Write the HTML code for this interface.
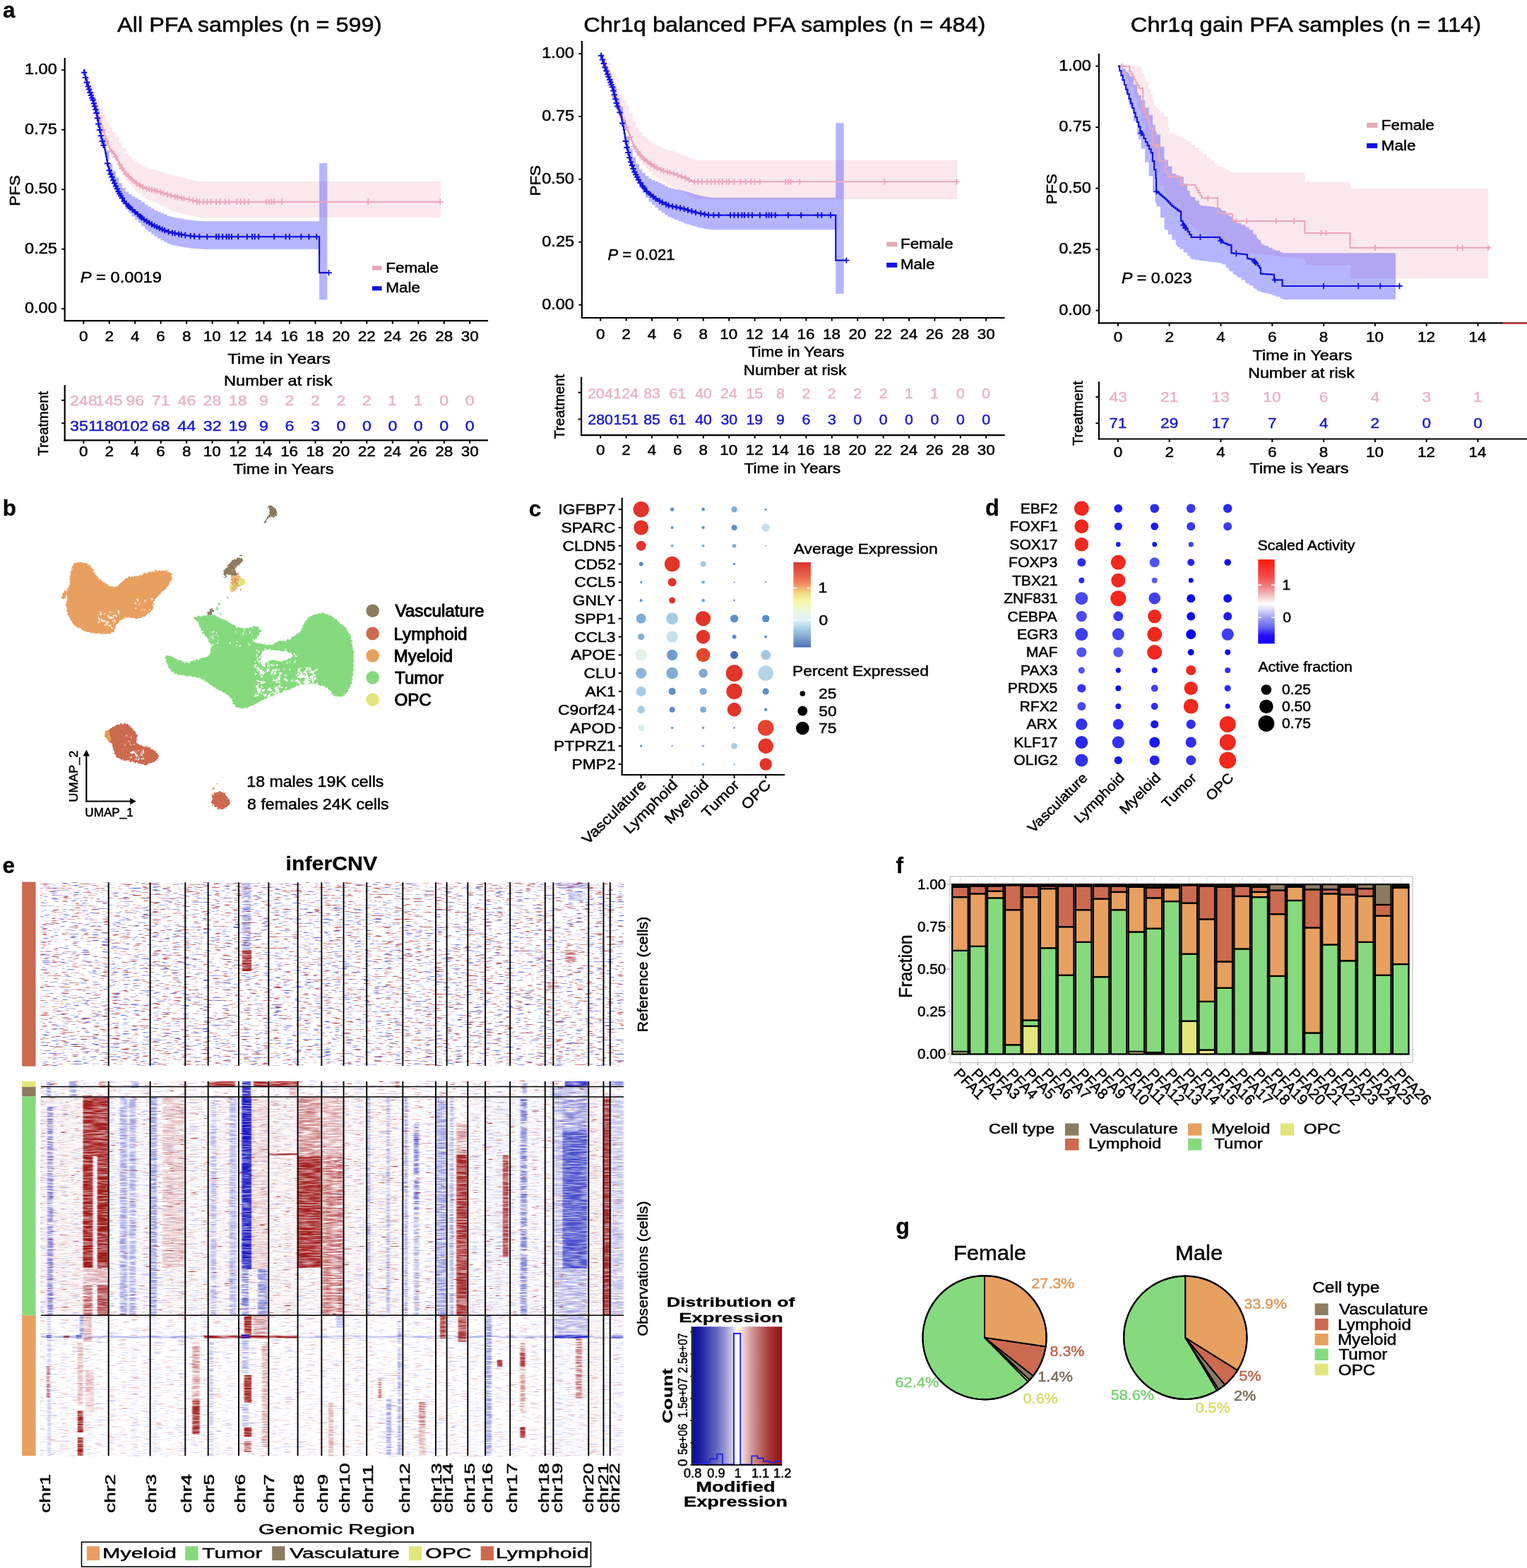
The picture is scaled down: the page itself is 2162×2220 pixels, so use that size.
<!DOCTYPE html>
<html><head><meta charset="utf-8"><title>Figure</title>
<style>
html,body{margin:0;padding:0;background:#fff;}
body{width:2162px;height:2220px;overflow:hidden;}
svg{display:block;}
text{font-family:"Liberation Sans",Arial,Helvetica,sans-serif;}
</style></head><body>
<svg width="2162" height="2220" viewBox="0 0 2162 2220">
<rect x="0" y="0" width="2162" height="2220" fill="#fff"/>
<text transform="translate(4.8,24.6)" x="-0.79" y="0" font-size="31.5" fill="#000" font-weight="bold" stroke="#000" stroke-width="0.3">a</text>
<text transform="translate(166.1,45.3) scale(1.0824,1)" x="-0" y="0" font-size="30" fill="#000" stroke="#000" stroke-width="0.5">All PFA samples (n = 599)</text>
<polygon points="118.3,99.2 122.86,99.2 122.86,109.21 127.41,109.21 127.41,119.21 131.97,119.21 131.97,129.28 136.53,129.28 136.53,141.57 141.09,141.57 141.09,152.19 145.64,152.19 145.64,162.45 150.2,162.45 150.2,172.76 154.76,172.76 154.76,180.43 159.32,180.43 159.32,187.14 163.88,187.14 163.88,193.25 168.43,193.25 168.43,202.21 172.99,202.21 172.99,209.7 177.55,209.7 177.55,216.4 182.1,216.4 182.1,221.06 186.66,221.06 186.66,225.49 191.22,225.49 191.22,229.21 195.78,229.21 195.78,232.6 200.33,232.6 200.33,234.94 204.89,234.94 204.89,237.28 209.45,237.28 209.45,238.77 214.01,238.77 214.01,239.8 218.56,239.8 218.56,240.82 223.12,240.82 223.12,242.26 227.68,242.26 227.68,243.71 232.24,243.71 232.24,245.15 236.8,245.15 236.8,246.52 241.35,246.52 241.35,247.86 245.91,247.86 245.91,249.2 250.47,249.2 250.47,250.36 255.02,250.36 255.02,251.28 259.58,251.28 259.58,252.21 264.14,252.21 264.14,253.15 268.7,253.15 268.7,254.18 273.25,254.18 273.25,255.2 277.81,255.2 277.81,256.23 282.37,256.23 282.37,257.05 286.93,257.05 286.93,257.05 291.49,257.05 291.49,257.05 296.04,257.05 296.04,257.05 300.6,257.05 300.6,257.05 305.16,257.05 305.16,257.05 309.71,257.05 309.71,257.05 314.27,257.05 314.27,257.05 318.83,257.05 318.83,257.05 323.39,257.05 323.39,257.05 327.94,257.05 327.94,257.05 332.5,257.05 332.5,257.05 337.06,257.05 337.06,257.05 341.62,257.05 341.62,257.05 346.18,257.05 346.18,257.05 350.73,257.05 350.73,257.05 355.29,257.05 355.29,257.05 359.85,257.05 359.85,257.05 364.41,257.05 364.41,257.05 368.96,257.05 368.96,257.05 373.52,257.05 373.52,257.05 378.08,257.05 378.08,257.05 382.63,257.05 382.63,257.05 387.19,257.05 387.19,257.05 391.75,257.05 391.75,257.05 396.31,257.05 396.31,257.05 400.87,257.05 400.87,257.05 405.42,257.05 405.42,257.05 409.98,257.05 409.98,257.05 414.54,257.05 414.54,257.05 419.1,257.05 419.1,257.05 423.65,257.05 423.65,257.05 428.21,257.05 428.21,257.05 432.77,257.05 432.77,257.05 437.33,257.05 437.33,257.05 441.88,257.05 441.88,257.05 446.44,257.05 446.44,257.05 451,257.05 451,257.05 455.56,257.05 455.56,257.05 460.11,257.05 460.11,257.05 464.67,257.05 464.67,257.05 469.23,257.05 469.23,257.05 473.79,257.05 473.79,257.05 478.34,257.05 478.34,257.05 482.9,257.05 482.9,257.05 487.46,257.05 487.46,257.05 492.02,257.05 492.02,257.05 496.57,257.05 496.57,257.05 501.13,257.05 501.13,257.05 505.69,257.05 505.69,257.05 510.25,257.05 510.25,257.05 514.8,257.05 514.8,257.05 519.36,257.05 519.36,257.05 523.92,257.05 523.92,257.05 528.48,257.05 528.48,257.05 533.03,257.05 533.03,257.05 537.59,257.05 537.59,257.05 542.15,257.05 542.15,257.05 546.71,257.05 546.71,257.05 551.26,257.05 551.26,257.05 555.82,257.05 555.82,257.05 560.38,257.05 560.38,257.05 564.93,257.05 564.93,257.05 569.49,257.05 569.49,257.05 574.05,257.05 574.05,257.05 578.61,257.05 578.61,257.05 583.16,257.05 583.16,257.05 587.72,257.05 587.72,257.05 592.28,257.05 592.28,257.05 596.84,257.05 596.84,257.05 601.39,257.05 601.39,257.05 605.95,257.05 605.95,257.05 610.51,257.05 610.51,257.05 615.07,257.05 615.07,257.05 619.62,257.05 619.62,257.05 624.18,257.05 624.18,308.08 619.62,308.08 619.62,308.08 615.07,308.08 615.07,308.08 610.51,308.08 610.51,308.08 605.95,308.08 605.95,308.08 601.39,308.08 601.39,308.08 596.84,308.08 596.84,308.08 592.28,308.08 592.28,308.08 587.72,308.08 587.72,308.08 583.16,308.08 583.16,308.08 578.61,308.08 578.61,308.08 574.05,308.08 574.05,308.08 569.49,308.08 569.49,308.08 564.93,308.08 564.93,308.08 560.38,308.08 560.38,308.08 555.82,308.08 555.82,308.08 551.26,308.08 551.26,308.08 546.71,308.08 546.71,308.08 542.15,308.08 542.15,308.08 537.59,308.08 537.59,308.08 533.03,308.08 533.03,308.08 528.48,308.08 528.48,308.08 523.92,308.08 523.92,308.08 519.36,308.08 519.36,308.08 514.8,308.08 514.8,308.08 510.25,308.08 510.25,308.08 505.69,308.08 505.69,308.08 501.13,308.08 501.13,308.08 496.57,308.08 496.57,308.08 492.02,308.08 492.02,308.08 487.46,308.08 487.46,308.08 482.9,308.08 482.9,308.08 478.34,308.08 478.34,308.08 473.79,308.08 473.79,308.08 469.23,308.08 469.23,308.08 464.67,308.08 464.67,308.08 460.11,308.08 460.11,308.08 455.56,308.08 455.56,308.08 451,308.08 451,308.08 446.44,308.08 446.44,308.08 441.88,308.08 441.88,308.08 437.33,308.08 437.33,308.08 432.77,308.08 432.77,308.08 428.21,308.08 428.21,308.08 423.65,308.08 423.65,308.08 419.1,308.08 419.1,308.08 414.54,308.08 414.54,308.08 409.98,308.08 409.98,308.08 405.42,308.08 405.42,308.08 400.87,308.08 400.87,308.08 396.31,308.08 396.31,308.08 391.75,308.08 391.75,308.08 387.19,308.08 387.19,308.08 382.63,308.08 382.63,308.08 378.08,308.08 378.08,308.08 373.52,308.08 373.52,308.08 368.96,308.08 368.96,308.08 364.41,308.08 364.41,308.08 359.85,308.08 359.85,308.08 355.29,308.08 355.29,308.08 350.73,308.08 350.73,308.08 346.18,308.08 346.18,308.08 341.62,308.08 341.62,308.08 337.06,308.08 337.06,308.08 332.5,308.08 332.5,308.08 327.94,308.08 327.94,308.08 323.39,308.08 323.39,308.08 318.83,308.08 318.83,308.08 314.27,308.08 314.27,308.08 309.71,308.08 309.71,308.08 305.16,308.08 305.16,308.08 300.6,308.08 300.6,308.08 296.04,308.08 296.04,308.08 291.49,308.08 291.49,308.08 286.93,308.08 286.93,308.08 282.37,308.08 282.37,307.26 277.81,307.26 277.81,306.24 273.25,306.24 273.25,305.22 268.7,305.22 268.7,304.19 264.14,304.19 264.14,303.25 259.58,303.25 259.58,302.32 255.02,302.32 255.02,301.39 250.47,301.39 250.47,300.24 245.91,300.24 245.91,298.1 241.35,298.1 241.35,295.96 236.8,295.96 236.8,293.8 232.24,293.8 232.24,291.56 227.68,291.56 227.68,289.32 223.12,289.32 223.12,287.08 218.56,287.08 218.56,285.26 214.01,285.26 214.01,283.44 209.45,283.44 209.45,281.14 204.89,281.14 204.89,278.01 200.33,278.01 200.33,274.87 195.78,274.87 195.78,270.69 191.22,270.69 191.22,266.17 186.66,266.17 186.66,260.94 182.1,260.94 182.1,255.49 177.55,255.49 177.55,247.99 172.99,247.99 172.99,239.7 168.43,239.7 168.43,229.94 163.88,229.94 163.88,223.04 159.32,223.04 159.32,215.54 154.76,215.54 154.76,203.47 150.2,203.47 150.2,188.78 145.64,188.78 145.64,174.13 141.09,174.13 141.09,159.12 136.53,159.12 136.53,142.45 131.97,142.45 131.97,127.99 127.41,127.99 127.41,113.6 122.86,113.6 122.86,99.2 118.3,99.2" fill="#f2b8c6" fill-opacity="0.33"/>
<polygon points="118.3,99.2 122.86,99.2 122.86,115.56 127.41,115.56 127.41,128.67 131.97,128.67 131.97,139.46 136.53,139.46 136.53,155.18 141.09,155.18 141.09,177.87 145.64,177.87 145.64,195.42 150.2,195.42 150.2,213.28 154.76,213.28 154.76,231.59 159.32,231.59 159.32,242.03 163.88,242.03 163.88,251.2 168.43,251.2 168.43,259.37 172.99,259.37 172.99,265.74 177.55,265.74 177.55,271.5 182.1,271.5 182.1,274.84 186.66,274.84 186.66,278.03 191.22,278.03 191.22,280.6 195.78,280.6 195.78,283.22 200.33,283.22 200.33,285.96 204.89,285.96 204.89,289.61 209.45,289.61 209.45,292.42 214.01,292.42 214.01,295.24 218.56,295.24 218.56,297.67 223.12,297.67 223.12,299.88 227.68,299.88 227.68,302.07 232.24,302.07 232.24,303.86 236.8,303.86 236.8,305.66 241.35,305.66 241.35,307.1 245.91,307.1 245.91,308.03 250.47,308.03 250.47,308.96 255.02,308.96 255.02,309.86 259.58,309.86 259.58,310.58 264.14,310.58 264.14,311.3 268.7,311.3 268.7,312.02 273.25,312.02 273.25,312.4 277.81,312.4 277.81,312.71 282.37,312.71 282.37,313.02 286.93,313.02 286.93,313.15 291.49,313.15 291.49,313.15 296.04,313.15 296.04,313.15 300.6,313.15 300.6,313.15 305.16,313.15 305.16,313.15 309.71,313.15 309.71,313.15 314.27,313.15 314.27,313.15 318.83,313.15 318.83,313.15 323.39,313.15 323.39,313.15 327.94,313.15 327.94,313.15 332.5,313.15 332.5,313.15 337.06,313.15 337.06,313.15 341.62,313.15 341.62,313.15 346.18,313.15 346.18,313.15 350.73,313.15 350.73,313.15 355.29,313.15 355.29,313.15 359.85,313.15 359.85,313.15 364.41,313.15 364.41,313.15 368.96,313.15 368.96,313.15 373.52,313.15 373.52,313.15 378.08,313.15 378.08,313.15 382.63,313.15 382.63,313.15 387.19,313.15 387.19,313.15 391.75,313.15 391.75,313.15 396.31,313.15 396.31,313.15 400.87,313.15 400.87,313.15 405.42,313.15 405.42,313.15 409.98,313.15 409.98,313.15 414.54,313.15 414.54,313.15 419.1,313.15 419.1,313.15 423.65,313.15 423.65,313.15 428.21,313.15 428.21,313.15 432.77,313.15 432.77,313.15 437.33,313.15 437.33,313.15 441.88,313.15 441.88,313.15 446.44,313.15 446.44,313.15 451,313.15 451,313.15 452.09,313.15 452.09,352.7 451,352.7 451,352.7 446.44,352.7 446.44,352.7 441.88,352.7 441.88,352.7 437.33,352.7 437.33,352.7 432.77,352.7 432.77,352.7 428.21,352.7 428.21,352.7 423.65,352.7 423.65,352.7 419.1,352.7 419.1,352.7 414.54,352.7 414.54,352.7 409.98,352.7 409.98,352.7 405.42,352.7 405.42,352.7 400.87,352.7 400.87,352.7 396.31,352.7 396.31,352.7 391.75,352.7 391.75,352.7 387.19,352.7 387.19,352.7 382.63,352.7 382.63,352.7 378.08,352.7 378.08,352.7 373.52,352.7 373.52,352.7 368.96,352.7 368.96,352.7 364.41,352.7 364.41,352.7 359.85,352.7 359.85,352.7 355.29,352.7 355.29,352.7 350.73,352.7 350.73,352.7 346.18,352.7 346.18,352.7 341.62,352.7 341.62,352.7 337.06,352.7 337.06,352.7 332.5,352.7 332.5,352.7 327.94,352.7 327.94,352.7 323.39,352.7 323.39,352.7 318.83,352.7 318.83,352.7 314.27,352.7 314.27,352.7 309.71,352.7 309.71,352.7 305.16,352.7 305.16,352.7 300.6,352.7 300.6,352.7 296.04,352.7 296.04,352.7 291.49,352.7 291.49,352.7 286.93,352.7 286.93,352.56 282.37,352.56 282.37,352.25 277.81,352.25 277.81,351.95 273.25,351.95 273.25,351.57 268.7,351.57 268.7,350.85 264.14,350.85 264.14,350.13 259.58,350.13 259.58,349.41 255.02,349.41 255.02,348.5 250.47,348.5 250.47,347.58 245.91,347.58 245.91,346.65 241.35,346.65 241.35,345.2 236.8,345.2 236.8,342.73 232.24,342.73 232.24,340.27 227.68,340.27 227.68,337.4 223.12,337.4 223.12,334.51 218.56,334.51 218.56,331.41 214.01,331.41 214.01,327.91 209.45,327.91 209.45,324.42 204.89,324.42 204.89,320.1 200.33,320.1 200.33,315.46 195.78,315.46 195.78,310.95 191.22,310.95 191.22,306.48 186.66,306.48 186.66,301.39 182.1,301.39 182.1,296.15 177.55,296.15 177.55,288.49 172.99,288.49 172.99,280.23 168.43,280.23 168.43,270.17 163.88,270.17 163.88,259.09 159.32,259.09 159.32,246.76 154.76,246.76 154.76,226.56 150.2,226.56 150.2,206.8 145.64,206.8 145.64,187.35 141.09,187.35 141.09,162.77 136.53,162.77 136.53,145.15 131.97,145.15 131.97,132.46 127.41,132.46 127.41,117.45 122.86,117.45 122.86,99.2 118.3,99.2" fill="#3333ff" fill-opacity="0.36"/>
<rect x="452.09" y="231.02" width="11.3" height="193.34" fill="#3333ff" fill-opacity="0.36"/>
<path d="M118.3,99.2H119.21V101.92H120.12V104.64H121.03V107.36H121.95V110.08H122.86V112.8H123.77V115.52H124.68V118.24H125.59V120.96H126.5V123.68H127.41V126.39H128.33V129.11H129.24V131.82H130.15V134.54H131.06V137.25H131.97V140.06H132.88V143.23H133.8V146.41H134.71V149.58H135.62V152.76H136.53V155.93H137.44V159.11H138.35V162.01H139.26V164.72H140.18V167.44H141.09V170.15H142V172.86H142.91V175.58H143.82V178.29H144.73V181.14H145.65V184H146.56V186.85H147.47V189.7H148.38V192.55H149.29V195.4H150.2V197.9H151.11V200.15H152.03V202.4H152.94V204.66H153.85V206.91H154.76V209.16H155.67V211.42H156.58V212.53H157.49V213.64H158.41V214.75H159.32V215.87H160.23V216.98H161.14V218.09H162.05V219.21H162.96V220.32H163.87V221.98H164.79V223.77H165.7V225.56H166.61V227.35H167.52V229.15H168.43V230.94H169.34V232.66H170.26V234.1H171.17V235.55H172.08V236.99H172.99V238.43H173.9V239.87H174.81V241.32H175.72V242.76H176.64V244.2H177.55V245.13H178.46V246.06H179.37V247H180.28V247.93H181.19V248.86H182.1V249.79H183.02V250.72H183.93V251.65H184.84V252.58H185.75V253.48H186.66V254.22H187.57V254.96H188.49V255.71H189.4V256.45H190.31V257.19H191.22V257.94H192.13V258.68H193.04V259.43H193.95V260.17H194.87V260.86H195.78V261.33H196.69V261.79H197.6V262.26H198.51V262.73H199.42V263.2H200.33V263.67H201.25V264.13H202.16V264.6H203.07V265.07H203.98V265.54H204.89V266.01H205.8V266.47H206.72V266.89H207.63V267.09H208.54V267.3H209.45V267.5H210.36V267.71H211.27V267.91H212.18V268.12H213.1V268.32H214.01V268.53H214.92V268.73H215.83V268.94H216.74V269.14H217.65V269.35H218.56V269.55H219.48V269.84H220.39V270.13H221.3V270.42H222.21V270.71H223.12V270.99H224.03V271.28H224.95V271.57H225.86V271.86H226.77V272.15H227.68V272.44H228.59V272.73H229.5V273.01H230.41V273.3H231.33V273.59H232.24V273.88H233.15V274.17H234.06V274.44H234.97V274.71H235.88V274.98H236.79V275.25H237.71V275.52H238.62V275.78H239.53V276.05H240.44V276.32H241.35V276.59H242.26V276.86H243.18V277.12H244.09V277.39H245V277.66H245.91V277.93H246.82V278.2H247.73V278.46H248.64V278.72H249.56V278.9H250.47V279.09H251.38V279.27H252.29V279.46H253.2V279.64H254.11V279.83H255.02V280.01H255.94V280.2H256.85V280.38H257.76V280.57H258.67V280.76H259.58V280.94H260.49V281.13H261.41V281.31H262.32V281.5H263.23V281.68H264.14V281.88H265.05V282.09H265.96V282.29H266.87V282.5H267.79V282.7H268.7V282.91H269.61V283.11H270.52V283.32H271.43V283.52H272.34V283.73H273.25V283.93H274.17V284.14H275.08V284.34H275.99V284.55H276.9V284.75H277.81V284.96H278.72V285.16H279.64V285.37H280.55V285.57H281.46V285.78H282.37H283.28H284.19H285.1H286.02H286.93H287.84H288.75H289.66H290.57H291.49H292.4H293.31H294.22H295.13H296.04H296.95H297.87H298.78H299.69H300.6H301.51H302.42H303.33H304.25H305.16H306.07H306.98H307.89H308.8H309.72H310.63H311.54H312.45H313.36H314.27H315.18H316.1H317.01H317.92H318.83H319.74H320.65H321.56H322.48H323.39H324.3H325.21H326.12H327.03H327.95H328.86H329.77H330.68H331.59H332.5H333.41H334.33H335.24H336.15H337.06H337.97H338.88H339.79H340.71H341.62H342.53H343.44H344.35H345.26H346.18H347.09H348H348.91H349.82H350.73H351.64H352.56H353.47H354.38H355.29H356.2H357.11H358.02H358.94H359.85H360.76H361.67H362.58H363.49H364.41H365.32H366.23H367.14H368.05H368.96H369.87H370.79H371.7H372.61H373.52H374.43H375.34H376.25H377.17H378.08H378.99H379.9H380.81H381.72H382.64H383.55H384.46H385.37H386.28H387.19H388.1H389.02H389.93H390.84H391.75H392.66H393.57H394.48H395.4H396.31H397.22H398.13H399.04H399.95H400.87H401.78H402.69H403.6H404.51H405.42H406.33H407.25H408.16H409.07H409.98H410.89H411.8H412.71H413.63H414.54H415.45H416.36H417.27H418.18H419.1H420.01H420.92H421.83H422.74H423.65H424.56H425.48H426.39H427.3H428.21H429.12H430.03H430.94H431.86H432.77H433.68H434.59H435.5H436.41H437.33H438.24H439.15H440.06H440.97H441.88H442.79H443.71H444.62H445.53H446.44H447.35H448.26H449.17H450.09H451H451.91H452.82H453.73H454.64H455.56H456.47H457.38H458.29H459.2H460.11H461.02H461.94H462.85H463.76H464.67H465.58H466.49H467.4H468.32H469.23H470.14H471.05H471.96H472.87H473.79H474.7H475.61H476.52H477.43H478.34H479.25H480.17H481.08H481.99H482.9H483.81H484.72H485.63H486.55H487.46H488.37H489.28H490.19H491.1H492.02H492.93H493.84H494.75H495.66H496.57H497.48H498.4H499.31H500.22H501.13H502.04H502.95H503.86H504.78H505.69H506.6H507.51H508.42H509.33H510.25H511.16H512.07H512.98H513.89H514.8H515.71H516.63H517.54H518.45H519.36H520.27H521.18H522.09H523.01H523.92H524.83H525.74H526.65H527.56H528.48H529.39H530.3H531.21H532.12H533.03H533.94H534.86H535.77H536.68H537.59H538.5H539.41H540.32H541.24H542.15H543.06H543.97H544.88H545.79H546.71H547.62H548.53H549.44H550.35H551.26H552.17H553.09H554H554.91H555.82H556.73H557.64H558.55H559.47H560.38H561.29H562.2H563.11H564.02H564.94H565.85H566.76H567.67H568.58H569.49H570.4H571.32H572.23H573.14H574.05H574.96H575.87H576.78H577.7H578.61H579.52H580.43H581.34H582.25H583.17H584.08H584.99H585.9H586.81H587.72H588.63H589.55H590.46H591.37H592.28H593.19H594.1H595.01H595.93H596.84H597.75H598.66H599.57H600.48H601.4H602.31H603.22H604.13H605.04H605.95H606.86H607.78H608.69H609.6H610.51H611.42H612.33H613.24H614.16H615.07H615.98H616.89H617.8H618.71H619.63H620.54H621.45H622.36H623.27H624.18" fill="none" stroke="#eaa6b8" stroke-width="2"/>
<path d="M119.57,115.52h8.4M123.77,111.32v8.4M125.04,131.82h8.4M129.24,127.62v8.4M130.51,149.58h8.4M134.71,145.38v8.4M135.98,167.44h8.4M140.18,163.24v8.4M141.44,184h8.4M145.64,179.8v8.4M146.91,200.15h8.4M151.11,195.95v8.4M154.21,214.75h8.4M158.41,210.55v8.4M159.68,221.98h8.4M163.88,217.78v8.4M165.14,232.66h8.4M169.34,228.46v8.4M168.79,238.43h8.4M172.99,234.23v8.4M174.26,246.06h8.4M178.46,241.86v8.4M177.91,249.79h8.4M182.1,245.59v8.4M183.37,254.96h8.4M187.57,250.76v8.4M188.84,259.43h8.4M193.04,255.23v8.4M194.31,262.73h8.4M198.51,258.53v8.4M197.96,264.6h8.4M202.16,260.4v8.4M203.43,267.09h8.4M207.63,262.89v8.4M207.07,267.91h8.4M211.27,263.71v8.4M210.72,268.73h8.4M214.92,264.53v8.4M214.37,269.55h8.4M218.56,265.35v8.4M218.01,270.71h8.4M222.21,266.51v8.4M223.48,272.44h8.4M227.68,268.24v8.4M227.13,273.59h8.4M231.33,269.39v8.4M232.6,275.25h8.4M236.8,271.05v8.4M238.06,276.86h8.4M242.26,272.66v8.4M243.53,278.46h8.4M247.73,274.26v8.4M247.18,279.27h8.4M251.38,275.07v8.4M252.65,280.38h8.4M256.85,276.18v8.4M256.29,281.13h8.4M260.49,276.93v8.4M263.59,282.7h8.4M267.79,278.5v8.4M269.06,283.93h8.4M273.25,279.73v8.4M274.52,285.16h8.4M278.72,280.96v8.4M278.17,285.78h8.4M282.37,281.58v8.4M283.64,285.78h8.4M287.84,281.58v8.4M289.11,285.78h8.4M293.31,281.58v8.4M294.58,285.78h8.4M298.78,281.58v8.4M301.87,285.78h8.4M306.07,281.58v8.4M307.34,285.78h8.4M311.54,281.58v8.4M314.63,285.78h8.4M318.83,281.58v8.4M320.1,285.78h8.4M324.3,281.58v8.4M331.04,285.78h8.4M335.24,281.58v8.4M336.51,285.78h8.4M340.71,281.58v8.4M341.98,285.78h8.4M346.18,281.58v8.4M347.44,285.78h8.4M351.64,281.58v8.4M372.97,285.78h8.4M377.17,281.58v8.4M376.61,285.78h8.4M380.81,281.58v8.4M380.26,285.78h8.4M384.46,281.58v8.4M383.9,285.78h8.4M388.1,281.58v8.4M394.84,285.78h8.4M399.04,281.58v8.4M516.98,285.78h8.4M521.18,281.58v8.4M619.07,285.78h8.4M623.27,281.58v8.4" fill="none" stroke="#eaa6b8" stroke-width="1.8"/>
<path d="M118.3,99.2H119.21V102.72H120.12V106.23H121.03V109.75H121.95V113.26H122.86V116.78H123.77V119.66H124.68V122.55H125.59V125.44H126.5V128.32H127.41V131.11H128.33V133.47H129.24V135.84H130.15V138.21H131.06V140.57H131.97V143.13H132.88V146.44H133.8V149.75H134.71V153.06H135.62V156.38H136.53V160.06H137.44V165.24H138.35V170.41H139.26V175.59H140.18V179.78H141.09V183.97H142V188.16H142.91V192.35H143.82V196.54H144.73V199.64H145.65V202.74H146.56V205.84H147.47V208.94H148.38V212.36H149.29V217.09H150.2V221.83H151.11V226.56H152.03V231.29H152.94V235.65H153.85V238.5H154.76V241.35H155.67V244.2H156.58V246.4H157.49V248.61H158.41V250.81H159.32V253.01H160.23V255.21H161.14V257.41H162.05V259.51H162.96V261.46H163.87V263.41H164.79V265.35H165.7V267.3H166.61V269.24H167.52V271.19H168.43V272.79H169.34V274.31H170.26V275.83H171.17V277.35H172.08V278.86H172.99V280.38H173.9V281.9H174.81V283.42H175.72V284.93H176.64V286.45H177.55V287.36H178.46V288.28H179.37V289.19H180.28V290.1H181.19V291.01H182.1V291.93H183.02V292.84H183.93V293.75H184.84V294.67H185.75V295.58H186.66V296.34H187.57V297.1H188.49V297.85H189.4V298.61H190.31V299.37H191.22V300.13H192.13V300.89H193.04V301.65H193.95V302.41H194.87V303.17H195.78V303.97H196.69V304.76H197.6V305.55H198.51V306.35H199.42V307.14H200.33V307.93H201.25V308.73H202.16V309.52H203.07V310.31H203.98V311.01H204.89V311.58H205.8V312.14H206.72V312.7H207.63V313.27H208.54V313.83H209.45V314.39H210.36V314.96H211.27V315.52H212.18V316.08H213.1V316.65H214.01V317.21H214.92V317.77H215.83V318.31H216.74V318.75H217.65V319.2H218.56V319.64H219.48V320.08H220.39V320.52H221.3V320.96H222.21V321.41H223.12V321.85H224.03V322.29H224.95V322.73H225.86V323.17H226.77V323.62H227.68V324.04H228.59V324.4H229.5V324.76H230.41V325.12H231.33V325.48H232.24V325.83H233.15V326.19H234.06V326.55H234.97V326.91H235.88V327.27H236.79V327.63H237.71V327.99H238.62V328.34H239.53V328.7H240.44V328.89H241.35V329.07H242.26V329.26H243.18V329.44H244.09V329.63H245V329.81H245.91V330H246.82V330.19H247.73V330.37H248.64V330.56H249.56V330.74H250.47V330.93H251.38V331.11H252.29V331.3H253.2V331.48H254.11V331.67H255.02V331.83H255.94V331.97H256.85V332.12H257.76V332.26H258.67V332.41H259.58V332.55H260.49V332.7H261.41V332.84H262.32V332.98H263.23V333.13H264.14V333.27H265.05V333.42H265.96V333.56H266.87V333.71H267.79V333.85H268.7V333.99H269.61V334.12H270.52V334.18H271.43V334.25H272.34V334.31H273.25V334.37H274.17V334.43H275.08V334.49H275.99V334.56H276.9V334.62H277.81V334.68H278.72V334.74H279.64V334.8H280.55V334.86H281.46V334.93H282.37V334.99H283.28V335.05H284.19V335.11H285.1H286.02H286.93H287.84H288.75H289.66H290.57H291.49H292.4H293.31H294.22H295.13H296.04H296.95H297.87H298.78H299.69H300.6H301.51H302.42H303.33H304.25H305.16H306.07H306.98H307.89H308.8H309.72H310.63H311.54H312.45H313.36H314.27H315.18H316.1H317.01H317.92H318.83H319.74H320.65H321.56H322.48H323.39H324.3H325.21H326.12H327.03H327.95H328.86H329.77H330.68H331.59H332.5H333.41H334.33H335.24H336.15H337.06H337.97H338.88H339.79H340.71H341.62H342.53H343.44H344.35H345.26H346.18H347.09H348H348.91H349.82H350.73H351.64H352.56H353.47H354.38H355.29H356.2H357.11H358.02H358.94H359.85H360.76H361.67H362.58H363.49H364.41H365.32H366.23H367.14H368.05H368.96H369.87H370.79H371.7H372.61H373.52H374.43H375.34H376.25H377.17H378.08H378.99H379.9H380.81H381.72H382.64H383.55H384.46H385.37H386.28H387.19H388.1H389.02H389.93H390.84H391.75H392.66H393.57H394.48H395.4H396.31H397.22H398.13H399.04H399.95H400.87H401.78H402.69H403.6H404.51H405.42H406.33H407.25H408.16H409.07H409.98H410.89H411.8H412.71H413.63H414.54H415.45H416.36H417.27H418.18H419.1H420.01H420.92H421.83H422.74H423.65H424.56H425.48H426.39H427.3H428.21H429.12H430.03H430.94H431.86H432.77H433.68H434.59H435.5H436.41H437.33H438.24H439.15H440.06H440.97H441.88H442.79H443.71H444.62H445.53H446.44H447.35H448.26H449.17H450.09H451H451.91H452.09V386.16H465.58" fill="none" stroke="#1212e0" stroke-width="2.2"/>
<path d="M115.01,102.72h8.4M119.21,98.52v8.4M116.83,109.75h8.4M121.03,105.55v8.4M118.66,116.78h8.4M122.86,112.58v8.4M120.48,122.55h8.4M124.68,118.35v8.4M121.76,126.59h8.4M125.96,122.39v8.4M123.21,131.11h8.4M127.41,126.91v8.4M124.67,134.89h8.4M128.87,130.69v8.4M126.13,138.68h8.4M130.33,134.48v8.4M127.23,141.52h8.4M131.43,137.32v8.4M128.68,146.44h8.4M132.88,142.24v8.4M129.78,150.41h8.4M133.98,146.21v8.4M131.05,155.05h8.4M135.25,150.85v8.4M132.33,160.06h8.4M136.53,155.86v8.4M133.61,167.31h8.4M137.81,163.11v8.4M135.06,175.59h8.4M139.26,171.39v8.4M136.89,183.97h8.4M141.09,179.77v8.4M138.71,192.35h8.4M142.91,188.15v8.4M140.53,199.64h8.4M144.73,195.44v8.4M142.36,205.84h8.4M146.56,201.64v8.4M147.83,231.29h8.4M152.03,227.09v8.4M150.56,241.35h8.4M154.76,237.15v8.4M152.38,246.4h8.4M156.58,242.2v8.4M154.21,250.81h8.4M158.41,246.61v8.4M156.03,255.21h8.4M160.23,251.01v8.4M157.85,259.51h8.4M162.05,255.31v8.4M159.68,263.41h8.4M163.88,259.21v8.4M161.5,267.3h8.4M165.7,263.1v8.4M163.32,271.19h8.4M167.52,266.99v8.4M165.14,274.31h8.4M169.34,270.11v8.4M166.97,277.35h8.4M171.17,273.15v8.4M168.79,280.38h8.4M172.99,276.18v8.4M171.52,284.93h8.4M175.72,280.73v8.4M174.26,288.28h8.4M178.46,284.08v8.4M177.91,291.93h8.4M182.1,287.73v8.4M179.73,293.75h8.4M183.93,289.55v8.4M183.37,297.1h8.4M187.57,292.9v8.4M187.02,300.13h8.4M191.22,295.93v8.4M190.67,303.17h8.4M194.87,298.97v8.4M194.31,306.35h8.4M198.51,302.15v8.4M196.13,307.93h8.4M200.33,303.73v8.4M199.78,311.01h8.4M203.98,306.81v8.4M203.43,313.27h8.4M207.63,309.07v8.4M207.07,315.52h8.4M211.27,311.32v8.4M210.72,317.77h8.4M214.92,313.57v8.4M214.37,319.64h8.4M218.56,315.44v8.4M218.01,321.41h8.4M222.21,317.21v8.4M221.66,323.17h8.4M225.86,318.97v8.4M225.3,324.76h8.4M229.5,320.56v8.4M228.95,326.19h8.4M233.15,321.99v8.4M234.42,328.34h8.4M238.62,324.14v8.4M239.89,329.63h8.4M244.09,325.43v8.4M243.53,330.37h8.4M247.73,326.17v8.4M249,331.48h8.4M253.2,327.28v8.4M252.65,332.12h8.4M256.85,327.92v8.4M258.12,332.98h8.4M262.32,328.78v8.4M265.41,334.12h8.4M269.61,329.92v8.4M270.88,334.49h8.4M275.08,330.29v8.4M278.17,334.99h8.4M282.37,330.79v8.4M289.11,335.12h8.4M293.31,330.92v8.4M301.87,335.12h8.4M306.07,330.92v8.4M305.51,335.12h8.4M309.71,330.92v8.4M310.98,335.12h8.4M315.18,330.92v8.4M316.45,335.12h8.4M320.65,330.92v8.4M320.1,335.12h8.4M324.3,330.92v8.4M323.75,335.12h8.4M327.94,330.92v8.4M332.86,335.12h8.4M337.06,330.92v8.4M345.62,335.12h8.4M349.82,330.92v8.4M352.91,335.12h8.4M357.11,330.92v8.4M356.56,335.12h8.4M360.76,330.92v8.4M362.03,335.12h8.4M366.23,330.92v8.4M383.9,335.12h8.4M388.1,330.92v8.4M400.31,335.12h8.4M404.51,330.92v8.4M405.78,335.12h8.4M409.98,330.92v8.4M422.19,335.12h8.4M426.39,330.92v8.4M433.13,335.12h8.4M437.33,330.92v8.4M444.06,335.12h8.4M448.26,330.92v8.4" fill="none" stroke="#1212e0" stroke-width="2"/>
<path d="M461.38,386.16h8.4M465.58,381.96v8.4" fill="none" stroke="#1212e0" stroke-width="1.8"/>
<line x1="91.7" y1="82" x2="91.7" y2="455.3" stroke="#000" stroke-width="2.2"/>
<line x1="90.6" y1="454.2" x2="691" y2="454.2" stroke="#000" stroke-width="2.2"/>
<line x1="87.2" y1="437.2" x2="91.7" y2="437.2" stroke="#000" stroke-width="2"/>
<text transform="translate(79.9,443.2) scale(1.1100,1)" x="-40.49" y="0" font-size="21.2" fill="#000" stroke="#000" stroke-width="0.5">0.00</text>
<line x1="87.2" y1="352.7" x2="91.7" y2="352.7" stroke="#000" stroke-width="2"/>
<text transform="translate(79.9,358.7) scale(1.1100,1)" x="-40.39" y="0" font-size="21.2" fill="#000" stroke="#000" stroke-width="0.5">0.25</text>
<line x1="87.2" y1="268.2" x2="91.7" y2="268.2" stroke="#000" stroke-width="2"/>
<text transform="translate(79.9,274.2) scale(1.1100,1)" x="-40.49" y="0" font-size="21.2" fill="#000" stroke="#000" stroke-width="0.5">0.50</text>
<line x1="87.2" y1="183.7" x2="91.7" y2="183.7" stroke="#000" stroke-width="2"/>
<text transform="translate(79.9,189.7) scale(1.1100,1)" x="-40.39" y="0" font-size="21.2" fill="#000" stroke="#000" stroke-width="0.5">0.75</text>
<line x1="87.2" y1="99.2" x2="91.7" y2="99.2" stroke="#000" stroke-width="2"/>
<text transform="translate(79.9,105.2) scale(1.1100,1)" x="-40.49" y="0" font-size="21.2" fill="#000" stroke="#000" stroke-width="0.5">1.00</text>
<line x1="118.3" y1="454.2" x2="118.3" y2="458.7" stroke="#000" stroke-width="2"/>
<text transform="translate(118.3,482.7) scale(1.0700,1)" x="-5.83" y="0" font-size="21" fill="#000" stroke="#000" stroke-width="0.5">0</text>
<line x1="154.76" y1="454.2" x2="154.76" y2="458.7" stroke="#000" stroke-width="2"/>
<text transform="translate(154.76,482.7) scale(1.0700,1)" x="-5.88" y="0" font-size="21" fill="#000" stroke="#000" stroke-width="0.5">2</text>
<line x1="191.22" y1="454.2" x2="191.22" y2="458.7" stroke="#000" stroke-width="2"/>
<text transform="translate(191.22,482.7) scale(1.0700,1)" x="-5.78" y="0" font-size="21" fill="#000" stroke="#000" stroke-width="0.5">4</text>
<line x1="227.68" y1="454.2" x2="227.68" y2="458.7" stroke="#000" stroke-width="2"/>
<text transform="translate(227.68,482.7) scale(1.0700,1)" x="-5.93" y="0" font-size="21" fill="#000" stroke="#000" stroke-width="0.5">6</text>
<line x1="264.14" y1="454.2" x2="264.14" y2="458.7" stroke="#000" stroke-width="2"/>
<text transform="translate(264.14,482.7) scale(1.0700,1)" x="-5.83" y="0" font-size="21" fill="#000" stroke="#000" stroke-width="0.5">8</text>
<line x1="300.6" y1="454.2" x2="300.6" y2="458.7" stroke="#000" stroke-width="2"/>
<text transform="translate(300.6,482.7) scale(1.0700,1)" x="-12.07" y="0" font-size="21" fill="#000" stroke="#000" stroke-width="0.5">10</text>
<line x1="337.06" y1="454.2" x2="337.06" y2="458.7" stroke="#000" stroke-width="2"/>
<text transform="translate(337.06,482.7) scale(1.0700,1)" x="-11.97" y="0" font-size="21" fill="#000" stroke="#000" stroke-width="0.5">12</text>
<line x1="373.52" y1="454.2" x2="373.52" y2="458.7" stroke="#000" stroke-width="2"/>
<text transform="translate(373.52,482.7) scale(1.0700,1)" x="-12.18" y="0" font-size="21" fill="#000" stroke="#000" stroke-width="0.5">14</text>
<line x1="409.98" y1="454.2" x2="409.98" y2="458.7" stroke="#000" stroke-width="2"/>
<text transform="translate(409.98,482.7) scale(1.0700,1)" x="-12.02" y="0" font-size="21" fill="#000" stroke="#000" stroke-width="0.5">16</text>
<line x1="446.44" y1="454.2" x2="446.44" y2="458.7" stroke="#000" stroke-width="2"/>
<text transform="translate(446.44,482.7) scale(1.0700,1)" x="-12.02" y="0" font-size="21" fill="#000" stroke="#000" stroke-width="0.5">18</text>
<line x1="482.9" y1="454.2" x2="482.9" y2="458.7" stroke="#000" stroke-width="2"/>
<text transform="translate(482.9,482.7) scale(1.0700,1)" x="-11.81" y="0" font-size="21" fill="#000" stroke="#000" stroke-width="0.5">20</text>
<line x1="519.36" y1="454.2" x2="519.36" y2="458.7" stroke="#000" stroke-width="2"/>
<text transform="translate(519.36,482.7) scale(1.0700,1)" x="-11.71" y="0" font-size="21" fill="#000" stroke="#000" stroke-width="0.5">22</text>
<line x1="555.82" y1="454.2" x2="555.82" y2="458.7" stroke="#000" stroke-width="2"/>
<text transform="translate(555.82,482.7) scale(1.0700,1)" x="-11.92" y="0" font-size="21" fill="#000" stroke="#000" stroke-width="0.5">24</text>
<line x1="592.28" y1="454.2" x2="592.28" y2="458.7" stroke="#000" stroke-width="2"/>
<text transform="translate(592.28,482.7) scale(1.0700,1)" x="-11.76" y="0" font-size="21" fill="#000" stroke="#000" stroke-width="0.5">26</text>
<line x1="628.74" y1="454.2" x2="628.74" y2="458.7" stroke="#000" stroke-width="2"/>
<text transform="translate(628.74,482.7) scale(1.0700,1)" x="-11.76" y="0" font-size="21" fill="#000" stroke="#000" stroke-width="0.5">28</text>
<line x1="665.2" y1="454.2" x2="665.2" y2="458.7" stroke="#000" stroke-width="2"/>
<text transform="translate(665.2,482.7) scale(1.0700,1)" x="-11.65" y="0" font-size="21" fill="#000" stroke="#000" stroke-width="0.5">30</text>
<text transform="translate(28.4,269.5) rotate(-90) scale(1.0700,1)" x="-20.84" y="0" font-size="21" fill="#000" stroke="#000" stroke-width="0.5">PFS</text>
<text transform="translate(114.4,400.3) scale(1.1174,1)" x="-0.64" y="0" font-size="21.2" fill="#000" stroke="#000" stroke-width="0.5" xml:space="preserve"><tspan font-style="italic">P</tspan> = 0.0019</text>
<rect x="527" y="376.4" width="13.6" height="6.2" fill="#e3a9b6"/>
<text transform="translate(548,386.2) scale(1.0700,1)" x="-1.68" y="0" font-size="21" fill="#000" stroke="#000" stroke-width="0.5">Female</text>
<rect x="527" y="405.2" width="13.6" height="6.2" fill="#1212e0"/>
<text transform="translate(548,414.4) scale(1.0700,1)" x="-1.68" y="0" font-size="21" fill="#000" stroke="#000" stroke-width="0.5">Male</text>
<text transform="translate(322.6,515.2) scale(1.1809,1)" x="-0.41" y="0" font-size="20.5" fill="#000" stroke="#000" stroke-width="0.5">Time in Years</text>
<text transform="translate(318.9,546.2) scale(1.1525,1)" x="-1.64" y="0" font-size="20.5" fill="#000" stroke="#000" stroke-width="0.5">Number at risk</text>
<line x1="91.7" y1="545.1" x2="91.7" y2="624.5" stroke="#000" stroke-width="2.2"/>
<line x1="90.6" y1="623.4" x2="691" y2="623.4" stroke="#000" stroke-width="2.2"/>
<line x1="87.2" y1="566.7" x2="91.7" y2="566.7" stroke="#000" stroke-width="2"/>
<line x1="87.2" y1="599.2" x2="91.7" y2="599.2" stroke="#000" stroke-width="2"/>
<text transform="translate(118.3,574) scale(1.1000,1)" x="-17.67" y="0" font-size="21.1" fill="#e8b4c2" stroke="#e8b4c2" stroke-width="0.5">248</text>
<text transform="translate(118.3,610.3) scale(1.1000,1)" x="-17.46" y="0" font-size="21.1" fill="#1c1cc8" stroke="#1c1cc8" stroke-width="0.5">351</text>
<text transform="translate(154.76,574) scale(1.1000,1)" x="-17.94" y="0" font-size="21.1" fill="#e8b4c2" stroke="#e8b4c2" stroke-width="0.5">145</text>
<text transform="translate(154.76,610.3) scale(1.1000,1)" x="-17.99" y="0" font-size="21.1" fill="#1c1cc8" stroke="#1c1cc8" stroke-width="0.5">180</text>
<text transform="translate(191.22,574) scale(1.1000,1)" x="-11.76" y="0" font-size="21.1" fill="#e8b4c2" stroke="#e8b4c2" stroke-width="0.5">96</text>
<text transform="translate(191.22,610.3) scale(1.1000,1)" x="-17.88" y="0" font-size="21.1" fill="#1c1cc8" stroke="#1c1cc8" stroke-width="0.5">102</text>
<text transform="translate(227.68,574) scale(1.1000,1)" x="-11.76" y="0" font-size="21.1" fill="#e8b4c2" stroke="#e8b4c2" stroke-width="0.5">71</text>
<text transform="translate(227.68,610.3) scale(1.1000,1)" x="-11.82" y="0" font-size="21.1" fill="#1c1cc8" stroke="#1c1cc8" stroke-width="0.5">68</text>
<text transform="translate(264.14,574) scale(1.1000,1)" x="-11.5" y="0" font-size="21.1" fill="#e8b4c2" stroke="#e8b4c2" stroke-width="0.5">46</text>
<text transform="translate(264.14,610.3) scale(1.1000,1)" x="-11.66" y="0" font-size="21.1" fill="#1c1cc8" stroke="#1c1cc8" stroke-width="0.5">44</text>
<text transform="translate(300.6,574) scale(1.1000,1)" x="-11.82" y="0" font-size="21.1" fill="#e8b4c2" stroke="#e8b4c2" stroke-width="0.5">28</text>
<text transform="translate(300.6,610.3) scale(1.1000,1)" x="-11.6" y="0" font-size="21.1" fill="#1c1cc8" stroke="#1c1cc8" stroke-width="0.5">32</text>
<text transform="translate(337.06,574) scale(1.1000,1)" x="-12.08" y="0" font-size="21.1" fill="#e8b4c2" stroke="#e8b4c2" stroke-width="0.5">18</text>
<text transform="translate(337.06,610.3) scale(1.1000,1)" x="-12.03" y="0" font-size="21.1" fill="#1c1cc8" stroke="#1c1cc8" stroke-width="0.5">19</text>
<text transform="translate(373.52,574) scale(1.1000,1)" x="-5.86" y="0" font-size="21.1" fill="#e8b4c2" stroke="#e8b4c2" stroke-width="0.5">9</text>
<text transform="translate(373.52,610.3) scale(1.1000,1)" x="-5.86" y="0" font-size="21.1" fill="#1c1cc8" stroke="#1c1cc8" stroke-width="0.5">9</text>
<text transform="translate(409.98,574) scale(1.1000,1)" x="-5.91" y="0" font-size="21.1" fill="#e8b4c2" stroke="#e8b4c2" stroke-width="0.5">2</text>
<text transform="translate(409.98,610.3) scale(1.1000,1)" x="-5.96" y="0" font-size="21.1" fill="#1c1cc8" stroke="#1c1cc8" stroke-width="0.5">6</text>
<text transform="translate(446.44,574) scale(1.1000,1)" x="-5.91" y="0" font-size="21.1" fill="#e8b4c2" stroke="#e8b4c2" stroke-width="0.5">2</text>
<text transform="translate(446.44,610.3) scale(1.1000,1)" x="-5.8" y="0" font-size="21.1" fill="#1c1cc8" stroke="#1c1cc8" stroke-width="0.5">3</text>
<text transform="translate(482.9,574) scale(1.1000,1)" x="-5.91" y="0" font-size="21.1" fill="#e8b4c2" stroke="#e8b4c2" stroke-width="0.5">2</text>
<text transform="translate(482.9,610.3) scale(1.1000,1)" x="-5.86" y="0" font-size="21.1" fill="#1c1cc8" stroke="#1c1cc8" stroke-width="0.5">0</text>
<text transform="translate(519.36,574) scale(1.1000,1)" x="-5.91" y="0" font-size="21.1" fill="#e8b4c2" stroke="#e8b4c2" stroke-width="0.5">2</text>
<text transform="translate(519.36,610.3) scale(1.1000,1)" x="-5.86" y="0" font-size="21.1" fill="#1c1cc8" stroke="#1c1cc8" stroke-width="0.5">0</text>
<text transform="translate(555.82,574) scale(1.1000,1)" x="-6.17" y="0" font-size="21.1" fill="#e8b4c2" stroke="#e8b4c2" stroke-width="0.5">1</text>
<text transform="translate(555.82,610.3) scale(1.1000,1)" x="-5.86" y="0" font-size="21.1" fill="#1c1cc8" stroke="#1c1cc8" stroke-width="0.5">0</text>
<text transform="translate(592.28,574) scale(1.1000,1)" x="-6.17" y="0" font-size="21.1" fill="#e8b4c2" stroke="#e8b4c2" stroke-width="0.5">1</text>
<text transform="translate(592.28,610.3) scale(1.1000,1)" x="-5.86" y="0" font-size="21.1" fill="#1c1cc8" stroke="#1c1cc8" stroke-width="0.5">0</text>
<text transform="translate(628.74,574) scale(1.1000,1)" x="-5.86" y="0" font-size="21.1" fill="#e8b4c2" stroke="#e8b4c2" stroke-width="0.5">0</text>
<text transform="translate(628.74,610.3) scale(1.1000,1)" x="-5.86" y="0" font-size="21.1" fill="#1c1cc8" stroke="#1c1cc8" stroke-width="0.5">0</text>
<text transform="translate(665.2,574) scale(1.1000,1)" x="-5.86" y="0" font-size="21.1" fill="#e8b4c2" stroke="#e8b4c2" stroke-width="0.5">0</text>
<text transform="translate(665.2,610.3) scale(1.1000,1)" x="-5.86" y="0" font-size="21.1" fill="#1c1cc8" stroke="#1c1cc8" stroke-width="0.5">0</text>
<line x1="118.3" y1="623.4" x2="118.3" y2="627.9" stroke="#000" stroke-width="2"/>
<text transform="translate(118.3,646) scale(1.0700,1)" x="-5.83" y="0" font-size="21" fill="#000" stroke="#000" stroke-width="0.5">0</text>
<line x1="154.76" y1="623.4" x2="154.76" y2="627.9" stroke="#000" stroke-width="2"/>
<text transform="translate(154.76,646) scale(1.0700,1)" x="-5.88" y="0" font-size="21" fill="#000" stroke="#000" stroke-width="0.5">2</text>
<line x1="191.22" y1="623.4" x2="191.22" y2="627.9" stroke="#000" stroke-width="2"/>
<text transform="translate(191.22,646) scale(1.0700,1)" x="-5.78" y="0" font-size="21" fill="#000" stroke="#000" stroke-width="0.5">4</text>
<line x1="227.68" y1="623.4" x2="227.68" y2="627.9" stroke="#000" stroke-width="2"/>
<text transform="translate(227.68,646) scale(1.0700,1)" x="-5.93" y="0" font-size="21" fill="#000" stroke="#000" stroke-width="0.5">6</text>
<line x1="264.14" y1="623.4" x2="264.14" y2="627.9" stroke="#000" stroke-width="2"/>
<text transform="translate(264.14,646) scale(1.0700,1)" x="-5.83" y="0" font-size="21" fill="#000" stroke="#000" stroke-width="0.5">8</text>
<line x1="300.6" y1="623.4" x2="300.6" y2="627.9" stroke="#000" stroke-width="2"/>
<text transform="translate(300.6,646) scale(1.0700,1)" x="-12.07" y="0" font-size="21" fill="#000" stroke="#000" stroke-width="0.5">10</text>
<line x1="337.06" y1="623.4" x2="337.06" y2="627.9" stroke="#000" stroke-width="2"/>
<text transform="translate(337.06,646) scale(1.0700,1)" x="-11.97" y="0" font-size="21" fill="#000" stroke="#000" stroke-width="0.5">12</text>
<line x1="373.52" y1="623.4" x2="373.52" y2="627.9" stroke="#000" stroke-width="2"/>
<text transform="translate(373.52,646) scale(1.0700,1)" x="-12.18" y="0" font-size="21" fill="#000" stroke="#000" stroke-width="0.5">14</text>
<line x1="409.98" y1="623.4" x2="409.98" y2="627.9" stroke="#000" stroke-width="2"/>
<text transform="translate(409.98,646) scale(1.0700,1)" x="-12.02" y="0" font-size="21" fill="#000" stroke="#000" stroke-width="0.5">16</text>
<line x1="446.44" y1="623.4" x2="446.44" y2="627.9" stroke="#000" stroke-width="2"/>
<text transform="translate(446.44,646) scale(1.0700,1)" x="-12.02" y="0" font-size="21" fill="#000" stroke="#000" stroke-width="0.5">18</text>
<line x1="482.9" y1="623.4" x2="482.9" y2="627.9" stroke="#000" stroke-width="2"/>
<text transform="translate(482.9,646) scale(1.0700,1)" x="-11.81" y="0" font-size="21" fill="#000" stroke="#000" stroke-width="0.5">20</text>
<line x1="519.36" y1="623.4" x2="519.36" y2="627.9" stroke="#000" stroke-width="2"/>
<text transform="translate(519.36,646) scale(1.0700,1)" x="-11.71" y="0" font-size="21" fill="#000" stroke="#000" stroke-width="0.5">22</text>
<line x1="555.82" y1="623.4" x2="555.82" y2="627.9" stroke="#000" stroke-width="2"/>
<text transform="translate(555.82,646) scale(1.0700,1)" x="-11.92" y="0" font-size="21" fill="#000" stroke="#000" stroke-width="0.5">24</text>
<line x1="592.28" y1="623.4" x2="592.28" y2="627.9" stroke="#000" stroke-width="2"/>
<text transform="translate(592.28,646) scale(1.0700,1)" x="-11.76" y="0" font-size="21" fill="#000" stroke="#000" stroke-width="0.5">26</text>
<line x1="628.74" y1="623.4" x2="628.74" y2="627.9" stroke="#000" stroke-width="2"/>
<text transform="translate(628.74,646) scale(1.0700,1)" x="-11.76" y="0" font-size="21" fill="#000" stroke="#000" stroke-width="0.5">28</text>
<line x1="665.2" y1="623.4" x2="665.2" y2="627.9" stroke="#000" stroke-width="2"/>
<text transform="translate(665.2,646) scale(1.0700,1)" x="-11.65" y="0" font-size="21" fill="#000" stroke="#000" stroke-width="0.5">30</text>
<text transform="translate(330.5,670.7) scale(1.1547,1)" x="-0.41" y="0" font-size="20.5" fill="#000" stroke="#000" stroke-width="0.5">Time in Years</text>
<text transform="translate(67.8,599.5) rotate(-90)" x="-46.03" y="0" font-size="20.3" fill="#000" stroke="#000" stroke-width="0.5">Treatment</text>
<text transform="translate(827.8,45.2) scale(1.0862,1)" x="-1.5" y="0" font-size="30" fill="#000" stroke="#000" stroke-width="0.5">Chr1q balanced PFA samples (n = 484)</text>
<polygon points="850.2,76 854.75,76 854.75,82.55 859.3,82.55 859.3,89.1 863.85,89.1 863.85,102.42 868.4,102.42 868.4,116.05 872.95,116.05 872.95,125.77 877.5,125.77 877.5,134.43 882.05,134.43 882.05,142.1 886.6,142.1 886.6,149.52 891.15,149.52 891.15,160.8 895.7,160.8 895.7,172.29 900.25,172.29 900.25,180.74 904.8,180.74 904.8,186.81 909.35,186.81 909.35,192.77 913.9,192.77 913.9,196.2 918.45,196.2 918.45,199.63 923,199.63 923,203.06 927.55,203.06 927.55,205.64 932.1,205.64 932.1,207.88 936.65,207.88 936.65,210.13 941.2,210.13 941.2,211.95 945.75,211.95 945.75,213.13 950.3,213.13 950.3,214.31 954.85,214.31 954.85,215.53 959.4,215.53 959.4,217.25 963.95,217.25 963.95,218.96 968.5,218.96 968.5,220.67 973.05,220.67 973.05,222.8 977.6,222.8 977.6,225.06 982.15,225.06 982.15,226.77 986.7,226.77 986.7,226.77 991.25,226.77 991.25,226.77 995.8,226.77 995.8,226.77 1000.35,226.77 1000.35,226.77 1004.9,226.77 1004.9,226.77 1009.45,226.77 1009.45,226.77 1014,226.77 1014,226.77 1018.55,226.77 1018.55,226.77 1023.1,226.77 1023.1,226.77 1027.65,226.77 1027.65,226.77 1032.2,226.77 1032.2,226.77 1036.75,226.77 1036.75,226.77 1041.3,226.77 1041.3,226.77 1045.85,226.77 1045.85,226.77 1050.4,226.77 1050.4,226.77 1054.95,226.77 1054.95,226.77 1059.5,226.77 1059.5,226.77 1064.05,226.77 1064.05,226.77 1068.6,226.77 1068.6,226.77 1073.15,226.77 1073.15,226.77 1077.7,226.77 1077.7,226.77 1082.25,226.77 1082.25,226.77 1086.8,226.77 1086.8,226.77 1091.35,226.77 1091.35,226.77 1095.9,226.77 1095.9,226.77 1100.45,226.77 1100.45,226.77 1105,226.77 1105,226.77 1109.55,226.77 1109.55,226.77 1114.1,226.77 1114.1,226.77 1118.65,226.77 1118.65,226.77 1123.2,226.77 1123.2,226.77 1127.75,226.77 1127.75,226.77 1132.3,226.77 1132.3,226.77 1136.85,226.77 1136.85,226.77 1141.4,226.77 1141.4,226.77 1145.95,226.77 1145.95,226.77 1150.5,226.77 1150.5,226.77 1155.05,226.77 1155.05,226.77 1159.6,226.77 1159.6,226.77 1164.15,226.77 1164.15,226.77 1168.7,226.77 1168.7,226.77 1173.25,226.77 1173.25,226.77 1177.8,226.77 1177.8,226.77 1182.35,226.77 1182.35,226.77 1186.9,226.77 1186.9,226.77 1191.45,226.77 1191.45,226.77 1196,226.77 1196,226.77 1200.55,226.77 1200.55,226.77 1205.1,226.77 1205.1,226.77 1209.65,226.77 1209.65,226.77 1214.2,226.77 1214.2,226.77 1218.75,226.77 1218.75,226.77 1223.3,226.77 1223.3,226.77 1227.85,226.77 1227.85,226.77 1232.4,226.77 1232.4,226.77 1236.95,226.77 1236.95,226.77 1241.5,226.77 1241.5,226.77 1246.05,226.77 1246.05,226.77 1250.6,226.77 1250.6,226.77 1255.15,226.77 1255.15,226.77 1259.7,226.77 1259.7,226.77 1264.25,226.77 1264.25,226.77 1268.8,226.77 1268.8,226.77 1273.35,226.77 1273.35,226.77 1277.9,226.77 1277.9,226.77 1282.45,226.77 1282.45,226.77 1287,226.77 1287,226.77 1291.55,226.77 1291.55,226.77 1296.1,226.77 1296.1,226.77 1300.65,226.77 1300.65,226.77 1305.2,226.77 1305.2,226.77 1309.75,226.77 1309.75,226.77 1314.3,226.77 1314.3,226.77 1318.85,226.77 1318.85,226.77 1323.4,226.77 1323.4,226.77 1327.95,226.77 1327.95,226.77 1332.5,226.77 1332.5,226.77 1337.05,226.77 1337.05,226.77 1341.6,226.77 1341.6,226.77 1346.15,226.77 1346.15,226.77 1350.7,226.77 1350.7,226.77 1355.25,226.77 1355.25,226.77 1355.43,226.77 1355.43,281.89 1355.25,281.89 1355.25,281.89 1350.7,281.89 1350.7,281.89 1346.15,281.89 1346.15,281.89 1341.6,281.89 1341.6,281.89 1337.05,281.89 1337.05,281.89 1332.5,281.89 1332.5,281.89 1327.95,281.89 1327.95,281.89 1323.4,281.89 1323.4,281.89 1318.85,281.89 1318.85,281.89 1314.3,281.89 1314.3,281.89 1309.75,281.89 1309.75,281.89 1305.2,281.89 1305.2,281.89 1300.65,281.89 1300.65,281.89 1296.1,281.89 1296.1,281.89 1291.55,281.89 1291.55,281.89 1287,281.89 1287,281.89 1282.45,281.89 1282.45,281.89 1277.9,281.89 1277.9,281.89 1273.35,281.89 1273.35,281.89 1268.8,281.89 1268.8,281.89 1264.25,281.89 1264.25,281.89 1259.7,281.89 1259.7,281.89 1255.15,281.89 1255.15,281.89 1250.6,281.89 1250.6,281.89 1246.05,281.89 1246.05,281.89 1241.5,281.89 1241.5,281.89 1236.95,281.89 1236.95,281.89 1232.4,281.89 1232.4,281.89 1227.85,281.89 1227.85,281.89 1223.3,281.89 1223.3,281.89 1218.75,281.89 1218.75,281.89 1214.2,281.89 1214.2,281.89 1209.65,281.89 1209.65,281.89 1205.1,281.89 1205.1,281.89 1200.55,281.89 1200.55,281.89 1196,281.89 1196,281.89 1191.45,281.89 1191.45,281.89 1186.9,281.89 1186.9,281.89 1182.35,281.89 1182.35,281.89 1177.8,281.89 1177.8,281.89 1173.25,281.89 1173.25,281.89 1168.7,281.89 1168.7,281.89 1164.15,281.89 1164.15,281.89 1159.6,281.89 1159.6,281.89 1155.05,281.89 1155.05,281.89 1150.5,281.89 1150.5,281.89 1145.95,281.89 1145.95,281.89 1141.4,281.89 1141.4,281.89 1136.85,281.89 1136.85,281.89 1132.3,281.89 1132.3,281.89 1127.75,281.89 1127.75,281.89 1123.2,281.89 1123.2,281.89 1118.65,281.89 1118.65,281.89 1114.1,281.89 1114.1,281.89 1109.55,281.89 1109.55,281.89 1105,281.89 1105,281.89 1100.45,281.89 1100.45,281.89 1095.9,281.89 1095.9,281.89 1091.35,281.89 1091.35,281.89 1086.8,281.89 1086.8,281.89 1082.25,281.89 1082.25,281.89 1077.7,281.89 1077.7,281.89 1073.15,281.89 1073.15,281.89 1068.6,281.89 1068.6,281.89 1064.05,281.89 1064.05,281.89 1059.5,281.89 1059.5,281.89 1054.95,281.89 1054.95,281.89 1050.4,281.89 1050.4,281.89 1045.85,281.89 1045.85,281.89 1041.3,281.89 1041.3,281.89 1036.75,281.89 1036.75,281.89 1032.2,281.89 1032.2,281.89 1027.65,281.89 1027.65,281.89 1023.1,281.89 1023.1,281.89 1018.55,281.89 1018.55,281.89 1014,281.89 1014,281.89 1009.45,281.89 1009.45,281.89 1004.9,281.89 1004.9,281.89 1000.35,281.89 1000.35,281.89 995.8,281.89 995.8,281.89 991.25,281.89 991.25,281.89 986.7,281.89 986.7,281.89 982.15,281.89 982.15,280.18 977.6,280.18 977.6,277.04 973.05,277.04 973.05,274.04 968.5,274.04 968.5,271.45 963.95,271.45 963.95,268.86 959.4,268.86 959.4,266.27 954.85,266.27 954.85,264.17 950.3,264.17 950.3,262.12 945.75,262.12 945.75,260.06 941.2,260.06 941.2,257.37 936.65,257.37 936.65,254.24 932.1,254.24 932.1,251.11 927.55,251.11 927.55,247.66 923,247.66 923,243.35 918.45,243.35 918.45,239.05 913.9,239.05 913.9,234.75 909.35,234.75 909.35,227.91 904.8,227.91 904.8,220.96 900.25,220.96 900.25,211.63 895.7,211.63 895.7,199.27 891.15,199.27 891.15,187.12 886.6,187.12 886.6,174.99 882.05,174.99 882.05,162.62 877.5,162.62 877.5,149.27 872.95,149.27 872.95,134.84 868.4,134.84 868.4,116.51 863.85,116.51 863.85,98.5 859.3,98.5 859.3,87.25 854.75,87.25 854.75,76 850.2,76" fill="#f2b8c6" fill-opacity="0.33"/>
<polygon points="850.2,76 854.75,76 854.75,88.63 859.3,88.63 859.3,100.11 863.85,100.11 863.85,110.93 868.4,110.93 868.4,122.86 872.95,122.86 872.95,139.83 877.5,139.83 877.5,151.02 882.05,151.02 882.05,169.24 886.6,169.24 886.6,194.03 891.15,194.03 891.15,210.72 895.7,210.72 895.7,222.81 900.25,222.81 900.25,231.95 904.8,231.95 904.8,239.67 909.35,239.67 909.35,244.68 913.9,244.68 913.9,249.32 918.45,249.32 918.45,252.92 923,252.92 923,254.96 927.55,254.96 927.55,257.01 932.1,257.01 932.1,258.96 936.65,258.96 936.65,261.21 941.2,261.21 941.2,263.46 945.75,263.46 945.75,265.71 950.3,265.71 950.3,266.96 954.85,266.96 954.85,267.9 959.4,267.9 959.4,268.84 963.95,268.84 963.95,269.78 968.5,269.78 968.5,270.98 973.05,270.98 973.05,272.35 977.6,272.35 977.6,273.71 982.15,273.71 982.15,275.08 986.7,275.08 986.7,276.26 991.25,276.26 991.25,277.2 995.8,277.2 995.8,278.14 1000.35,278.14 1000.35,279.08 1004.9,279.08 1004.9,279.76 1009.45,279.76 1009.45,279.76 1014,279.76 1014,279.76 1018.55,279.76 1018.55,279.76 1023.1,279.76 1023.1,279.76 1027.65,279.76 1027.65,279.76 1032.2,279.76 1032.2,279.76 1036.75,279.76 1036.75,279.76 1041.3,279.76 1041.3,279.76 1045.85,279.76 1045.85,279.76 1050.4,279.76 1050.4,279.76 1054.95,279.76 1054.95,279.76 1059.5,279.76 1059.5,279.76 1064.05,279.76 1064.05,279.76 1068.6,279.76 1068.6,279.76 1073.15,279.76 1073.15,279.76 1077.7,279.76 1077.7,279.76 1082.25,279.76 1082.25,279.76 1086.8,279.76 1086.8,279.76 1091.35,279.76 1091.35,279.76 1095.9,279.76 1095.9,279.76 1100.45,279.76 1100.45,279.76 1105,279.76 1105,279.76 1109.55,279.76 1109.55,279.76 1114.1,279.76 1114.1,279.76 1118.65,279.76 1118.65,279.76 1123.2,279.76 1123.2,279.76 1127.75,279.76 1127.75,279.76 1132.3,279.76 1132.3,279.76 1136.85,279.76 1136.85,279.76 1141.4,279.76 1141.4,279.76 1145.95,279.76 1145.95,279.76 1150.5,279.76 1150.5,279.76 1155.05,279.76 1155.05,279.76 1159.6,279.76 1159.6,279.76 1164.15,279.76 1164.15,279.76 1168.7,279.76 1168.7,279.76 1173.25,279.76 1173.25,279.76 1177.8,279.76 1177.8,279.76 1182.35,279.76 1182.35,279.76 1183.26,279.76 1183.26,325.28 1182.35,325.28 1182.35,325.28 1177.8,325.28 1177.8,325.28 1173.25,325.28 1173.25,325.28 1168.7,325.28 1168.7,325.28 1164.15,325.28 1164.15,325.28 1159.6,325.28 1159.6,325.28 1155.05,325.28 1155.05,325.28 1150.5,325.28 1150.5,325.28 1145.95,325.28 1145.95,325.28 1141.4,325.28 1141.4,325.28 1136.85,325.28 1136.85,325.28 1132.3,325.28 1132.3,325.28 1127.75,325.28 1127.75,325.28 1123.2,325.28 1123.2,325.28 1118.65,325.28 1118.65,325.28 1114.1,325.28 1114.1,325.28 1109.55,325.28 1109.55,325.28 1105,325.28 1105,325.28 1100.45,325.28 1100.45,325.28 1095.9,325.28 1095.9,325.28 1091.35,325.28 1091.35,325.28 1086.8,325.28 1086.8,325.28 1082.25,325.28 1082.25,325.28 1077.7,325.28 1077.7,325.28 1073.15,325.28 1073.15,325.28 1068.6,325.28 1068.6,325.28 1064.05,325.28 1064.05,325.28 1059.5,325.28 1059.5,325.28 1054.95,325.28 1054.95,325.28 1050.4,325.28 1050.4,325.28 1045.85,325.28 1045.85,325.28 1041.3,325.28 1041.3,325.28 1036.75,325.28 1036.75,325.28 1032.2,325.28 1032.2,325.28 1027.65,325.28 1027.65,325.28 1023.1,325.28 1023.1,325.28 1018.55,325.28 1018.55,325.28 1014,325.28 1014,325.28 1009.45,325.28 1009.45,325.28 1004.9,325.28 1004.9,324.6 1000.35,324.6 1000.35,323.66 995.8,323.66 995.8,322.72 991.25,322.72 991.25,321.78 986.7,321.78 986.7,320.6 982.15,320.6 982.15,319.23 977.6,319.23 977.6,317.86 973.05,317.86 973.05,316.5 968.5,316.5 968.5,314.51 963.95,314.51 963.95,312.77 959.4,312.77 959.4,311.04 954.85,311.04 954.85,309.3 950.3,309.3 950.3,307.26 945.75,307.26 945.75,304.21 941.2,304.21 941.2,301.17 936.65,301.17 936.65,298.13 932.1,298.13 932.1,294 927.55,294 927.55,289.78 923,289.78 923,285.56 918.45,285.56 918.45,279.78 913.9,279.78 913.9,272.97 909.35,272.97 909.35,265.78 904.8,265.78 904.8,255.89 900.25,255.89 900.25,244.57 895.7,244.57 895.7,230.3 891.15,230.3 891.15,211.44 886.6,211.44 886.6,184.47 882.05,184.47 882.05,164.07 877.5,164.07 877.5,150.71 872.95,150.71 872.95,131.56 868.4,131.56 868.4,117.46 863.85,117.46 863.85,104.46 859.3,104.46 859.3,90.8 854.75,90.8 854.75,76 850.2,76" fill="#3333ff" fill-opacity="0.36"/>
<rect x="1183.26" y="174.15" width="11.47" height="241.81" fill="#3333ff" fill-opacity="0.36"/>
<path d="M850.2,76H851.11V78.07H852.02V80.15H852.93V82.22H853.84V84.3H854.75V86.37H855.66V88.45H856.57V90.52H857.48V92.59H858.39V94.67H859.3V96.74H860.21V99.14H861.12V102.83H862.03V106.51H862.94V110.2H863.85V113.88H864.76V117.57H865.67V121.26H866.58V124.94H867.49V128.63H868.4V131.34H869.31V134.05H870.22V136.76H871.13V139.47H872.04V142.18H872.95V144.88H873.86V147.59H874.77V150.3H875.68V152.77H876.59V155.06H877.5V157.36H878.41V159.66H879.32V161.96H880.23V164.26H881.14V166.56H882.05V168.85H882.96V171.13H883.87V173.38H884.78V175.62H885.69V177.86H886.6V180.11H887.51V182.35H888.42V184.59H889.33V186.84H890.24V189.08H891.15V191.38H892.06V193.68H892.97V195.98H893.88V198.27H894.79V200.57H895.7V202.87H896.61V205.17H897.52V207.47H898.43V208.9H899.34V210.11H900.25V211.33H901.16V212.54H902.07V213.75H902.98V214.97H903.89V216.18H904.8V217.39H905.71V218.61H906.62V219.82H907.53V221.03H908.44V222.25H909.35V223.36H910.26V224.04H911.17V224.73H912.08V225.41H912.99V226.1H913.9V226.78H914.81V227.47H915.72V228.15H916.63V228.84H917.54V229.52H918.45V230.21H919.36V230.9H920.27V231.58H921.18V232.27H922.09V232.95H923V233.64H923.91V234.32H924.82V234.87H925.73V235.32H926.64V235.77H927.55V236.22H928.46V236.67H929.37V237.12H930.28V237.57H931.19V238.02H932.1V238.47H933.01V238.92H933.92V239.37H934.83V239.82H935.74V240.27H936.65V240.72H937.56V241.17H938.47V241.62H939.38V242.07H940.29V242.3H941.2V242.54H942.11V242.77H943.02V243.01H943.93V243.24H944.84V243.48H945.75V243.71H946.66V243.95H947.57V244.19H948.48V244.42H949.39V244.66H950.3V244.89H951.21V245.13H952.12V245.36H953.03V245.6H953.94V245.84H954.85V246.11H955.76V246.46H956.67V246.8H957.58V247.14H958.49V247.48H959.4V247.83H960.31V248.17H961.22V248.51H962.13V248.86H963.04V249.2H963.95V249.54H964.86V249.88H965.77V250.23H966.68V250.57H967.59V250.91H968.5V251.26H969.41V251.6H970.32V252.03H971.23V252.48H972.14V252.93H973.05V253.38H973.96V253.83H974.87V254.29H975.78V254.74H976.69V255.19H977.6V255.64H978.51V256.09H979.42V256.54H980.33V256.99H981.24V257.36H982.15H983.06H983.97H984.88H985.79H986.7H987.61H988.52H989.43H990.34H991.25H992.16H993.07H993.98H994.89H995.8H996.71H997.62H998.53H999.44H1000.35H1001.26H1002.17H1003.08H1003.99H1004.9H1005.81H1006.72H1007.63H1008.54H1009.45H1010.36H1011.27H1012.18H1013.09H1014H1014.91H1015.82H1016.73H1017.64H1018.55H1019.46H1020.37H1021.28H1022.19H1023.1H1024.01H1024.92H1025.83H1026.74H1027.65H1028.56H1029.47H1030.38H1031.29H1032.2H1033.11H1034.02H1034.93H1035.84H1036.75H1037.66H1038.57H1039.48H1040.39H1041.3H1042.21H1043.12H1044.03H1044.94H1045.85H1046.76H1047.67H1048.58H1049.49H1050.4H1051.31H1052.22H1053.13H1054.04H1054.95H1055.86H1056.77H1057.68H1058.59H1059.5H1060.41H1061.32H1062.23H1063.14H1064.05H1064.96H1065.87H1066.78H1067.69H1068.6H1069.51H1070.42H1071.33H1072.24H1073.15H1074.06H1074.97H1075.88H1076.79H1077.7H1078.61H1079.52H1080.43H1081.34H1082.25H1083.16H1084.07H1084.98H1085.89H1086.8H1087.71H1088.62H1089.53H1090.44H1091.35H1092.26H1093.17H1094.08H1094.99H1095.9H1096.81H1097.72H1098.63H1099.54H1100.45H1101.36H1102.27H1103.18H1104.09H1105H1105.91H1106.82H1107.73H1108.64H1109.55H1110.46H1111.37H1112.28H1113.19H1114.1H1115.01H1115.92H1116.83H1117.74H1118.65H1119.56H1120.47H1121.38H1122.29H1123.2H1124.11H1125.02H1125.93H1126.84H1127.75H1128.66H1129.57H1130.48H1131.39H1132.3H1133.21H1134.12H1135.03H1135.94H1136.85H1137.76H1138.67H1139.58H1140.49H1141.4H1142.31H1143.22H1144.13H1145.04H1145.95H1146.86H1147.77H1148.68H1149.59H1150.5H1151.41H1152.32H1153.23H1154.14H1155.05H1155.96H1156.87H1157.78H1158.69H1159.6H1160.51H1161.42H1162.33H1163.24H1164.15H1165.06H1165.97H1166.88H1167.79H1168.7H1169.61H1170.52H1171.43H1172.34H1173.25H1174.16H1175.07H1175.98H1176.89H1177.8H1178.71H1179.62H1180.53H1181.44H1182.35H1183.26H1184.17H1185.08H1185.99H1186.9H1187.81H1188.72H1189.63H1190.54H1191.45H1192.36H1193.27H1194.18H1195.09H1196H1196.91H1197.82H1198.73H1199.64H1200.55H1201.46H1202.37H1203.28H1204.19H1205.1H1206.01H1206.92H1207.83H1208.74H1209.65H1210.56H1211.47H1212.38H1213.29H1214.2H1215.11H1216.02H1216.93H1217.84H1218.75H1219.66H1220.57H1221.48H1222.39H1223.3H1224.21H1225.12H1226.03H1226.94H1227.85H1228.76H1229.67H1230.58H1231.49H1232.4H1233.31H1234.22H1235.13H1236.04H1236.95H1237.86H1238.77H1239.68H1240.59H1241.5H1242.41H1243.32H1244.23H1245.14H1246.05H1246.96H1247.87H1248.78H1249.69H1250.6H1251.51H1252.42H1253.33H1254.24H1255.15H1256.06H1256.97H1257.88H1258.79H1259.7H1260.61H1261.52H1262.43H1263.34H1264.25H1265.16H1266.07H1266.98H1267.89H1268.8H1269.71H1270.62H1271.53H1272.44H1273.35H1274.26H1275.17H1276.08H1276.99H1277.9H1278.81H1279.72H1280.63H1281.54H1282.45H1283.36H1284.27H1285.18H1286.09H1287H1287.91H1288.82H1289.73H1290.64H1291.55H1292.46H1293.37H1294.28H1295.19H1296.1H1297.01H1297.92H1298.83H1299.74H1300.65H1301.56H1302.47H1303.38H1304.29H1305.2H1306.11H1307.02H1307.93H1308.84H1309.75H1310.66H1311.57H1312.48H1313.39H1314.3H1315.21H1316.12H1317.03H1317.94H1318.85H1319.76H1320.67H1321.58H1322.49H1323.4H1324.31H1325.22H1326.13H1327.04H1327.95H1328.86H1329.77H1330.68H1331.59H1332.5H1333.41H1334.32H1335.23H1336.14H1337.05H1337.96H1338.87H1339.78H1340.69H1341.6H1342.51H1343.42H1344.33H1345.24H1346.15H1347.06H1347.97H1348.88H1349.79H1350.7H1351.61H1352.52H1353.43H1354.34H1355.25H1355.43" fill="none" stroke="#eaa6b8" stroke-width="2"/>
<path d="M851.46,88.45h8.4M855.66,84.25v8.4M856.92,102.83h8.4M861.12,98.63v8.4M860.56,117.57h8.4M864.76,113.37v8.4M866.02,136.76h8.4M870.22,132.56v8.4M871.48,152.77h8.4M875.68,148.57v8.4M876.94,166.56h8.4M881.14,162.36v8.4M882.4,180.11h8.4M886.6,175.91v8.4M887.86,193.68h8.4M892.06,189.48v8.4M893.32,207.47h8.4M897.52,203.27v8.4M898.78,214.97h8.4M902.98,210.77v8.4M902.42,219.82h8.4M906.62,215.62v8.4M907.88,225.41h8.4M912.08,221.21v8.4M911.52,228.15h8.4M915.72,223.95v8.4M916.98,232.27h8.4M921.18,228.07v8.4M922.44,235.77h8.4M926.64,231.57v8.4M926.08,237.57h8.4M930.28,233.37v8.4M931.54,240.27h8.4M935.74,236.07v8.4M935.18,242.07h8.4M939.38,237.87v8.4M940.64,243.48h8.4M944.84,239.28v8.4M944.28,244.42h8.4M948.48,240.22v8.4M949.74,245.84h8.4M953.94,241.64v8.4M955.2,247.83h8.4M959.4,243.63v8.4M960.66,249.88h8.4M964.86,245.68v8.4M966.12,252.03h8.4M970.32,247.83v8.4M971.58,254.74h8.4M975.78,250.54v8.4M978.86,257.36h8.4M983.06,253.16v8.4M984.32,257.36h8.4M988.52,253.16v8.4M989.78,257.36h8.4M993.98,253.16v8.4M997.06,257.36h8.4M1001.26,253.16v8.4M1002.52,257.36h8.4M1006.72,253.16v8.4M1007.98,257.36h8.4M1012.18,253.16v8.4M1013.44,257.36h8.4M1017.64,253.16v8.4M1018.9,257.36h8.4M1023.1,253.16v8.4M1024.36,257.36h8.4M1028.56,253.16v8.4M1028,257.36h8.4M1032.2,253.16v8.4M1035.28,257.36h8.4M1039.48,253.16v8.4M1044.38,257.36h8.4M1048.58,253.16v8.4M1051.66,257.36h8.4M1055.86,253.16v8.4M1058.94,257.36h8.4M1063.14,253.16v8.4M1064.4,257.36h8.4M1068.6,253.16v8.4M1071.68,257.36h8.4M1075.88,253.16v8.4M1108.08,257.36h8.4M1112.28,253.16v8.4M1111.72,257.36h8.4M1115.92,253.16v8.4M1115.36,257.36h8.4M1119.56,253.16v8.4M1128.1,257.36h8.4M1132.3,253.16v8.4M1248.22,257.36h8.4M1252.42,253.16v8.4M1350.14,257.36h8.4M1354.34,253.16v8.4" fill="none" stroke="#eaa6b8" stroke-width="1.8"/>
<path d="M850.2,76H851.11V78.8H852.02V81.6H852.93V84.41H853.84V87.21H854.75V90.01H855.66V92.81H856.57V95.48H857.48V97.94H858.39V100.41H859.3V102.88H860.21V105.34H861.12V107.81H862.03V110.26H862.94V112.67H863.85V115.08H864.76V117.49H865.67V119.9H866.58V122.31H867.49V124.72H868.4V128.39H869.31V132.06H870.22V135.73H871.13V139.4H872.04V143.07H872.95V146.74H873.86V149.45H874.77V151.91H875.68V154.38H876.59V156.85H877.5V159.31H878.41V161.78H879.32V165.46H880.23V169.95H881.14V174.43H882.05V178.92H882.96V183.78H883.87V189.2H884.78V194.62H885.69V200.04H886.6V205.09H887.51V208.71H888.42V212.32H889.33V215.93H890.24V219.55H891.15V223.16H892.06V226.77H892.97V229.24H893.88V231.71H894.79V234.17H895.7V236.64H896.61V239.11H897.52V241.57H898.43V243.52H899.34V245.34H900.25V247.16H901.16V248.98H902.07V250.8H902.98V252.62H903.89V254.44H904.8V256.26H905.71V257.84H906.62V259.04H907.53V260.25H908.44V261.45H909.35V262.66H910.26V263.86H911.17V265.06H912.08V266.27H912.99V267.47H913.9V268.68H914.81V269.88H915.72V271.09H916.63V272.29H917.54V272.98H918.45V273.66H919.36V274.35H920.27V275.03H921.18V275.72H922.09V276.4H923V277.09H923.91V277.78H924.82V278.46H925.73V279.15H926.64V279.83H927.55V280.52H928.46V281.2H929.37V281.89H930.28V282.57H931.19V283.26H932.1V283.85H933.01V284.3H933.92V284.75H934.83V285.2H935.74V285.65H936.65V286.1H937.56V286.55H938.47V287H939.38V287.45H940.29V287.9H941.2V288.35H942.11V288.8H943.02V289.25H943.93V289.7H944.84V290.15H945.75V290.6H946.66V291.05H947.57V291.29H948.48V291.48H949.39V291.66H950.3V291.85H951.21V292.04H952.12V292.23H953.03V292.42H953.94V292.6H954.85V292.79H955.76V292.98H956.67V293.17H957.58V293.36H958.49V293.55H959.4V293.73H960.31V293.92H961.22V294.11H962.13V294.3H963.04V294.49H963.95V294.67H964.86V294.86H965.77V295.05H966.68V295.32H967.59V295.6H968.5V295.87H969.41V296.14H970.32V296.42H971.23V296.69H972.14V296.96H973.05V297.24H973.96V297.51H974.87V297.78H975.78V298.06H976.69V298.33H977.6V298.61H978.51V298.88H979.42V299.15H980.33V299.43H981.24V299.7H982.15V299.97H983.06V300.25H983.97V300.52H984.88V300.78H985.79V300.96H986.7V301.15H987.61V301.34H988.52V301.53H989.43V301.72H990.34V301.91H991.25V302.09H992.16V302.28H993.07V302.47H993.98V302.66H994.89V302.85H995.8V303.03H996.71V303.22H997.62V303.41H998.53V303.6H999.44V303.79H1000.35V303.97H1001.26V304.16H1002.17V304.35H1003.08V304.54H1003.99V304.65H1004.9H1005.81H1006.72H1007.63H1008.54H1009.45H1010.36H1011.27H1012.18H1013.09H1014H1014.91H1015.82H1016.73H1017.64H1018.55H1019.46H1020.37H1021.28H1022.19H1023.1H1024.01H1024.92H1025.83H1026.74H1027.65H1028.56H1029.47H1030.38H1031.29H1032.2H1033.11H1034.02H1034.93H1035.84H1036.75H1037.66H1038.57H1039.48H1040.39H1041.3H1042.21H1043.12H1044.03H1044.94H1045.85H1046.76H1047.67H1048.58H1049.49H1050.4H1051.31H1052.22H1053.13H1054.04H1054.95H1055.86H1056.77H1057.68H1058.59H1059.5H1060.41H1061.32H1062.23H1063.14H1064.05H1064.96H1065.87H1066.78H1067.69H1068.6H1069.51H1070.42H1071.33H1072.24H1073.15H1074.06H1074.97H1075.88H1076.79H1077.7H1078.61H1079.52H1080.43H1081.34H1082.25H1083.16H1084.07H1084.98H1085.89H1086.8H1087.71H1088.62H1089.53H1090.44H1091.35H1092.26H1093.17H1094.08H1094.99H1095.9H1096.81H1097.72H1098.63H1099.54H1100.45H1101.36H1102.27H1103.18H1104.09H1105H1105.91H1106.82H1107.73H1108.64H1109.55H1110.46H1111.37H1112.28H1113.19H1114.1H1115.01H1115.92H1116.83H1117.74H1118.65H1119.56H1120.47H1121.38H1122.29H1123.2H1124.11H1125.02H1125.93H1126.84H1127.75H1128.66H1129.57H1130.48H1131.39H1132.3H1133.21H1134.12H1135.03H1135.94H1136.85H1137.76H1138.67H1139.58H1140.49H1141.4H1142.31H1143.22H1144.13H1145.04H1145.95H1146.86H1147.77H1148.68H1149.59H1150.5H1151.41H1152.32H1153.23H1154.14H1155.05H1155.96H1156.87H1157.78H1158.69H1159.6H1160.51H1161.42H1162.33H1163.24H1164.15H1165.06H1165.97H1166.88H1167.79H1168.7H1169.61H1170.52H1171.43H1172.34H1173.25H1174.16H1175.07H1175.98H1176.89H1177.8H1178.71H1179.62H1180.53H1181.44H1182.35H1183.26V368.66H1198.37" fill="none" stroke="#1212e0" stroke-width="2.2"/>
<path d="M846.91,78.8h8.4M851.11,74.6v8.4M848.73,84.41h8.4M852.93,80.21v8.4M850.55,90.01h8.4M854.75,85.81v8.4M852.37,95.48h8.4M856.57,91.28v8.4M854.19,100.41h8.4M858.39,96.21v8.4M856.01,105.34h8.4M860.21,101.14v8.4M857.28,108.8h8.4M861.48,104.6v8.4M858.74,112.67h8.4M862.94,108.47v8.4M860.2,116.53h8.4M864.4,112.33v8.4M861.47,119.9h8.4M865.67,115.7v8.4M862.74,123.27h8.4M866.94,119.07v8.4M864.2,128.39h8.4M868.4,124.19v8.4M865.66,134.26h8.4M869.86,130.06v8.4M867.11,140.13h8.4M871.31,135.93v8.4M868.57,146.01h8.4M872.77,141.81v8.4M870.02,150.44h8.4M874.22,146.24v8.4M873.3,159.31h8.4M877.5,155.11v8.4M876.94,174.43h8.4M881.14,170.23v8.4M881.49,200.04h8.4M885.69,195.84v8.4M883.31,208.71h8.4M887.51,204.51v8.4M885.13,215.93h8.4M889.33,211.73v8.4M886.95,223.16h8.4M891.15,218.96v8.4M888.77,229.24h8.4M892.97,225.04v8.4M890.59,234.17h8.4M894.79,229.97v8.4M892.41,239.11h8.4M896.61,234.91v8.4M894.23,243.52h8.4M898.43,239.32v8.4M896.05,247.16h8.4M900.25,242.96v8.4M897.87,250.8h8.4M902.07,246.6v8.4M899.69,254.44h8.4M903.89,250.24v8.4M902.42,259.04h8.4M906.62,254.84v8.4M906.06,263.86h8.4M910.26,259.66v8.4M907.88,266.27h8.4M912.08,262.07v8.4M911.52,271.09h8.4M915.72,266.89v8.4M916.98,275.72h8.4M921.18,271.52v8.4M920.62,278.46h8.4M924.82,274.26v8.4M924.26,281.2h8.4M928.46,277v8.4M929.72,284.75h8.4M933.92,280.55v8.4M933.36,286.55h8.4M937.56,282.35v8.4M938.82,289.25h8.4M943.02,285.05v8.4M942.46,291.05h8.4M946.66,286.85v8.4M947.92,292.23h8.4M952.12,288.03v8.4M953.38,293.36h8.4M957.58,289.16v8.4M958.84,294.49h8.4M963.04,290.29v8.4M964.3,295.87h8.4M968.5,291.67v8.4M969.76,297.51h8.4M973.96,293.31v8.4M975.22,299.15h8.4M979.42,294.95v8.4M980.68,300.78h8.4M984.88,296.58v8.4M987.96,302.28h8.4M992.16,298.08v8.4M993.42,303.41h8.4M997.62,299.21v8.4M998.88,304.54h8.4M1003.08,300.34v8.4M1006.16,304.65h8.4M1010.36,300.45v8.4M1013.44,304.65h8.4M1017.64,300.45v8.4M1029.82,304.65h8.4M1034.02,300.45v8.4M1035.28,304.65h8.4M1039.48,300.45v8.4M1040.74,304.65h8.4M1044.94,300.45v8.4M1046.2,304.65h8.4M1050.4,300.45v8.4M1049.84,304.65h8.4M1054.04,300.45v8.4M1055.3,304.65h8.4M1059.5,300.45v8.4M1060.76,304.65h8.4M1064.96,300.45v8.4M1071.68,304.65h8.4M1075.88,300.45v8.4M1080.78,304.65h8.4M1084.98,300.45v8.4M1084.42,304.65h8.4M1088.62,300.45v8.4M1088.06,304.65h8.4M1092.26,300.45v8.4M1093.52,304.65h8.4M1097.72,300.45v8.4M1111.72,304.65h8.4M1115.92,300.45v8.4M1129.92,304.65h8.4M1134.12,300.45v8.4M1153.58,304.65h8.4M1157.78,300.45v8.4M1159.04,304.65h8.4M1163.24,300.45v8.4M1171.78,304.65h8.4M1175.98,300.45v8.4" fill="none" stroke="#1212e0" stroke-width="2"/>
<path d="M1194.17,368.66h8.4M1198.37,364.46v8.4" fill="none" stroke="#1212e0" stroke-width="1.8"/>
<line x1="823.9" y1="58" x2="823.9" y2="451.1" stroke="#000" stroke-width="2.2"/>
<line x1="822.8" y1="450" x2="1422.7" y2="450" stroke="#000" stroke-width="2.2"/>
<line x1="819.4" y1="431.6" x2="823.9" y2="431.6" stroke="#000" stroke-width="2"/>
<text transform="translate(812.1,437.6) scale(1.1100,1)" x="-40.49" y="0" font-size="21.2" fill="#000" stroke="#000" stroke-width="0.5">0.00</text>
<line x1="819.4" y1="342.7" x2="823.9" y2="342.7" stroke="#000" stroke-width="2"/>
<text transform="translate(812.1,348.7) scale(1.1100,1)" x="-40.39" y="0" font-size="21.2" fill="#000" stroke="#000" stroke-width="0.5">0.25</text>
<line x1="819.4" y1="253.8" x2="823.9" y2="253.8" stroke="#000" stroke-width="2"/>
<text transform="translate(812.1,259.8) scale(1.1100,1)" x="-40.49" y="0" font-size="21.2" fill="#000" stroke="#000" stroke-width="0.5">0.50</text>
<line x1="819.4" y1="164.9" x2="823.9" y2="164.9" stroke="#000" stroke-width="2"/>
<text transform="translate(812.1,170.9) scale(1.1100,1)" x="-40.39" y="0" font-size="21.2" fill="#000" stroke="#000" stroke-width="0.5">0.75</text>
<line x1="819.4" y1="76" x2="823.9" y2="76" stroke="#000" stroke-width="2"/>
<text transform="translate(812.1,82) scale(1.1100,1)" x="-40.49" y="0" font-size="21.2" fill="#000" stroke="#000" stroke-width="0.5">1.00</text>
<line x1="850.2" y1="450" x2="850.2" y2="454.5" stroke="#000" stroke-width="2"/>
<text transform="translate(850.2,479.6) scale(1.0700,1)" x="-5.83" y="0" font-size="21" fill="#000" stroke="#000" stroke-width="0.5">0</text>
<line x1="886.6" y1="450" x2="886.6" y2="454.5" stroke="#000" stroke-width="2"/>
<text transform="translate(886.6,479.6) scale(1.0700,1)" x="-5.88" y="0" font-size="21" fill="#000" stroke="#000" stroke-width="0.5">2</text>
<line x1="923" y1="450" x2="923" y2="454.5" stroke="#000" stroke-width="2"/>
<text transform="translate(923,479.6) scale(1.0700,1)" x="-5.78" y="0" font-size="21" fill="#000" stroke="#000" stroke-width="0.5">4</text>
<line x1="959.4" y1="450" x2="959.4" y2="454.5" stroke="#000" stroke-width="2"/>
<text transform="translate(959.4,479.6) scale(1.0700,1)" x="-5.93" y="0" font-size="21" fill="#000" stroke="#000" stroke-width="0.5">6</text>
<line x1="995.8" y1="450" x2="995.8" y2="454.5" stroke="#000" stroke-width="2"/>
<text transform="translate(995.8,479.6) scale(1.0700,1)" x="-5.83" y="0" font-size="21" fill="#000" stroke="#000" stroke-width="0.5">8</text>
<line x1="1032.2" y1="450" x2="1032.2" y2="454.5" stroke="#000" stroke-width="2"/>
<text transform="translate(1032.2,479.6) scale(1.0700,1)" x="-12.07" y="0" font-size="21" fill="#000" stroke="#000" stroke-width="0.5">10</text>
<line x1="1068.6" y1="450" x2="1068.6" y2="454.5" stroke="#000" stroke-width="2"/>
<text transform="translate(1068.6,479.6) scale(1.0700,1)" x="-11.97" y="0" font-size="21" fill="#000" stroke="#000" stroke-width="0.5">12</text>
<line x1="1105" y1="450" x2="1105" y2="454.5" stroke="#000" stroke-width="2"/>
<text transform="translate(1105,479.6) scale(1.0700,1)" x="-12.18" y="0" font-size="21" fill="#000" stroke="#000" stroke-width="0.5">14</text>
<line x1="1141.4" y1="450" x2="1141.4" y2="454.5" stroke="#000" stroke-width="2"/>
<text transform="translate(1141.4,479.6) scale(1.0700,1)" x="-12.02" y="0" font-size="21" fill="#000" stroke="#000" stroke-width="0.5">16</text>
<line x1="1177.8" y1="450" x2="1177.8" y2="454.5" stroke="#000" stroke-width="2"/>
<text transform="translate(1177.8,479.6) scale(1.0700,1)" x="-12.02" y="0" font-size="21" fill="#000" stroke="#000" stroke-width="0.5">18</text>
<line x1="1214.2" y1="450" x2="1214.2" y2="454.5" stroke="#000" stroke-width="2"/>
<text transform="translate(1214.2,479.6) scale(1.0700,1)" x="-11.81" y="0" font-size="21" fill="#000" stroke="#000" stroke-width="0.5">20</text>
<line x1="1250.6" y1="450" x2="1250.6" y2="454.5" stroke="#000" stroke-width="2"/>
<text transform="translate(1250.6,479.6) scale(1.0700,1)" x="-11.71" y="0" font-size="21" fill="#000" stroke="#000" stroke-width="0.5">22</text>
<line x1="1287" y1="450" x2="1287" y2="454.5" stroke="#000" stroke-width="2"/>
<text transform="translate(1287,479.6) scale(1.0700,1)" x="-11.92" y="0" font-size="21" fill="#000" stroke="#000" stroke-width="0.5">24</text>
<line x1="1323.4" y1="450" x2="1323.4" y2="454.5" stroke="#000" stroke-width="2"/>
<text transform="translate(1323.4,479.6) scale(1.0700,1)" x="-11.76" y="0" font-size="21" fill="#000" stroke="#000" stroke-width="0.5">26</text>
<line x1="1359.8" y1="450" x2="1359.8" y2="454.5" stroke="#000" stroke-width="2"/>
<text transform="translate(1359.8,479.6) scale(1.0700,1)" x="-11.76" y="0" font-size="21" fill="#000" stroke="#000" stroke-width="0.5">28</text>
<line x1="1396.2" y1="450" x2="1396.2" y2="454.5" stroke="#000" stroke-width="2"/>
<text transform="translate(1396.2,479.6) scale(1.0700,1)" x="-11.65" y="0" font-size="21" fill="#000" stroke="#000" stroke-width="0.5">30</text>
<text transform="translate(765.2,255.3) rotate(-90) scale(1.0700,1)" x="-20.84" y="0" font-size="21" fill="#000" stroke="#000" stroke-width="0.5">PFS</text>
<text transform="translate(861.2,367.8) scale(1.0388,1)" x="-0.64" y="0" font-size="21.2" fill="#000" stroke="#000" stroke-width="0.5" xml:space="preserve"><tspan font-style="italic">P</tspan> = 0.021</text>
<rect x="1255.2" y="342.5" width="15" height="6.8" fill="#e3a9b6"/>
<text transform="translate(1276.7,352.2) scale(1.0700,1)" x="-1.68" y="0" font-size="21" fill="#000" stroke="#000" stroke-width="0.5">Female</text>
<rect x="1255.2" y="371.9" width="15" height="6.8" fill="#1212e0"/>
<text transform="translate(1276.7,380.6) scale(1.0700,1)" x="-1.68" y="0" font-size="21" fill="#000" stroke="#000" stroke-width="0.5">Male</text>
<text transform="translate(1059.9,504.9) scale(1.1024,1)" x="-0.41" y="0" font-size="20.5" fill="#000" stroke="#000" stroke-width="0.5">Time in Years</text>
<text transform="translate(1054.5,530.7) scale(1.0925,1)" x="-1.64" y="0" font-size="20.5" fill="#000" stroke="#000" stroke-width="0.5">Number at risk</text>
<line x1="823.1" y1="533.6" x2="823.1" y2="617.2" stroke="#000" stroke-width="2.2"/>
<line x1="822" y1="616.1" x2="1422.7" y2="616.1" stroke="#000" stroke-width="2.2"/>
<line x1="818.6" y1="555.7" x2="823.1" y2="555.7" stroke="#000" stroke-width="2"/>
<line x1="818.6" y1="593.5" x2="823.1" y2="593.5" stroke="#000" stroke-width="2"/>
<text transform="translate(850.2,563.8) scale(1.0450,1)" x="-17.24" y="0" font-size="20.4" fill="#e8b4c2" stroke="#e8b4c2" stroke-width="0.5">204</text>
<text transform="translate(850.2,600.5) scale(1.0450,1)" x="-17.14" y="0" font-size="20.4" fill="#1c1cc8" stroke="#1c1cc8" stroke-width="0.5">280</text>
<text transform="translate(886.6,563.8) scale(1.0450,1)" x="-17.49" y="0" font-size="20.4" fill="#e8b4c2" stroke="#e8b4c2" stroke-width="0.5">124</text>
<text transform="translate(886.6,600.5) scale(1.0450,1)" x="-17.29" y="0" font-size="20.4" fill="#1c1cc8" stroke="#1c1cc8" stroke-width="0.5">151</text>
<text transform="translate(923,563.8) scale(1.0450,1)" x="-11.32" y="0" font-size="20.4" fill="#e8b4c2" stroke="#e8b4c2" stroke-width="0.5">83</text>
<text transform="translate(923,600.5) scale(1.0450,1)" x="-11.32" y="0" font-size="20.4" fill="#1c1cc8" stroke="#1c1cc8" stroke-width="0.5">85</text>
<text transform="translate(959.4,563.8) scale(1.0450,1)" x="-11.37" y="0" font-size="20.4" fill="#e8b4c2" stroke="#e8b4c2" stroke-width="0.5">61</text>
<text transform="translate(959.4,600.5) scale(1.0450,1)" x="-11.37" y="0" font-size="20.4" fill="#1c1cc8" stroke="#1c1cc8" stroke-width="0.5">61</text>
<text transform="translate(995.8,563.8) scale(1.0450,1)" x="-11.17" y="0" font-size="20.4" fill="#e8b4c2" stroke="#e8b4c2" stroke-width="0.5">40</text>
<text transform="translate(995.8,600.5) scale(1.0450,1)" x="-11.17" y="0" font-size="20.4" fill="#1c1cc8" stroke="#1c1cc8" stroke-width="0.5">40</text>
<text transform="translate(1032.2,563.8) scale(1.0450,1)" x="-11.58" y="0" font-size="20.4" fill="#e8b4c2" stroke="#e8b4c2" stroke-width="0.5">24</text>
<text transform="translate(1032.2,600.5) scale(1.0450,1)" x="-11.32" y="0" font-size="20.4" fill="#1c1cc8" stroke="#1c1cc8" stroke-width="0.5">30</text>
<text transform="translate(1068.6,563.8) scale(1.0450,1)" x="-11.68" y="0" font-size="20.4" fill="#e8b4c2" stroke="#e8b4c2" stroke-width="0.5">15</text>
<text transform="translate(1068.6,600.5) scale(1.0450,1)" x="-11.63" y="0" font-size="20.4" fill="#1c1cc8" stroke="#1c1cc8" stroke-width="0.5">19</text>
<text transform="translate(1105,563.8) scale(1.0450,1)" x="-5.66" y="0" font-size="20.4" fill="#e8b4c2" stroke="#e8b4c2" stroke-width="0.5">8</text>
<text transform="translate(1105,600.5) scale(1.0450,1)" x="-5.66" y="0" font-size="20.4" fill="#1c1cc8" stroke="#1c1cc8" stroke-width="0.5">9</text>
<text transform="translate(1141.4,563.8) scale(1.0450,1)" x="-5.71" y="0" font-size="20.4" fill="#e8b4c2" stroke="#e8b4c2" stroke-width="0.5">2</text>
<text transform="translate(1141.4,600.5) scale(1.0450,1)" x="-5.76" y="0" font-size="20.4" fill="#1c1cc8" stroke="#1c1cc8" stroke-width="0.5">6</text>
<text transform="translate(1177.8,563.8) scale(1.0450,1)" x="-5.71" y="0" font-size="20.4" fill="#e8b4c2" stroke="#e8b4c2" stroke-width="0.5">2</text>
<text transform="translate(1177.8,600.5) scale(1.0450,1)" x="-5.61" y="0" font-size="20.4" fill="#1c1cc8" stroke="#1c1cc8" stroke-width="0.5">3</text>
<text transform="translate(1214.2,563.8) scale(1.0450,1)" x="-5.71" y="0" font-size="20.4" fill="#e8b4c2" stroke="#e8b4c2" stroke-width="0.5">2</text>
<text transform="translate(1214.2,600.5) scale(1.0450,1)" x="-5.66" y="0" font-size="20.4" fill="#1c1cc8" stroke="#1c1cc8" stroke-width="0.5">0</text>
<text transform="translate(1250.6,563.8) scale(1.0450,1)" x="-5.71" y="0" font-size="20.4" fill="#e8b4c2" stroke="#e8b4c2" stroke-width="0.5">2</text>
<text transform="translate(1250.6,600.5) scale(1.0450,1)" x="-5.66" y="0" font-size="20.4" fill="#1c1cc8" stroke="#1c1cc8" stroke-width="0.5">0</text>
<text transform="translate(1287,563.8) scale(1.0450,1)" x="-5.97" y="0" font-size="20.4" fill="#e8b4c2" stroke="#e8b4c2" stroke-width="0.5">1</text>
<text transform="translate(1287,600.5) scale(1.0450,1)" x="-5.66" y="0" font-size="20.4" fill="#1c1cc8" stroke="#1c1cc8" stroke-width="0.5">0</text>
<text transform="translate(1323.4,563.8) scale(1.0450,1)" x="-5.97" y="0" font-size="20.4" fill="#e8b4c2" stroke="#e8b4c2" stroke-width="0.5">1</text>
<text transform="translate(1323.4,600.5) scale(1.0450,1)" x="-5.66" y="0" font-size="20.4" fill="#1c1cc8" stroke="#1c1cc8" stroke-width="0.5">0</text>
<text transform="translate(1359.8,563.8) scale(1.0450,1)" x="-5.66" y="0" font-size="20.4" fill="#e8b4c2" stroke="#e8b4c2" stroke-width="0.5">0</text>
<text transform="translate(1359.8,600.5) scale(1.0450,1)" x="-5.66" y="0" font-size="20.4" fill="#1c1cc8" stroke="#1c1cc8" stroke-width="0.5">0</text>
<text transform="translate(1396.2,563.8) scale(1.0450,1)" x="-5.66" y="0" font-size="20.4" fill="#e8b4c2" stroke="#e8b4c2" stroke-width="0.5">0</text>
<text transform="translate(1396.2,600.5) scale(1.0450,1)" x="-5.66" y="0" font-size="20.4" fill="#1c1cc8" stroke="#1c1cc8" stroke-width="0.5">0</text>
<line x1="850.2" y1="616.1" x2="850.2" y2="620.6" stroke="#000" stroke-width="2"/>
<text transform="translate(850.2,643.7) scale(1.0700,1)" x="-5.83" y="0" font-size="21" fill="#000" stroke="#000" stroke-width="0.5">0</text>
<line x1="886.6" y1="616.1" x2="886.6" y2="620.6" stroke="#000" stroke-width="2"/>
<text transform="translate(886.6,643.7) scale(1.0700,1)" x="-5.88" y="0" font-size="21" fill="#000" stroke="#000" stroke-width="0.5">2</text>
<line x1="923" y1="616.1" x2="923" y2="620.6" stroke="#000" stroke-width="2"/>
<text transform="translate(923,643.7) scale(1.0700,1)" x="-5.78" y="0" font-size="21" fill="#000" stroke="#000" stroke-width="0.5">4</text>
<line x1="959.4" y1="616.1" x2="959.4" y2="620.6" stroke="#000" stroke-width="2"/>
<text transform="translate(959.4,643.7) scale(1.0700,1)" x="-5.93" y="0" font-size="21" fill="#000" stroke="#000" stroke-width="0.5">6</text>
<line x1="995.8" y1="616.1" x2="995.8" y2="620.6" stroke="#000" stroke-width="2"/>
<text transform="translate(995.8,643.7) scale(1.0700,1)" x="-5.83" y="0" font-size="21" fill="#000" stroke="#000" stroke-width="0.5">8</text>
<line x1="1032.2" y1="616.1" x2="1032.2" y2="620.6" stroke="#000" stroke-width="2"/>
<text transform="translate(1032.2,643.7) scale(1.0700,1)" x="-12.07" y="0" font-size="21" fill="#000" stroke="#000" stroke-width="0.5">10</text>
<line x1="1068.6" y1="616.1" x2="1068.6" y2="620.6" stroke="#000" stroke-width="2"/>
<text transform="translate(1068.6,643.7) scale(1.0700,1)" x="-11.97" y="0" font-size="21" fill="#000" stroke="#000" stroke-width="0.5">12</text>
<line x1="1105" y1="616.1" x2="1105" y2="620.6" stroke="#000" stroke-width="2"/>
<text transform="translate(1105,643.7) scale(1.0700,1)" x="-12.18" y="0" font-size="21" fill="#000" stroke="#000" stroke-width="0.5">14</text>
<line x1="1141.4" y1="616.1" x2="1141.4" y2="620.6" stroke="#000" stroke-width="2"/>
<text transform="translate(1141.4,643.7) scale(1.0700,1)" x="-12.02" y="0" font-size="21" fill="#000" stroke="#000" stroke-width="0.5">16</text>
<line x1="1177.8" y1="616.1" x2="1177.8" y2="620.6" stroke="#000" stroke-width="2"/>
<text transform="translate(1177.8,643.7) scale(1.0700,1)" x="-12.02" y="0" font-size="21" fill="#000" stroke="#000" stroke-width="0.5">18</text>
<line x1="1214.2" y1="616.1" x2="1214.2" y2="620.6" stroke="#000" stroke-width="2"/>
<text transform="translate(1214.2,643.7) scale(1.0700,1)" x="-11.81" y="0" font-size="21" fill="#000" stroke="#000" stroke-width="0.5">20</text>
<line x1="1250.6" y1="616.1" x2="1250.6" y2="620.6" stroke="#000" stroke-width="2"/>
<text transform="translate(1250.6,643.7) scale(1.0700,1)" x="-11.71" y="0" font-size="21" fill="#000" stroke="#000" stroke-width="0.5">22</text>
<line x1="1287" y1="616.1" x2="1287" y2="620.6" stroke="#000" stroke-width="2"/>
<text transform="translate(1287,643.7) scale(1.0700,1)" x="-11.92" y="0" font-size="21" fill="#000" stroke="#000" stroke-width="0.5">24</text>
<line x1="1323.4" y1="616.1" x2="1323.4" y2="620.6" stroke="#000" stroke-width="2"/>
<text transform="translate(1323.4,643.7) scale(1.0700,1)" x="-11.76" y="0" font-size="21" fill="#000" stroke="#000" stroke-width="0.5">26</text>
<line x1="1359.8" y1="616.1" x2="1359.8" y2="620.6" stroke="#000" stroke-width="2"/>
<text transform="translate(1359.8,643.7) scale(1.0700,1)" x="-11.76" y="0" font-size="21" fill="#000" stroke="#000" stroke-width="0.5">28</text>
<line x1="1396.2" y1="616.1" x2="1396.2" y2="620.6" stroke="#000" stroke-width="2"/>
<text transform="translate(1396.2,643.7) scale(1.0700,1)" x="-11.65" y="0" font-size="21" fill="#000" stroke="#000" stroke-width="0.5">30</text>
<text transform="translate(1054,669.8) scale(1.1065,1)" x="-0.41" y="0" font-size="20.5" fill="#000" stroke="#000" stroke-width="0.5">Time in Years</text>
<text transform="translate(799.2,575.4) rotate(-90)" x="-46.03" y="0" font-size="20.3" fill="#000" stroke="#000" stroke-width="0.5">Treatment</text>
<text transform="translate(1602.5,45.2) scale(1.0857,1)" x="-1.5" y="0" font-size="30" fill="#000" stroke="#000" stroke-width="0.5">Chr1q gain PFA samples (n = 114)</text>
<polygon points="1582.9,93.6 1588.36,93.6 1588.36,93.6 1593.82,93.6 1593.82,93.6 1597.46,93.6 1597.46,93.6 1599.28,93.6 1599.28,93.6 1604.74,93.6 1604.74,93.6 1610.2,93.6 1610.2,93.6 1612.02,93.6 1612.02,93.6 1615.66,93.6 1615.66,93.6 1616.02,93.6 1616.02,93.6 1616.39,93.6 1616.39,104.67 1621.12,104.67 1621.12,113.14 1622.58,113.14 1622.58,115.74 1626.58,115.74 1626.58,126.32 1629.13,126.32 1629.13,133.04 1632.04,133.04 1632.04,143.48 1633.86,143.48 1633.86,150 1637.5,150 1637.5,153.54 1641.14,153.54 1641.14,157.08 1642.96,157.08 1642.96,158.85 1648.42,158.85 1648.42,164.17 1649.15,164.17 1649.15,164.88 1653.88,164.88 1653.88,181.37 1655.7,181.37 1655.7,187.71 1659.34,187.71 1659.34,189.33 1664.8,189.33 1664.8,191.75 1670.26,191.75 1670.26,194.17 1673.9,194.17 1673.9,195.79 1675.72,195.79 1675.72,196.59 1677.54,196.59 1677.54,197.4 1681.18,197.4 1681.18,200.37 1686.64,200.37 1686.64,204.84 1692.1,204.84 1692.1,209.3 1697.56,209.3 1697.56,213.76 1698.29,213.76 1698.29,214.35 1703.02,214.35 1703.02,218.32 1708.48,218.32 1708.48,222.9 1713.94,222.9 1713.94,227.48 1719.4,227.48 1719.4,232.06 1723.04,232.06 1723.04,235.11 1724.86,235.11 1724.86,235.92 1730.32,235.92 1730.32,238.34 1735.78,238.34 1735.78,240.75 1741.24,240.75 1741.24,243.17 1744.15,243.17 1744.15,244.46 1744.88,244.46 1744.88,244.46 1746.7,244.46 1746.7,244.46 1752.16,244.46 1752.16,244.46 1757.62,244.46 1757.62,244.46 1763.08,244.46 1763.08,244.46 1768.54,244.46 1768.54,244.46 1774,244.46 1774,244.46 1779.46,244.46 1779.46,244.46 1784.92,244.46 1784.92,244.46 1790.38,244.46 1790.38,244.46 1795.84,244.46 1795.84,244.46 1801.3,244.46 1801.3,244.46 1806.76,244.46 1806.76,244.46 1812.22,244.46 1812.22,244.46 1817.68,244.46 1817.68,244.46 1823.14,244.46 1823.14,244.46 1828.6,244.46 1828.6,244.46 1834.06,244.46 1834.06,244.46 1839.52,244.46 1839.52,244.46 1844.98,244.46 1844.98,244.46 1847.16,244.46 1847.16,244.46 1847.53,244.46 1847.53,257.95 1850.44,257.95 1850.44,257.95 1855.9,257.95 1855.9,257.95 1861.36,257.95 1861.36,257.95 1866.82,257.95 1866.82,257.95 1872.28,257.95 1872.28,257.95 1877.74,257.95 1877.74,257.95 1883.2,257.95 1883.2,257.95 1888.66,257.95 1888.66,257.95 1894.12,257.95 1894.12,257.95 1899.58,257.95 1899.58,257.95 1905.04,257.95 1905.04,257.95 1910.5,257.95 1910.5,257.95 1911.59,257.95 1911.59,257.95 1911.96,257.95 1911.96,267.29 1915.96,267.29 1915.96,267.29 1921.42,267.29 1921.42,267.29 1926.88,267.29 1926.88,267.29 1932.34,267.29 1932.34,267.29 1937.8,267.29 1937.8,267.29 1943.26,267.29 1943.26,267.29 1948.72,267.29 1948.72,267.29 1954.18,267.29 1954.18,267.29 1959.64,267.29 1959.64,267.29 1965.1,267.29 1965.1,267.29 1970.56,267.29 1970.56,267.29 1976.02,267.29 1976.02,267.29 1981.48,267.29 1981.48,267.29 1986.94,267.29 1986.94,267.29 1992.4,267.29 1992.4,267.29 1997.86,267.29 1997.86,267.29 2003.32,267.29 2003.32,267.29 2008.78,267.29 2008.78,267.29 2014.24,267.29 2014.24,267.29 2019.7,267.29 2019.7,267.29 2025.16,267.29 2025.16,267.29 2030.62,267.29 2030.62,267.29 2036.08,267.29 2036.08,267.29 2041.54,267.29 2041.54,267.29 2047,267.29 2047,267.29 2052.46,267.29 2052.46,267.29 2057.92,267.29 2057.92,267.29 2063.38,267.29 2063.38,267.29 2068.84,267.29 2068.84,267.29 2074.3,267.29 2074.3,267.29 2079.76,267.29 2079.76,267.29 2085.22,267.29 2085.22,267.29 2090.68,267.29 2090.68,267.29 2096.14,267.29 2096.14,267.29 2101.6,267.29 2101.6,267.29 2107.06,267.29 2107.06,267.29 2107.06,267.29 2107.06,394.27 2107.06,394.27 2107.06,394.27 2101.6,394.27 2101.6,394.27 2096.14,394.27 2096.14,394.27 2090.68,394.27 2090.68,394.27 2085.22,394.27 2085.22,394.27 2079.76,394.27 2079.76,394.27 2074.3,394.27 2074.3,394.27 2068.84,394.27 2068.84,394.27 2063.38,394.27 2063.38,394.27 2057.92,394.27 2057.92,394.27 2052.46,394.27 2052.46,394.27 2047,394.27 2047,394.27 2041.54,394.27 2041.54,394.27 2036.08,394.27 2036.08,394.27 2030.62,394.27 2030.62,394.27 2025.16,394.27 2025.16,394.27 2019.7,394.27 2019.7,394.27 2014.24,394.27 2014.24,394.27 2008.78,394.27 2008.78,394.27 2003.32,394.27 2003.32,394.27 1997.86,394.27 1997.86,394.27 1992.4,394.27 1992.4,394.27 1986.94,394.27 1986.94,394.27 1981.48,394.27 1981.48,394.27 1976.02,394.27 1976.02,394.27 1970.56,394.27 1970.56,394.27 1965.1,394.27 1965.1,394.27 1959.64,394.27 1959.64,394.27 1954.18,394.27 1954.18,394.27 1948.72,394.27 1948.72,394.27 1943.26,394.27 1943.26,394.27 1937.8,394.27 1937.8,394.27 1932.34,394.27 1932.34,394.27 1926.88,394.27 1926.88,394.27 1921.42,394.27 1921.42,394.27 1915.96,394.27 1915.96,394.27 1911.96,394.27 1911.96,375.59 1911.59,375.59 1911.59,375.59 1910.5,375.59 1910.5,375.59 1905.04,375.59 1905.04,375.59 1899.58,375.59 1899.58,375.59 1894.12,375.59 1894.12,375.59 1888.66,375.59 1888.66,375.59 1883.2,375.59 1883.2,375.59 1877.74,375.59 1877.74,375.59 1872.28,375.59 1872.28,375.59 1866.82,375.59 1866.82,375.59 1861.36,375.59 1861.36,375.59 1855.9,375.59 1855.9,375.59 1850.44,375.59 1850.44,375.59 1847.53,375.59 1847.53,366.94 1847.16,366.94 1847.16,366.72 1844.98,366.72 1844.98,366.16 1839.52,366.16 1839.52,365.61 1834.06,365.61 1834.06,365.06 1828.6,365.06 1828.6,364.5 1823.14,364.5 1823.14,363.95 1817.68,363.95 1817.68,363.39 1812.22,363.39 1812.22,362.84 1806.76,362.84 1806.76,362.29 1801.3,362.29 1801.3,361.73 1795.84,361.73 1795.84,361.18 1790.38,361.18 1790.38,360.62 1784.92,360.62 1784.92,360.07 1779.46,360.07 1779.46,359.52 1774,359.52 1774,358.96 1768.54,358.96 1768.54,358.41 1763.08,358.41 1763.08,357.85 1757.62,357.85 1757.62,357.3 1752.16,357.3 1752.16,356.74 1746.7,356.74 1746.7,356.56 1744.88,356.56 1744.88,356.06 1744.15,356.06 1744.15,354.04 1741.24,354.04 1741.24,350.27 1735.78,350.27 1735.78,346.49 1730.32,346.49 1730.32,342.72 1724.86,342.72 1724.86,341.76 1723.04,341.76 1723.04,339.84 1719.4,339.84 1719.4,336.95 1713.94,336.95 1713.94,334.07 1708.48,334.07 1708.48,331.19 1703.02,331.19 1703.02,328.69 1698.29,328.69 1698.29,328.3 1697.56,328.3 1697.56,325.42 1692.1,325.42 1692.1,321.27 1686.64,321.27 1686.64,317.12 1681.18,317.12 1681.18,314.35 1677.54,314.35 1677.54,312.96 1675.72,312.96 1675.72,311.58 1673.9,311.58 1673.9,306.74 1670.26,306.74 1670.26,299.47 1664.8,299.47 1664.8,292.2 1659.34,292.2 1659.34,287.36 1655.7,287.36 1655.7,283.9 1653.88,283.9 1653.88,274.9 1649.15,274.9 1649.15,273.52 1648.42,273.52 1648.42,263.14 1642.96,263.14 1642.96,259.68 1641.14,259.68 1641.14,247.57 1637.5,247.57 1637.5,235.46 1633.86,235.46 1633.86,229.41 1632.04,229.41 1632.04,219.72 1629.13,219.72 1629.13,211.24 1626.58,211.24 1626.58,196.02 1622.58,196.02 1622.58,190.48 1621.12,190.48 1621.12,172.49 1616.39,172.49 1616.39,171.1 1616.02,171.1 1616.02,169.72 1615.66,169.72 1615.66,155.88 1612.02,155.88 1612.02,151.12 1610.2,151.12 1610.2,136.85 1604.74,136.85 1604.74,122.58 1599.28,122.58 1599.28,117.82 1597.46,117.82 1597.46,111.77 1593.82,111.77 1593.82,102.68 1588.36,102.68 1588.36,93.6 1582.9,93.6" fill="#f2b8c6" fill-opacity="0.33"/>
<polygon points="1582.9,93.6 1588.36,93.6 1588.36,97.49 1593.82,97.49 1593.82,101.38 1597.46,101.38 1597.46,103.98 1599.28,103.98 1599.28,107.87 1604.74,107.87 1604.74,119.55 1610.2,119.55 1610.2,131.23 1612.02,131.23 1612.02,135.12 1615.66,135.12 1615.66,142.04 1621.12,142.04 1621.12,152.42 1626.58,152.42 1626.58,162.8 1632.04,162.8 1632.04,176.64 1635.68,176.64 1635.68,185.87 1637.5,185.87 1637.5,190.48 1642.96,190.48 1642.96,207.78 1648.42,207.78 1648.42,225.08 1648.42,225.08 1648.42,225.08 1649.15,225.08 1649.15,226.46 1653.88,226.46 1653.88,235.46 1659.34,235.46 1659.34,245.84 1664.8,245.84 1664.8,247.92 1666.62,247.92 1666.62,248.61 1670.26,248.61 1670.26,249.99 1675.72,249.99 1675.72,260.11 1681.18,260.11 1681.18,270.23 1684.82,270.23 1684.82,276.98 1686.64,276.98 1686.64,278.71 1687,278.71 1687,279.06 1692.1,279.06 1692.1,283.9 1697.56,283.9 1697.56,289.09 1699.38,289.09 1699.38,290.82 1703.02,290.82 1703.02,291.31 1708.48,291.31 1708.48,292.06 1713.94,292.06 1713.94,292.8 1719.4,292.8 1719.4,293.54 1724.86,293.54 1724.86,294.28 1728.5,294.28 1728.5,296.88 1730.32,296.88 1730.32,298.17 1735.78,298.17 1735.78,302.07 1739.42,302.07 1739.42,304.66 1741.24,304.66 1741.24,306.39 1745.61,306.39 1745.61,310.54 1746.7,310.54 1746.7,311.58 1750.34,311.58 1750.34,315.04 1752.16,315.04 1752.16,315.91 1757.62,315.91 1757.62,318.5 1763.08,318.5 1763.08,321.1 1764.9,321.1 1764.9,321.96 1768.54,321.96 1768.54,325.42 1774,325.42 1774,330.61 1775.82,330.61 1775.82,332.34 1779.46,332.34 1779.46,336.95 1781.64,336.95 1781.64,339.72 1784.92,339.72 1784.92,343.87 1786.74,343.87 1786.74,346.18 1790.38,346.18 1790.38,347.91 1795.84,347.91 1795.84,350.5 1801.3,350.5 1801.3,353.1 1802.39,353.1 1802.39,353.49 1806.76,353.49 1806.76,355.05 1812.22,355.05 1812.22,356.99 1815.86,356.99 1815.86,358.29 1817.68,358.29 1817.68,358.29 1823.14,358.29 1823.14,358.29 1828.6,358.29 1828.6,358.29 1834.06,358.29 1834.06,358.29 1839.52,358.29 1839.52,358.29 1844.98,358.29 1844.98,358.29 1850.44,358.29 1850.44,358.29 1855.9,358.29 1855.9,358.29 1861.36,358.29 1861.36,358.29 1866.82,358.29 1866.82,358.29 1872.28,358.29 1872.28,358.29 1877.74,358.29 1877.74,358.29 1883.2,358.29 1883.2,358.29 1888.66,358.29 1888.66,358.29 1894.12,358.29 1894.12,358.29 1899.58,358.29 1899.58,358.29 1905.04,358.29 1905.04,358.29 1910.5,358.29 1910.5,358.29 1915.96,358.29 1915.96,358.29 1921.42,358.29 1921.42,358.29 1926.88,358.29 1926.88,358.29 1932.34,358.29 1932.34,358.29 1937.8,358.29 1937.8,358.29 1943.26,358.29 1943.26,358.29 1948.72,358.29 1948.72,358.29 1954.18,358.29 1954.18,358.29 1959.64,358.29 1959.64,358.29 1965.1,358.29 1965.1,358.29 1970.56,358.29 1970.56,358.29 1976.02,358.29 1976.02,358.29 1976.02,358.29 1976.02,424.03 1976.02,424.03 1976.02,424.03 1970.56,424.03 1970.56,424.03 1965.1,424.03 1965.1,424.03 1959.64,424.03 1959.64,424.03 1954.18,424.03 1954.18,424.03 1948.72,424.03 1948.72,424.03 1943.26,424.03 1943.26,424.03 1937.8,424.03 1937.8,424.03 1932.34,424.03 1932.34,424.03 1926.88,424.03 1926.88,424.03 1921.42,424.03 1921.42,424.03 1915.96,424.03 1915.96,424.03 1910.5,424.03 1910.5,424.03 1905.04,424.03 1905.04,424.03 1899.58,424.03 1899.58,424.03 1894.12,424.03 1894.12,424.03 1888.66,424.03 1888.66,424.03 1883.2,424.03 1883.2,424.03 1877.74,424.03 1877.74,424.03 1872.28,424.03 1872.28,424.03 1866.82,424.03 1866.82,424.03 1861.36,424.03 1861.36,424.03 1855.9,424.03 1855.9,424.03 1850.44,424.03 1850.44,424.03 1844.98,424.03 1844.98,424.03 1839.52,424.03 1839.52,424.03 1834.06,424.03 1834.06,424.03 1828.6,424.03 1828.6,424.03 1823.14,424.03 1823.14,424.03 1817.68,424.03 1817.68,424.03 1815.86,424.03 1815.86,422.44 1812.22,422.44 1812.22,420.06 1806.76,420.06 1806.76,418.15 1802.39,418.15 1802.39,417.86 1801.3,417.86 1801.3,416.4 1795.84,416.4 1795.84,414.94 1790.38,414.94 1790.38,413.97 1786.74,413.97 1786.74,413.49 1784.92,413.49 1784.92,412.61 1781.64,412.61 1781.64,411.17 1779.46,411.17 1779.46,408.76 1775.82,408.76 1775.82,407.56 1774,407.56 1774,403.95 1768.54,403.95 1768.54,401.54 1764.9,401.54 1764.9,400.27 1763.08,400.27 1763.08,396.45 1757.62,396.45 1757.62,392.63 1752.16,392.63 1752.16,391.36 1750.34,391.36 1750.34,388.81 1746.7,388.81 1746.7,388.05 1745.61,388.05 1745.61,384.16 1741.24,384.16 1741.24,382.54 1739.42,382.54 1739.42,379.3 1735.78,379.3 1735.78,374.44 1730.32,374.44 1730.32,372.82 1728.5,372.82 1728.5,372.34 1724.86,372.34 1724.86,371.61 1719.4,371.61 1719.4,370.88 1713.94,370.88 1713.94,370.15 1708.48,370.15 1708.48,369.42 1703.02,369.42 1703.02,368.94 1699.38,368.94 1699.38,368.69 1697.56,368.69 1697.56,367.97 1692.1,367.97 1692.1,367.29 1687,367.29 1687,366.97 1686.64,366.97 1686.64,365.4 1684.82,365.4 1684.82,362.24 1681.18,362.24 1681.18,357.52 1675.72,357.52 1675.72,352.79 1670.26,352.79 1670.26,349.64 1666.62,349.64 1666.62,347.12 1664.8,347.12 1664.8,339.55 1659.34,339.55 1659.34,331.98 1653.88,331.98 1653.88,325.42 1649.15,325.42 1649.15,323.36 1648.42,323.36 1648.42,323.36 1648.42,323.36 1648.42,307.93 1642.96,307.93 1642.96,292.5 1637.5,292.5 1637.5,287.36 1635.68,287.36 1635.68,272.14 1632.04,272.14 1632.04,249.3 1626.58,249.3 1626.58,229.84 1621.12,229.84 1621.12,210.38 1615.66,210.38 1615.66,197.4 1612.02,197.4 1612.02,190.91 1610.2,190.91 1610.2,171.45 1604.74,171.45 1604.74,151.99 1599.28,151.99 1599.28,145.5 1597.46,145.5 1597.46,132.53 1593.82,132.53 1593.82,113.06 1588.36,113.06 1588.36,93.6 1582.9,93.6" fill="#3333ff" fill-opacity="0.36"/>
<path d="M1582.9,93.6H1595.46H1599.24V100.52H1601.46V104.61H1603.67V108.71H1605.89V112.8H1608.1V116.9H1610.32V120.99H1612.53V125.09H1616.32H1618.21V151.73H1620.73V158.65H1623.26V165.57H1625.78V172.49H1627.67V181.83H1631.49V204.67H1637.14H1640.96V227.5H1648.42H1650.42V242.73H1653.24V246.53H1656.06V250.34H1667.35H1671.35V261.76H1690.28H1692.54V265.49H1694.79V269.23H1697.05V272.97H1699.31V276.7H1701.56V280.44H1722.31H1724.13V301.55H1726.5V301.76H1728.86V301.98H1731.23V302.19H1733.6V302.41H1735.96V302.63H1738.33V302.84H1740.69V303.06H1743.06V303.28H1744.88V312.96H1847.16H1847.2V329.92H1911.59H1911.63V350.68H2110.7" fill="none" stroke="#eaa6b8" stroke-width="2"/>
<path d="M1584.16,93.6h8.4M1588.36,89.4v8.4M1615.1,154.72h8.4M1619.3,150.52v8.4M1633.3,206.84h8.4M1637.5,202.64v8.4M1651.5,249.85h8.4M1655.7,245.65v8.4M1706.1,280.44h8.4M1710.3,276.24v8.4M1746.14,312.96h8.4M1750.34,308.76v8.4M1760.7,312.96h8.4M1764.9,308.76v8.4M1802.56,312.96h8.4M1806.76,308.76v8.4M1828.04,312.96h8.4M1832.24,308.76v8.4M1866.26,329.92h8.4M1870.46,325.72v8.4M1873.54,329.92h8.4M1877.74,325.72v8.4M1942.7,350.68h8.4M1946.9,346.48v8.4M2059.18,350.68h8.4M2063.38,346.48v8.4M2066.46,350.68h8.4M2070.66,346.48v8.4M2102.86,350.68h8.4M2107.06,346.48v8.4" fill="none" stroke="#eaa6b8" stroke-width="1.8"/>
<path d="M1582.9,93.6H1585.15V100.2H1587.4V106.8H1589.65V113.4H1591.9V119.99H1594.14V126.59H1596.39V133.19H1598.64V139.79H1600.89V146.39H1603.14V152.99H1605.39V159.59H1607.64V166.19H1609.89V172.78H1612.14V179.38H1614.39V185.98H1616.92V191H1619.46V196.02H1621.99V201.03H1624.53V206.05H1627.07V211.07H1629.6V216.08H1631.87V228.08H1634.14V240.07H1636.41V252.07H1637.14V271.1H1639.36V273H1641.59V274.9H1643.82V276.81H1646.04V278.71H1648.27V280.61H1650.49V282.52H1652.68V284.85H1654.86V287.19H1657.05V289.52H1659.23V291.86H1661.81V293.76H1664.38V295.66H1666.96V297.57H1669.53V299.47H1672.08V312.96H1674.48V316.77H1676.88V320.58H1679.29V324.38H1681.69V328.19H1684.09V331.99H1686.49V335.8H1724.39H1727.17V339.43H1729.96V343.07H1732.32V344.02H1734.69V344.97H1737.05V345.92H1739.42V346.87H1743.42V358.29H1745.73V358.52H1748.03V358.75H1750.34V358.98H1752.65V359.21H1754.95V359.44H1757.26V359.67H1759.56V359.9H1761.87V360.14H1764.17V360.37H1765.99V365.9H1768.78V366.59H1771.57V367.29H1774.36V367.98H1776.55V370.75H1778.73V373.51H1780.92V376.28H1783.1V379.05H1784.92V387.7H1787.36V387.85H1789.81V388H1792.25V388.14H1794.7V388.29H1797.14V388.44H1799.58V388.59H1802.03V388.74H1803.85V396.35H1815.5H1815.53V405H1982.21" fill="none" stroke="#1212e0" stroke-width="2.2"/>
<path d="M1611.46,188.5h8.4M1615.66,184.3v8.4M1633.3,271.41h8.4M1637.5,267.21v8.4M1671.52,318.73h8.4M1675.72,314.53v8.4M1674.07,322.77h8.4M1678.27,318.57v8.4M1695.18,335.8h8.4M1699.38,331.6v8.4M1724.3,341.17h8.4M1728.5,336.97v8.4M1746.14,358.98h8.4M1750.34,354.78v8.4M1771.62,369.82h8.4M1775.82,365.62v8.4M1773.44,372.13h8.4M1777.64,367.93v8.4M1800.74,396.35h8.4M1804.94,392.15v8.4M1869.9,405h8.4M1874.1,400.8v8.4M1919.04,405h8.4M1923.24,400.8v8.4M1949.98,405h8.4M1954.18,400.8v8.4M1977.28,405h8.4M1981.48,400.8v8.4" fill="none" stroke="#1212e0" stroke-width="1.8"/>
<line x1="1555.9" y1="76" x2="1555.9" y2="458.4" stroke="#000" stroke-width="2.2"/>
<line x1="1554.8" y1="457.3" x2="2162" y2="457.3" stroke="#000" stroke-width="2.2"/>
<line x1="1551.4" y1="439.6" x2="1555.9" y2="439.6" stroke="#000" stroke-width="2"/>
<text transform="translate(1544.1,445.6) scale(1.1100,1)" x="-40.49" y="0" font-size="21.2" fill="#000" stroke="#000" stroke-width="0.5">0.00</text>
<line x1="1551.4" y1="353.1" x2="1555.9" y2="353.1" stroke="#000" stroke-width="2"/>
<text transform="translate(1544.1,359.1) scale(1.1100,1)" x="-40.39" y="0" font-size="21.2" fill="#000" stroke="#000" stroke-width="0.5">0.25</text>
<line x1="1551.4" y1="266.6" x2="1555.9" y2="266.6" stroke="#000" stroke-width="2"/>
<text transform="translate(1544.1,272.6) scale(1.1100,1)" x="-40.49" y="0" font-size="21.2" fill="#000" stroke="#000" stroke-width="0.5">0.50</text>
<line x1="1551.4" y1="180.1" x2="1555.9" y2="180.1" stroke="#000" stroke-width="2"/>
<text transform="translate(1544.1,186.1) scale(1.1100,1)" x="-40.39" y="0" font-size="21.2" fill="#000" stroke="#000" stroke-width="0.5">0.75</text>
<line x1="1551.4" y1="93.6" x2="1555.9" y2="93.6" stroke="#000" stroke-width="2"/>
<text transform="translate(1544.1,99.6) scale(1.1100,1)" x="-40.49" y="0" font-size="21.2" fill="#000" stroke="#000" stroke-width="0.5">1.00</text>
<line x1="1582.9" y1="457.3" x2="1582.9" y2="461.8" stroke="#000" stroke-width="2"/>
<text transform="translate(1582.9,483.8) scale(1.0700,1)" x="-5.83" y="0" font-size="21" fill="#000" stroke="#000" stroke-width="0.5">0</text>
<line x1="1655.7" y1="457.3" x2="1655.7" y2="461.8" stroke="#000" stroke-width="2"/>
<text transform="translate(1655.7,483.8) scale(1.0700,1)" x="-5.88" y="0" font-size="21" fill="#000" stroke="#000" stroke-width="0.5">2</text>
<line x1="1728.5" y1="457.3" x2="1728.5" y2="461.8" stroke="#000" stroke-width="2"/>
<text transform="translate(1728.5,483.8) scale(1.0700,1)" x="-5.78" y="0" font-size="21" fill="#000" stroke="#000" stroke-width="0.5">4</text>
<line x1="1801.3" y1="457.3" x2="1801.3" y2="461.8" stroke="#000" stroke-width="2"/>
<text transform="translate(1801.3,483.8) scale(1.0700,1)" x="-5.93" y="0" font-size="21" fill="#000" stroke="#000" stroke-width="0.5">6</text>
<line x1="1874.1" y1="457.3" x2="1874.1" y2="461.8" stroke="#000" stroke-width="2"/>
<text transform="translate(1874.1,483.8) scale(1.0700,1)" x="-5.83" y="0" font-size="21" fill="#000" stroke="#000" stroke-width="0.5">8</text>
<line x1="1946.9" y1="457.3" x2="1946.9" y2="461.8" stroke="#000" stroke-width="2"/>
<text transform="translate(1946.9,483.8) scale(1.0700,1)" x="-12.07" y="0" font-size="21" fill="#000" stroke="#000" stroke-width="0.5">10</text>
<line x1="2019.7" y1="457.3" x2="2019.7" y2="461.8" stroke="#000" stroke-width="2"/>
<text transform="translate(2019.7,483.8) scale(1.0700,1)" x="-11.97" y="0" font-size="21" fill="#000" stroke="#000" stroke-width="0.5">12</text>
<line x1="2092.5" y1="457.3" x2="2092.5" y2="461.8" stroke="#000" stroke-width="2"/>
<text transform="translate(2092.5,483.8) scale(1.0700,1)" x="-12.18" y="0" font-size="21" fill="#000" stroke="#000" stroke-width="0.5">14</text>
<line x1="2128" y1="457.6" x2="2162" y2="457.6" stroke="#d04040" stroke-width="2.2"/>
<text transform="translate(1496,267.3) rotate(-90) scale(1.0700,1)" x="-20.84" y="0" font-size="21" fill="#000" stroke="#000" stroke-width="0.5">PFS</text>
<text transform="translate(1588.6,400.7) scale(1.0910,1)" x="-0.64" y="0" font-size="21.2" fill="#000" stroke="#000" stroke-width="0.5" xml:space="preserve"><tspan font-style="italic">P</tspan> = 0.023</text>
<rect x="1935" y="173.8" width="15.2" height="7" fill="#e3a9b6"/>
<text transform="translate(1957.6,184.2) scale(1.0700,1)" x="-1.68" y="0" font-size="21" fill="#000" stroke="#000" stroke-width="0.5">Female</text>
<rect x="1935" y="202.8" width="15.2" height="7" fill="#1212e0"/>
<text transform="translate(1957.6,213.2) scale(1.0700,1)" x="-1.68" y="0" font-size="21" fill="#000" stroke="#000" stroke-width="0.5">Male</text>
<text transform="translate(1774,510.3) scale(1.1416,1)" x="-0.41" y="0" font-size="20.5" fill="#000" stroke="#000" stroke-width="0.5">Time in Years</text>
<text transform="translate(1769.1,535) scale(1.1297,1)" x="-1.64" y="0" font-size="20.5" fill="#000" stroke="#000" stroke-width="0.5">Number at risk</text>
<line x1="1555.9" y1="540.4" x2="1555.9" y2="622.6" stroke="#000" stroke-width="2.2"/>
<line x1="1554.8" y1="621.5" x2="2162" y2="621.5" stroke="#000" stroke-width="2.2"/>
<line x1="1551.4" y1="562" x2="1555.9" y2="562" stroke="#000" stroke-width="2"/>
<line x1="1551.4" y1="599.2" x2="1555.9" y2="599.2" stroke="#000" stroke-width="2"/>
<text transform="translate(1582.9,569.4) scale(1.0750,1)" x="-11.45" y="0" font-size="21" fill="#e8b4c2" stroke="#e8b4c2" stroke-width="0.5">43</text>
<text transform="translate(1582.9,605.9) scale(1.0750,1)" x="-11.71" y="0" font-size="21" fill="#1c1cc8" stroke="#1c1cc8" stroke-width="0.5">71</text>
<text transform="translate(1655.7,569.4) scale(1.0750,1)" x="-11.71" y="0" font-size="21" fill="#e8b4c2" stroke="#e8b4c2" stroke-width="0.5">21</text>
<text transform="translate(1655.7,605.9) scale(1.0750,1)" x="-11.71" y="0" font-size="21" fill="#1c1cc8" stroke="#1c1cc8" stroke-width="0.5">29</text>
<text transform="translate(1728.5,569.4) scale(1.0750,1)" x="-12.02" y="0" font-size="21" fill="#e8b4c2" stroke="#e8b4c2" stroke-width="0.5">13</text>
<text transform="translate(1728.5,605.9) scale(1.0750,1)" x="-11.97" y="0" font-size="21" fill="#1c1cc8" stroke="#1c1cc8" stroke-width="0.5">17</text>
<text transform="translate(1801.3,569.4) scale(1.0750,1)" x="-12.07" y="0" font-size="21" fill="#e8b4c2" stroke="#e8b4c2" stroke-width="0.5">10</text>
<text transform="translate(1801.3,605.9) scale(1.0750,1)" x="-5.88" y="0" font-size="21" fill="#1c1cc8" stroke="#1c1cc8" stroke-width="0.5">7</text>
<text transform="translate(1874.1,569.4) scale(1.0750,1)" x="-5.93" y="0" font-size="21" fill="#e8b4c2" stroke="#e8b4c2" stroke-width="0.5">6</text>
<text transform="translate(1874.1,605.9) scale(1.0750,1)" x="-5.78" y="0" font-size="21" fill="#1c1cc8" stroke="#1c1cc8" stroke-width="0.5">4</text>
<text transform="translate(1946.9,569.4) scale(1.0750,1)" x="-5.78" y="0" font-size="21" fill="#e8b4c2" stroke="#e8b4c2" stroke-width="0.5">4</text>
<text transform="translate(1946.9,605.9) scale(1.0750,1)" x="-5.88" y="0" font-size="21" fill="#1c1cc8" stroke="#1c1cc8" stroke-width="0.5">2</text>
<text transform="translate(2019.7,569.4) scale(1.0750,1)" x="-5.78" y="0" font-size="21" fill="#e8b4c2" stroke="#e8b4c2" stroke-width="0.5">3</text>
<text transform="translate(2019.7,605.9) scale(1.0750,1)" x="-5.83" y="0" font-size="21" fill="#1c1cc8" stroke="#1c1cc8" stroke-width="0.5">0</text>
<text transform="translate(2092.5,569.4) scale(1.0750,1)" x="-6.14" y="0" font-size="21" fill="#e8b4c2" stroke="#e8b4c2" stroke-width="0.5">1</text>
<text transform="translate(2092.5,605.9) scale(1.0750,1)" x="-5.83" y="0" font-size="21" fill="#1c1cc8" stroke="#1c1cc8" stroke-width="0.5">0</text>
<line x1="1582.9" y1="621.5" x2="1582.9" y2="626" stroke="#000" stroke-width="2"/>
<text transform="translate(1582.9,646.7) scale(1.0700,1)" x="-5.83" y="0" font-size="21" fill="#000" stroke="#000" stroke-width="0.5">0</text>
<line x1="1655.7" y1="621.5" x2="1655.7" y2="626" stroke="#000" stroke-width="2"/>
<text transform="translate(1655.7,646.7) scale(1.0700,1)" x="-5.88" y="0" font-size="21" fill="#000" stroke="#000" stroke-width="0.5">2</text>
<line x1="1728.5" y1="621.5" x2="1728.5" y2="626" stroke="#000" stroke-width="2"/>
<text transform="translate(1728.5,646.7) scale(1.0700,1)" x="-5.78" y="0" font-size="21" fill="#000" stroke="#000" stroke-width="0.5">4</text>
<line x1="1801.3" y1="621.5" x2="1801.3" y2="626" stroke="#000" stroke-width="2"/>
<text transform="translate(1801.3,646.7) scale(1.0700,1)" x="-5.93" y="0" font-size="21" fill="#000" stroke="#000" stroke-width="0.5">6</text>
<line x1="1874.1" y1="621.5" x2="1874.1" y2="626" stroke="#000" stroke-width="2"/>
<text transform="translate(1874.1,646.7) scale(1.0700,1)" x="-5.83" y="0" font-size="21" fill="#000" stroke="#000" stroke-width="0.5">8</text>
<line x1="1946.9" y1="621.5" x2="1946.9" y2="626" stroke="#000" stroke-width="2"/>
<text transform="translate(1946.9,646.7) scale(1.0700,1)" x="-12.07" y="0" font-size="21" fill="#000" stroke="#000" stroke-width="0.5">10</text>
<line x1="2019.7" y1="621.5" x2="2019.7" y2="626" stroke="#000" stroke-width="2"/>
<text transform="translate(2019.7,646.7) scale(1.0700,1)" x="-11.97" y="0" font-size="21" fill="#000" stroke="#000" stroke-width="0.5">12</text>
<line x1="2092.5" y1="621.5" x2="2092.5" y2="626" stroke="#000" stroke-width="2"/>
<text transform="translate(2092.5,646.7) scale(1.0700,1)" x="-12.18" y="0" font-size="21" fill="#000" stroke="#000" stroke-width="0.5">14</text>
<text transform="translate(1769.7,669.8) scale(1.1481,1)" x="-0.41" y="0" font-size="20.5" fill="#000" stroke="#000" stroke-width="0.5">Time is Years</text>
<text transform="translate(1532.6,585) rotate(-90)" x="-46.03" y="0" font-size="20.3" fill="#000" stroke="#000" stroke-width="0.5">Treatment</text>
<text transform="translate(5.7,729.7)" x="-2.05" y="0" font-size="31.5" fill="#000" font-weight="bold" stroke="#000" stroke-width="0.3">b</text>
<defs><filter id="grain" filterUnits="userSpaceOnUse" x="60" y="690" width="470" height="480"><feTurbulence type="fractalNoise" baseFrequency="0.45" numOctaves="1" seed="2" result="t"/><feDisplacementMap in="SourceGraphic" in2="t" scale="5" xChannelSelector="R" yChannelSelector="G"/></filter></defs>
<g filter="url(#grain)">
<path d="M106.2,797.3C109.87,794.93 118.05,796.25 122,797.3C125.95,798.35 127.53,800.7 129.9,803.6C132.27,806.5 133.85,811.55 136.2,814.7C138.55,817.85 141.12,820.15 144,822.5C146.88,824.85 150.08,827.48 153.5,828.8C156.92,830.12 160.03,832.23 164.5,830.4C168.97,828.57 175.05,820.42 180.3,817.8C185.55,815.18 190.75,816 196,814.7C201.25,813.4 206.53,811.18 211.8,810C217.07,808.82 222.87,807.6 227.6,807.6C232.33,807.6 237.58,808.3 240.2,810C242.82,811.7 243.83,814.4 243.3,817.8C242.77,821.2 240.15,826.2 237,830.4C233.85,834.6 227.55,839.58 224.4,843C221.25,846.42 219.42,847.75 218.1,850.9C216.78,854.05 218.08,858.75 216.5,861.9C214.92,865.05 212.02,867.43 208.6,869.8C205.18,872.17 200.72,875.32 196,876.1C191.28,876.88 185.02,873.72 180.3,874.5C175.58,875.28 170.85,877.65 167.7,880.8C164.55,883.95 164.03,890.63 161.4,893.4C158.77,896.17 156.63,896.87 151.9,897.4C147.17,897.93 138.77,897.52 133,896.6C127.23,895.68 122.02,894 117.3,891.9C112.58,889.8 108.12,887.42 104.7,884C101.28,880.58 98.65,875.6 96.8,871.4C94.95,867.2 93.87,863 93.6,858.8C93.33,854.6 95.3,849.33 95.2,846.2C95.1,843.07 92.47,843.15 93,840C93.53,836.85 97.23,832.05 98.4,827.3C99.57,822.55 98.7,816.5 100,811.5C101.3,806.5 102.53,799.67 106.2,797.3Z" fill="#e8a060" stroke="none" stroke-width="1"/>
<polygon points="88,842 92,835 95,838 92,848 88,848" fill="#e8a060"/>
<g fill="#fff"><rect x="147.71" y="867.62" width="2" height="2"/><rect x="157.53" y="865.74" width="2" height="2"/><rect x="154.08" y="872.78" width="2" height="2"/><rect x="139.74" y="876.18" width="2" height="2"/><rect x="139.12" y="874.41" width="2" height="2"/><rect x="140.1" y="866.18" width="2" height="2"/><rect x="150.74" y="883.84" width="2" height="2"/><rect x="141.71" y="869.36" width="2" height="2"/><rect x="156.82" y="886.75" width="2" height="2"/><rect x="155.31" y="873.52" width="2" height="2"/><rect x="167.29" y="865.12" width="2" height="2"/><rect x="163.75" y="870.95" width="2" height="2"/><rect x="142.33" y="866.83" width="2" height="2"/><rect x="147.25" y="883.59" width="2" height="2"/><rect x="143.42" y="877.96" width="2" height="2"/><rect x="157.17" y="872.94" width="2" height="2"/><rect x="154.43" y="865.51" width="2" height="2"/><rect x="139.79" y="868.94" width="2" height="2"/><rect x="158.41" y="874.26" width="2" height="2"/><rect x="147.42" y="878.05" width="2" height="2"/><rect x="151.6" y="871.19" width="2" height="2"/><rect x="161.83" y="880.78" width="2" height="2"/><rect x="145.32" y="877.79" width="2" height="2"/><rect x="153.76" y="885" width="2" height="2"/><rect x="159.88" y="870.91" width="2" height="2"/><rect x="167.41" y="866.83" width="2" height="2"/><rect x="150.54" y="882.17" width="2" height="2"/><rect x="142.56" y="875.74" width="2" height="2"/><rect x="139.18" y="880.04" width="2" height="2"/><rect x="160.94" y="877.75" width="2" height="2"/><rect x="164.26" y="871.53" width="2" height="2"/><rect x="158.86" y="878.26" width="2" height="2"/><rect x="155.4" y="874.95" width="2" height="2"/><rect x="163.2" y="886.67" width="2" height="2"/><rect x="152.22" y="879.94" width="2" height="2"/><rect x="139.82" y="880.84" width="2" height="2"/><rect x="157.41" y="887.83" width="2" height="2"/><rect x="162.66" y="870.83" width="2" height="2"/><rect x="149.57" y="880.05" width="2" height="2"/><rect x="138.68" y="875.08" width="2" height="2"/></g>
<g fill="#fff"><rect x="194.2" y="847.34" width="1.8" height="1.8"/><rect x="191.47" y="860.36" width="1.8" height="1.8"/><rect x="193.23" y="849.95" width="1.8" height="1.8"/><rect x="199.77" y="862.43" width="1.8" height="1.8"/><rect x="192.01" y="853.98" width="1.8" height="1.8"/><rect x="203.74" y="862.67" width="1.8" height="1.8"/><rect x="210.48" y="862.28" width="1.8" height="1.8"/><rect x="196.96" y="853.31" width="1.8" height="1.8"/><rect x="198.97" y="862.68" width="1.8" height="1.8"/><rect x="213.94" y="848.02" width="1.8" height="1.8"/><rect x="194.41" y="849.64" width="1.8" height="1.8"/><rect x="195.83" y="854.7" width="1.8" height="1.8"/><rect x="204.73" y="850.25" width="1.8" height="1.8"/><rect x="190.1" y="853.38" width="1.8" height="1.8"/></g>
<path d="M380.1,716.1C381.08,715.72 383.83,716.15 385.6,717C387.37,717.85 389.55,719.73 390.7,721.2C391.85,722.67 392.5,724.27 392.5,725.8C392.5,727.33 391.85,729.4 390.7,730.4C389.55,731.4 387.05,731.57 385.6,731.8C384.15,732.03 383.53,730.65 382,731.8C380.47,732.95 377.72,737.17 376.4,738.7C375.08,740.23 374.58,740.85 374.1,741C373.62,741.15 372.5,741.37 373.5,739.6C374.5,737.83 378.77,732.4 380.1,730.4C381.43,728.4 381.35,728.83 381.5,727.6C381.65,726.37 381.3,724.38 381,723C380.7,721.62 379.85,720.45 379.7,719.3C379.55,718.15 379.12,716.48 380.1,716.1Z" fill="#8b7b60" stroke="none" stroke-width="1"/>
<path d="M327.6,814.2C329.13,813.28 334.33,813.43 336.8,814.2C339.27,814.97 340.7,817.58 342.4,818.8C344.1,820.02 346.4,820.12 347,821.5C347.6,822.88 347.08,825.87 346,827.1C344.92,828.33 342.33,827.83 340.5,828.9C338.67,829.97 336.68,832.12 335,833.5C333.32,834.88 332.08,836.73 330.4,837.2C328.72,837.67 325.52,837.98 324.9,836.3C324.28,834.62 326.25,829.87 326.7,827.1C327.15,824.33 327.45,821.85 327.6,819.7C327.75,817.55 326.07,815.12 327.6,814.2Z" fill="#e8b870" stroke="none" stroke-width="1"/>
<path d="M338,818C339.33,817 343.5,818.67 345,820C346.5,821.33 347.5,824.5 347,826C346.5,827.5 343.67,829 342,829C340.33,829 337.67,827.83 337,826C336.33,824.17 336.67,819 338,818Z" fill="#e2e67c" stroke="none" stroke-width="1"/>
<path d="M326,828C326.83,827.17 329.5,828.67 330,830C330.5,831.33 329.83,835.17 329,836C328.17,836.83 325.5,836.33 325,835C324.5,833.67 325.17,828.83 326,828Z" fill="#e2e67c" stroke="none" stroke-width="1"/>
<path d="M339.6,789.3C341.3,789.3 342.53,790.28 343.3,791.2C344.07,792.12 345.28,793.27 344.2,794.8C343.12,796.33 338.65,798.55 336.8,800.4C334.95,802.25 333.25,803.75 333.1,805.9C332.95,808.05 336.35,811.77 335.9,813.3C335.45,814.83 332.55,815.1 330.4,815.1C328.25,815.1 325.3,813.15 323,813.3C320.7,813.45 317.6,816.77 316.6,816C315.6,815.23 316.23,810.85 317,808.7C317.77,806.55 319.58,805.25 321.2,803.1C322.82,800.95 324.72,797.78 326.7,795.8C328.68,793.82 330.95,792.28 333.1,791.2C335.25,790.12 337.9,789.3 339.6,789.3Z" fill="#8b7b60" stroke="none" stroke-width="1"/>
<g fill="#e09050"><rect x="327.54" y="808.5" width="1.8" height="1.8"/><rect x="336.3" y="810.36" width="1.8" height="1.8"/><rect x="329.73" y="809.26" width="1.8" height="1.8"/><rect x="332.14" y="800.81" width="1.8" height="1.8"/><rect x="335.49" y="811.7" width="1.8" height="1.8"/><rect x="335.12" y="811.97" width="1.8" height="1.8"/><rect x="327.89" y="805.98" width="1.8" height="1.8"/><rect x="323.55" y="809.51" width="1.8" height="1.8"/><rect x="322.93" y="801.01" width="1.8" height="1.8"/></g>
<g fill="#d87040"><rect x="330.92" y="820.6" width="1.6" height="1.6"/><rect x="332.76" y="818.84" width="1.6" height="1.6"/><rect x="328" y="820.42" width="1.6" height="1.6"/><rect x="329.42" y="823.82" width="1.6" height="1.6"/><rect x="328.36" y="831.99" width="1.6" height="1.6"/><rect x="336.6" y="820.38" width="1.6" height="1.6"/><rect x="331.53" y="823.56" width="1.6" height="1.6"/><rect x="333.1" y="819.97" width="1.6" height="1.6"/><rect x="339.89" y="833.89" width="1.6" height="1.6"/><rect x="334.52" y="825.74" width="1.6" height="1.6"/></g>
<circle cx="340.5" cy="786.2" r="1.2" fill="#555"/>
<circle cx="319.5" cy="817.5" r="1.3" fill="#555"/>
<circle cx="323" cy="845.5" r="1" fill="#8a9070"/>
<circle cx="310.6" cy="855.6" r="1" fill="#8a9070"/>
<rect x="306.5" y="858" width="2" height="6" fill="#86da7e"/>
<path d="M296,864C297.17,862.5 300,860.67 301,861C302,861.33 302.67,864.17 302,866C301.33,867.83 298.33,871.33 297,872C295.67,872.67 294.17,871.33 294,870C293.83,868.67 294.83,865.5 296,864Z" fill="#8b7b60" stroke="none" stroke-width="1"/>
<path d="M274.4,874.4C275.45,872.83 281.62,872.75 286.2,872.1C290.78,871.45 298.23,870.25 301.9,870.5C305.57,870.75 304.78,872.03 308.2,873.6C311.62,875.17 318.2,877.8 322.4,879.9C326.6,882 329.47,884.62 333.4,886.2C337.33,887.78 341.27,889.27 346,889.4C350.73,889.53 357.85,886.48 361.8,887C365.75,887.52 369.17,890 369.7,892.5C370.23,895 366.85,899.37 365,902C363.15,904.63 357.55,906.73 358.6,908.3C359.65,909.87 367.08,910.62 371.3,911.4C375.52,912.18 380.23,913.48 383.9,913C387.57,912.52 389.1,909.82 393.3,908.5C397.5,907.18 403.85,907.5 409.1,905.1C414.35,902.7 421.13,898.03 424.8,894.1C428.47,890.17 428.47,885.17 431.1,881.5C433.73,877.83 436.4,874.33 440.6,872.1C444.8,869.87 451.58,868.1 456.3,868.1C461.02,868.1 464.95,869.87 468.9,872.1C472.85,874.33 476.32,878.35 480,881.5C483.68,884.65 488.12,887.07 491,891C493.88,894.93 495.73,899.33 497.3,905.1C498.87,910.87 499.88,918.5 500.4,925.6C500.92,932.7 500.92,940.6 500.4,947.7C499.88,954.8 498.87,962.68 497.3,968.2C495.73,973.72 493.63,977.78 491,980.8C488.37,983.82 484.65,985.78 481.5,986.3C478.35,986.82 474.72,985.62 472.1,983.9C469.48,982.18 468.43,978.1 465.8,976C463.17,973.9 460.5,972.6 456.3,971.3C452.1,970 445.85,968.47 440.6,968.2C435.35,967.93 429.27,968.65 424.8,969.7C420.33,970.75 419.05,972.4 413.8,974.5C408.55,976.6 399.33,979.95 393.3,982.3C387.27,984.65 383.38,985.97 377.6,988.6C371.82,991.23 363.87,995.73 358.6,998.1C353.33,1000.47 350.2,1002.53 346,1002.8C341.8,1003.07 336.55,1002.07 333.4,999.7C330.25,997.33 329.72,991.75 327.1,988.6C324.48,985.45 321.37,983.15 317.7,980.8C314.03,978.45 309.03,976.87 305.1,974.5C301.17,972.13 297.78,968.97 294.1,966.6C290.42,964.23 287.47,961.88 283,960.3C278.53,958.72 273.07,958.15 267.3,957.1C261.53,956.05 253.13,956.1 248.4,954C243.67,951.9 241.27,947.92 238.9,944.5C236.53,941.08 234.72,936.38 234.2,933.5C233.68,930.62 233.43,927.47 235.8,927.2C238.17,926.93 243.68,930.07 248.4,931.9C253.12,933.73 258.85,937.93 264.1,938.2C269.35,938.47 274.9,935.07 279.9,933.5C284.9,931.93 290.95,930.9 294.1,928.8C297.25,926.7 298.28,924.05 298.8,920.9C299.32,917.75 299.3,914.37 297.2,909.9C295.1,905.43 289.08,898.83 286.2,894.1C283.32,889.37 281.87,884.78 279.9,881.5C277.93,878.22 273.35,875.97 274.4,874.4Z" fill="#86da7e" stroke="none" stroke-width="1"/>
<path d="M372.3,921.5C374.58,920.15 379.87,920.5 383.9,920.5C387.93,920.5 392.3,921 396.5,921.5C400.7,922 406.12,922.38 409.1,923.5C412.08,924.62 414.4,926.72 414.4,928.2C414.4,929.68 411.83,931.12 409.1,932.4C406.37,933.68 401.95,935.55 398,935.9C394.05,936.25 388.8,934.12 385.4,934.5C382,934.88 379.7,936.7 377.6,938.2C375.5,939.7 374.22,943.5 372.8,943.5C371.38,943.5 369.53,940.68 369.1,938.2C368.67,935.72 369.67,931.38 370.2,928.6C370.73,925.82 370.02,922.85 372.3,921.5Z" fill="#fff" stroke="none" stroke-width="1"/>
<g fill="#fff"><rect x="363.01" y="944.6" width="3" height="3"/><rect x="371.99" y="951.91" width="3" height="3"/><rect x="389.01" y="947.26" width="3" height="3"/><rect x="360.81" y="982.79" width="3" height="3"/><rect x="378.49" y="946.6" width="3" height="3"/><rect x="379.01" y="941.22" width="3" height="3"/><rect x="378.48" y="984.03" width="3" height="3"/><rect x="390.22" y="971.33" width="3" height="3"/><rect x="369.14" y="956.5" width="3" height="3"/><rect x="365.85" y="974.74" width="3" height="3"/><rect x="378.64" y="975.06" width="3" height="3"/><rect x="371.54" y="950.04" width="3" height="3"/><rect x="388.4" y="984.32" width="3" height="3"/><rect x="389.84" y="976.27" width="3" height="3"/><rect x="388.64" y="973.29" width="3" height="3"/><rect x="367.94" y="963.29" width="3" height="3"/><rect x="372.44" y="941.3" width="3" height="3"/><rect x="360.98" y="952.57" width="3" height="3"/><rect x="369.07" y="971.16" width="3" height="3"/><rect x="393.48" y="960.13" width="3" height="3"/><rect x="392.8" y="984.46" width="3" height="3"/><rect x="393.43" y="956.41" width="3" height="3"/><rect x="367.72" y="950.21" width="3" height="3"/><rect x="366.88" y="949.2" width="3" height="3"/><rect x="381.84" y="980.51" width="3" height="3"/><rect x="389.42" y="961.58" width="3" height="3"/><rect x="382.85" y="975.98" width="3" height="3"/><rect x="362.97" y="969.73" width="3" height="3"/><rect x="391.84" y="975.2" width="3" height="3"/><rect x="386.25" y="961.51" width="3" height="3"/><rect x="366.25" y="975.51" width="3" height="3"/><rect x="371.64" y="976.04" width="3" height="3"/><rect x="394.01" y="957.81" width="3" height="3"/><rect x="374.05" y="982.61" width="3" height="3"/><rect x="385.37" y="947.65" width="3" height="3"/><rect x="364.45" y="946.8" width="3" height="3"/><rect x="391.67" y="976.29" width="3" height="3"/><rect x="365.12" y="977.19" width="3" height="3"/><rect x="394.31" y="969.58" width="3" height="3"/><rect x="372.26" y="964.69" width="3" height="3"/></g>
<g fill="#fff"><rect x="421.67" y="946.28" width="3.2" height="3.2"/><rect x="445.18" y="958.99" width="3.2" height="3.2"/><rect x="432.74" y="964.67" width="3.2" height="3.2"/><rect x="430.15" y="963.43" width="3.2" height="3.2"/><rect x="441.13" y="950.22" width="3.2" height="3.2"/><rect x="425.05" y="951.86" width="3.2" height="3.2"/><rect x="424.74" y="957.73" width="3.2" height="3.2"/><rect x="425.26" y="954.38" width="3.2" height="3.2"/><rect x="421.67" y="964.2" width="3.2" height="3.2"/><rect x="427.91" y="955.16" width="3.2" height="3.2"/><rect x="434.33" y="964.09" width="3.2" height="3.2"/><rect x="429.78" y="964.35" width="3.2" height="3.2"/><rect x="432.05" y="956.64" width="3.2" height="3.2"/><rect x="432.66" y="946.37" width="3.2" height="3.2"/><rect x="430.32" y="949.66" width="3.2" height="3.2"/><rect x="418.11" y="961.98" width="3.2" height="3.2"/><rect x="422.83" y="955.47" width="3.2" height="3.2"/><rect x="438.31" y="957.13" width="3.2" height="3.2"/><rect x="427.13" y="956.37" width="3.2" height="3.2"/><rect x="433.55" y="961.69" width="3.2" height="3.2"/><rect x="420.97" y="957.21" width="3.2" height="3.2"/><rect x="424.96" y="951.54" width="3.2" height="3.2"/><rect x="439.62" y="956.15" width="3.2" height="3.2"/><rect x="433.73" y="961.2" width="3.2" height="3.2"/><rect x="443.55" y="954.86" width="3.2" height="3.2"/></g>
<g fill="#fff"><rect x="396.75" y="951.87" width="2.2" height="2.2"/><rect x="390.73" y="964.41" width="2.2" height="2.2"/><rect x="387.14" y="953.73" width="2.2" height="2.2"/><rect x="388.68" y="981.08" width="2.2" height="2.2"/><rect x="401.95" y="976.73" width="2.2" height="2.2"/><rect x="416.53" y="935.39" width="2.2" height="2.2"/><rect x="393.57" y="981.2" width="2.2" height="2.2"/><rect x="410.4" y="927.19" width="2.2" height="2.2"/><rect x="367.3" y="947.62" width="2.2" height="2.2"/><rect x="364.35" y="934.12" width="2.2" height="2.2"/><rect x="364.39" y="962.85" width="2.2" height="2.2"/><rect x="407.04" y="978.1" width="2.2" height="2.2"/><rect x="369.27" y="965.98" width="2.2" height="2.2"/><rect x="399.62" y="927.58" width="2.2" height="2.2"/><rect x="412.97" y="982.83" width="2.2" height="2.2"/><rect x="373.18" y="981.82" width="2.2" height="2.2"/><rect x="383.9" y="950.65" width="2.2" height="2.2"/><rect x="419.39" y="973.77" width="2.2" height="2.2"/><rect x="369.69" y="946.91" width="2.2" height="2.2"/><rect x="390.94" y="940.72" width="2.2" height="2.2"/><rect x="371.74" y="939.34" width="2.2" height="2.2"/><rect x="403.33" y="919.31" width="2.2" height="2.2"/><rect x="393.24" y="947.51" width="2.2" height="2.2"/><rect x="361.08" y="940.21" width="2.2" height="2.2"/><rect x="397.44" y="952.32" width="2.2" height="2.2"/><rect x="363.86" y="984" width="2.2" height="2.2"/><rect x="407.3" y="983.1" width="2.2" height="2.2"/><rect x="366.29" y="935.79" width="2.2" height="2.2"/><rect x="362.38" y="970.19" width="2.2" height="2.2"/><rect x="376.23" y="926.68" width="2.2" height="2.2"/><rect x="385.34" y="979.06" width="2.2" height="2.2"/><rect x="409.14" y="935.33" width="2.2" height="2.2"/><rect x="368.96" y="979.58" width="2.2" height="2.2"/><rect x="394.24" y="964.93" width="2.2" height="2.2"/><rect x="365.37" y="921.85" width="2.2" height="2.2"/><rect x="401.29" y="946.5" width="2.2" height="2.2"/><rect x="364.34" y="980.87" width="2.2" height="2.2"/><rect x="398.07" y="971.71" width="2.2" height="2.2"/><rect x="365.02" y="975.37" width="2.2" height="2.2"/><rect x="364" y="975.81" width="2.2" height="2.2"/><rect x="387.23" y="940.72" width="2.2" height="2.2"/><rect x="393.18" y="980.09" width="2.2" height="2.2"/><rect x="376.07" y="926.66" width="2.2" height="2.2"/><rect x="391.61" y="933.98" width="2.2" height="2.2"/><rect x="366.57" y="928.82" width="2.2" height="2.2"/><rect x="363.02" y="931.52" width="2.2" height="2.2"/><rect x="378.72" y="938.44" width="2.2" height="2.2"/><rect x="405.57" y="937.43" width="2.2" height="2.2"/><rect x="390.01" y="929.92" width="2.2" height="2.2"/><rect x="380.82" y="919.22" width="2.2" height="2.2"/><rect x="375.03" y="919.03" width="2.2" height="2.2"/><rect x="403.98" y="954.92" width="2.2" height="2.2"/><rect x="371.37" y="949.81" width="2.2" height="2.2"/><rect x="416.08" y="925.12" width="2.2" height="2.2"/><rect x="409.14" y="946.96" width="2.2" height="2.2"/><rect x="389.7" y="973.92" width="2.2" height="2.2"/><rect x="383.59" y="951.95" width="2.2" height="2.2"/><rect x="401.26" y="983.82" width="2.2" height="2.2"/><rect x="380.56" y="973.76" width="2.2" height="2.2"/><rect x="402.4" y="960.61" width="2.2" height="2.2"/><rect x="384.28" y="941.29" width="2.2" height="2.2"/><rect x="363.26" y="926.7" width="2.2" height="2.2"/><rect x="364.24" y="967.64" width="2.2" height="2.2"/><rect x="375.34" y="928.94" width="2.2" height="2.2"/><rect x="365.07" y="974.37" width="2.2" height="2.2"/><rect x="412.23" y="962.93" width="2.2" height="2.2"/><rect x="376.92" y="934.23" width="2.2" height="2.2"/><rect x="377.58" y="948.78" width="2.2" height="2.2"/><rect x="369.45" y="947.87" width="2.2" height="2.2"/><rect x="375.79" y="982.44" width="2.2" height="2.2"/><rect x="418.36" y="954.65" width="2.2" height="2.2"/><rect x="374.67" y="982.7" width="2.2" height="2.2"/><rect x="378.57" y="941.89" width="2.2" height="2.2"/><rect x="360.06" y="943.57" width="2.2" height="2.2"/><rect x="388.48" y="951.69" width="2.2" height="2.2"/><rect x="372.06" y="951.82" width="2.2" height="2.2"/><rect x="360.3" y="935.7" width="2.2" height="2.2"/><rect x="365.39" y="944.77" width="2.2" height="2.2"/><rect x="362.5" y="919.51" width="2.2" height="2.2"/><rect x="378.25" y="933.6" width="2.2" height="2.2"/><rect x="395.13" y="953.46" width="2.2" height="2.2"/><rect x="405.03" y="962.06" width="2.2" height="2.2"/><rect x="402.96" y="976.9" width="2.2" height="2.2"/><rect x="383.37" y="939.85" width="2.2" height="2.2"/><rect x="419.08" y="928.01" width="2.2" height="2.2"/><rect x="403.45" y="961.1" width="2.2" height="2.2"/><rect x="362.63" y="973.96" width="2.2" height="2.2"/><rect x="413.52" y="960.03" width="2.2" height="2.2"/><rect x="404.03" y="972.42" width="2.2" height="2.2"/><rect x="368.36" y="953.09" width="2.2" height="2.2"/></g>
<g fill="#fff"><rect x="433.13" y="964.04" width="2.2" height="2.2"/><rect x="442.14" y="963.83" width="2.2" height="2.2"/><rect x="435.52" y="965.43" width="2.2" height="2.2"/><rect x="438.49" y="960.64" width="2.2" height="2.2"/><rect x="424.9" y="944.75" width="2.2" height="2.2"/><rect x="421.99" y="952.66" width="2.2" height="2.2"/><rect x="421.15" y="964.06" width="2.2" height="2.2"/><rect x="434.76" y="959.07" width="2.2" height="2.2"/><rect x="436.79" y="960.34" width="2.2" height="2.2"/><rect x="432.68" y="944.08" width="2.2" height="2.2"/><rect x="441.93" y="961.96" width="2.2" height="2.2"/><rect x="433.09" y="956.84" width="2.2" height="2.2"/><rect x="437.78" y="945.59" width="2.2" height="2.2"/><rect x="440.1" y="950.05" width="2.2" height="2.2"/><rect x="420.23" y="950.37" width="2.2" height="2.2"/><rect x="439.88" y="948.93" width="2.2" height="2.2"/><rect x="440.19" y="967.42" width="2.2" height="2.2"/><rect x="432.82" y="953.18" width="2.2" height="2.2"/><rect x="432.37" y="960.41" width="2.2" height="2.2"/><rect x="441.01" y="958.81" width="2.2" height="2.2"/><rect x="437.28" y="945.86" width="2.2" height="2.2"/><rect x="422.42" y="950.09" width="2.2" height="2.2"/><rect x="440.3" y="951.31" width="2.2" height="2.2"/><rect x="435.03" y="944.3" width="2.2" height="2.2"/><rect x="419.82" y="950.45" width="2.2" height="2.2"/><rect x="438.16" y="960.61" width="2.2" height="2.2"/><rect x="438.27" y="950.98" width="2.2" height="2.2"/><rect x="433.5" y="955.15" width="2.2" height="2.2"/><rect x="431.99" y="946.84" width="2.2" height="2.2"/><rect x="444.81" y="948.78" width="2.2" height="2.2"/><rect x="447.34" y="966.47" width="2.2" height="2.2"/><rect x="418.53" y="955.02" width="2.2" height="2.2"/><rect x="442.6" y="967.23" width="2.2" height="2.2"/><rect x="431.48" y="950.45" width="2.2" height="2.2"/><rect x="424.3" y="966.69" width="2.2" height="2.2"/><rect x="424.32" y="957.96" width="2.2" height="2.2"/><rect x="422.25" y="956.58" width="2.2" height="2.2"/><rect x="446.58" y="947.18" width="2.2" height="2.2"/><rect x="442.61" y="956.21" width="2.2" height="2.2"/><rect x="444.61" y="960.88" width="2.2" height="2.2"/></g>
<g fill="#fff"><rect x="298.78" y="912.75" width="1.8" height="1.8"/><rect x="301.83" y="893.55" width="1.8" height="1.8"/><rect x="296.04" y="903.82" width="1.8" height="1.8"/><rect x="301.41" y="899.64" width="1.8" height="1.8"/><rect x="297.69" y="900.57" width="1.8" height="1.8"/><rect x="299.79" y="911.49" width="1.8" height="1.8"/><rect x="296.02" y="909.52" width="1.8" height="1.8"/><rect x="306.07" y="895.64" width="1.8" height="1.8"/><rect x="307.12" y="908.69" width="1.8" height="1.8"/><rect x="306.82" y="899.38" width="1.8" height="1.8"/><rect x="300.47" y="901.64" width="1.8" height="1.8"/><rect x="307.99" y="905.96" width="1.8" height="1.8"/><rect x="300.33" y="902.42" width="1.8" height="1.8"/><rect x="299.3" y="894.06" width="1.8" height="1.8"/></g>
<g fill="#fff"><rect x="325.09" y="910.21" width="1.8" height="1.8"/><rect x="334.28" y="913.13" width="1.8" height="1.8"/><rect x="332.47" y="893.71" width="1.8" height="1.8"/><rect x="345.55" y="891.51" width="1.8" height="1.8"/><rect x="338.67" y="913.73" width="1.8" height="1.8"/><rect x="364.21" y="909.55" width="1.8" height="1.8"/><rect x="351.54" y="912.49" width="1.8" height="1.8"/><rect x="367.03" y="901.93" width="1.8" height="1.8"/><rect x="355.98" y="887.43" width="1.8" height="1.8"/><rect x="356.62" y="899.07" width="1.8" height="1.8"/><rect x="357.63" y="904.69" width="1.8" height="1.8"/><rect x="334.31" y="887.42" width="1.8" height="1.8"/><rect x="366.34" y="889.69" width="1.8" height="1.8"/><rect x="343.61" y="895.97" width="1.8" height="1.8"/><rect x="334.89" y="907.43" width="1.8" height="1.8"/><rect x="368.81" y="893.54" width="1.8" height="1.8"/><rect x="352.8" y="894.72" width="1.8" height="1.8"/><rect x="347.87" y="897.44" width="1.8" height="1.8"/></g>
<g fill="#86da7e"><rect x="307" y="854.59" width="1.8" height="1.8"/><rect x="307.25" y="866.5" width="1.8" height="1.8"/><rect x="308.98" y="855.52" width="1.8" height="1.8"/><rect x="311.44" y="867.94" width="1.8" height="1.8"/><rect x="308.7" y="854.23" width="1.8" height="1.8"/></g>
<path d="M148.3,1038.7C148.98,1035.97 153.32,1033.97 156.5,1031.8C159.68,1029.63 163.53,1026.83 167.4,1025.7C171.27,1024.57 176.28,1023.98 179.7,1025C183.12,1026.02 185.4,1028.83 187.9,1031.8C190.4,1034.77 193.8,1039.6 194.7,1042.8C195.6,1046 191.93,1048.73 193.3,1051C194.67,1053.27 199.48,1055.03 202.9,1056.4C206.32,1057.77 210.62,1057.6 213.8,1059.2C216.98,1060.8 220.17,1063.95 222,1066C223.83,1068.05 225.25,1069.45 224.8,1071.5C224.35,1073.55 222.27,1076.48 219.3,1078.3C216.33,1080.12 210.65,1081.95 207,1082.4C203.35,1082.85 200.82,1081.68 197.4,1081C193.98,1080.32 190.13,1079.1 186.5,1078.3C182.87,1077.5 179.02,1077.12 175.6,1076.2C172.18,1075.28 168.28,1074.73 166,1072.8C163.72,1070.87 163.27,1067.78 161.9,1064.6C160.53,1061.42 159.38,1056.43 157.8,1053.7C156.22,1050.97 153.98,1050.7 152.4,1048.2C150.82,1045.7 147.62,1041.43 148.3,1038.7Z" fill="#cc6a50" stroke="none" stroke-width="1"/>
<path d="M148.5,1037C148.83,1035 151.58,1032.67 153,1034C154.42,1035.33 156.5,1042.33 157,1045C157.5,1047.67 157,1049.83 156,1050C155,1050.17 152.25,1048.17 151,1046C149.75,1043.83 148.17,1039 148.5,1037Z" fill="#e0a050" stroke="none" stroke-width="1"/>
<g fill="#fff"><rect x="187.66" y="1063.18" width="2" height="2"/><rect x="190.5" y="1063.18" width="2" height="2"/><rect x="188.54" y="1065.36" width="2" height="2"/><rect x="194.82" y="1073.53" width="2" height="2"/><rect x="198.24" y="1067.37" width="2" height="2"/><rect x="191.86" y="1068.81" width="2" height="2"/><rect x="191.16" y="1066.4" width="2" height="2"/><rect x="185.18" y="1065.61" width="2" height="2"/><rect x="202.39" y="1063.64" width="2" height="2"/><rect x="193.56" y="1070.19" width="2" height="2"/><rect x="200.39" y="1064.81" width="2" height="2"/><rect x="189.15" y="1065.23" width="2" height="2"/><rect x="191.6" y="1067.8" width="2" height="2"/><rect x="202.12" y="1073.03" width="2" height="2"/><rect x="200.58" y="1062.28" width="2" height="2"/><rect x="184.61" y="1071.22" width="2" height="2"/><rect x="201.02" y="1068.15" width="2" height="2"/><rect x="195.16" y="1062" width="2" height="2"/><rect x="191.44" y="1074.05" width="2" height="2"/><rect x="199.69" y="1073.12" width="2" height="2"/><rect x="202.47" y="1065.23" width="2" height="2"/><rect x="186.07" y="1064.01" width="2" height="2"/></g>
<g fill="#fff"><rect x="183.31" y="1052.05" width="1.6" height="1.6"/><rect x="189.18" y="1053.04" width="1.6" height="1.6"/><rect x="185.06" y="1054.12" width="1.6" height="1.6"/><rect x="182.4" y="1048.79" width="1.6" height="1.6"/><rect x="176.55" y="1054.56" width="1.6" height="1.6"/><rect x="179.26" y="1058" width="1.6" height="1.6"/><rect x="185.04" y="1042.59" width="1.6" height="1.6"/><rect x="177.79" y="1041.29" width="1.6" height="1.6"/></g>
<path d="M300,1126C300.83,1124.5 303.83,1122.83 306,1122C308.17,1121.17 310.83,1120.67 313,1121C315.17,1121.33 317.33,1122.5 319,1124C320.67,1125.5 321.92,1128 323,1130C324.08,1132 325.83,1133.83 325.5,1136C325.17,1138.17 323.08,1141.33 321,1143C318.92,1144.67 315.67,1146 313,1146C310.33,1146 307.33,1144.67 305,1143C302.67,1141.33 299.67,1138 299,1136C298.33,1134 300.83,1132.67 301,1131C301.17,1129.33 299.17,1127.5 300,1126Z" fill="#cc6a50" stroke="none" stroke-width="1"/>
<rect x="300.5" y="1115.5" width="3" height="2.4" fill="#c8a050"/>
<rect x="306.3" y="1108.5" width="2" height="2" fill="#86da7e"/>
</g>
<circle cx="527.6" cy="864.7" r="9.3" fill="#8b7b60"/>
<text transform="translate(559.5,873.3)" x="-0" y="0" font-size="24.2" fill="#000" stroke="#000" stroke-width="1">Vasculature</text>
<circle cx="527.6" cy="896.9" r="9.3" fill="#cc6a50"/>
<text transform="translate(559.5,905.5)" x="-1.94" y="0" font-size="24.2" fill="#000" stroke="#000" stroke-width="1">Lymphoid</text>
<circle cx="527.6" cy="928.3" r="9.3" fill="#e8a060"/>
<text transform="translate(559.5,936.9)" x="-1.94" y="0" font-size="24.2" fill="#000" stroke="#000" stroke-width="1">Myeloid</text>
<circle cx="527.6" cy="959.3" r="9.3" fill="#86da7e"/>
<text transform="translate(559.5,967.9)" x="-0.48" y="0" font-size="24.2" fill="#000" stroke="#000" stroke-width="1">Tumor</text>
<circle cx="527.6" cy="990.7" r="9.3" fill="#e2e67c"/>
<text transform="translate(559.5,999.3)" x="-1.09" y="0" font-size="24.2" fill="#000" stroke="#000" stroke-width="1">OPC</text>
<line x1="122.3" y1="1135.3" x2="122.3" y2="1068" stroke="#000" stroke-width="2.2"/>
<line x1="121.2" y1="1134.5" x2="186" y2="1134.5" stroke="#000" stroke-width="2.2"/>
<polygon points="117.6,1070.5 127,1070.5 122.3,1061.5" fill="#000"/>
<polygon points="184.2,1129.8 184.2,1139.2 192.8,1134.5" fill="#000"/>
<text transform="translate(110.3,1098.8) rotate(-90) scale(1.1090,1)" x="-33.25" y="0" font-size="16.5" fill="#000" stroke="#000" stroke-width="0.5">UMAP_2</text>
<text transform="translate(121.6,1155.6) scale(1.0356,1)" x="-1.24" y="0" font-size="16.5" fill="#000" stroke="#000" stroke-width="0.5">UMAP_1</text>
<text transform="translate(351,1114.2) scale(1.0284,1)" x="-1.69" y="0" font-size="22.5" fill="#000" stroke="#000" stroke-width="0.5">18 males 19K cells</text>
<text transform="translate(351,1146.2) scale(1.0290,1)" x="-0.9" y="0" font-size="22.5" fill="#000" stroke="#000" stroke-width="0.5">8 females 24K cells</text>
<text transform="translate(749.8,730.7)" x="-1.1" y="0" font-size="31.5" fill="#000" font-weight="bold" stroke="#000" stroke-width="0.3">c</text>
<line x1="880.7" y1="704.8" x2="880.7" y2="1098.1" stroke="#000" stroke-width="2.2"/>
<line x1="879.6" y1="1097" x2="1111.2" y2="1097" stroke="#000" stroke-width="2.2"/>
<defs><linearGradient id="cbarC" x1="0" y1="0" x2="0" y2="1">
<stop offset="0" stop-color="#d7352b"/><stop offset="0.15" stop-color="#e8604a"/>
<stop offset="0.25" stop-color="#f08860"/><stop offset="0.30" stop-color="#f2b070"/>
<stop offset="0.36" stop-color="#f4d880"/><stop offset="0.45" stop-color="#f6f6a2"/>
<stop offset="0.56" stop-color="#eef8d8"/><stop offset="0.68" stop-color="#e0f2f8"/>
<stop offset="0.78" stop-color="#a8d0e6"/><stop offset="0.88" stop-color="#80a8d4"/>
<stop offset="1" stop-color="#4a70b4"/></linearGradient></defs>
<line x1="875.7" y1="721.2" x2="880.7" y2="721.2" stroke="#000" stroke-width="2"/>
<text transform="translate(870.6,728.3) scale(1.1200,1)" x="-71.6" y="0" font-size="20.4" fill="#000" stroke="#000" stroke-width="0.5">IGFBP7</text>
<circle cx="907.7" cy="721.2" r="11.2" fill="#e3342a"/>
<circle cx="951.7" cy="721.2" r="2.6" fill="#5d8fc6"/>
<circle cx="995.6" cy="721.2" r="2.4" fill="#5d8fc6"/>
<circle cx="1039.6" cy="721.2" r="4.2" fill="#7eaed6"/>
<circle cx="1084.2" cy="721.2" r="1.5" fill="#5d8fc6"/>
<line x1="875.7" y1="746.97" x2="880.7" y2="746.97" stroke="#000" stroke-width="2"/>
<text transform="translate(870.6,754.07) scale(1.1200,1)" x="-68.03" y="0" font-size="20.4" fill="#000" stroke="#000" stroke-width="0.5">SPARC</text>
<circle cx="907.7" cy="746.97" r="10.5" fill="#e3342a"/>
<circle cx="951.7" cy="746.97" r="2" fill="#5d8fc6"/>
<circle cx="995.6" cy="746.97" r="2.1" fill="#5d8fc6"/>
<circle cx="1039.6" cy="746.97" r="4" fill="#5d8fc6"/>
<circle cx="1084.2" cy="746.97" r="5.8" fill="#c8e0ee"/>
<line x1="875.7" y1="772.74" x2="880.7" y2="772.74" stroke="#000" stroke-width="2"/>
<text transform="translate(870.6,779.84) scale(1.1200,1)" x="-66.1" y="0" font-size="20.4" fill="#000" stroke="#000" stroke-width="0.5">CLDN5</text>
<circle cx="907.7" cy="772.74" r="7" fill="#e3342a"/>
<circle cx="951.7" cy="772.74" r="2" fill="#7eaed6"/>
<circle cx="995.6" cy="772.74" r="2" fill="#7eaed6"/>
<circle cx="1039.6" cy="772.74" r="2.8" fill="#7eaed6"/>
<circle cx="1084.2" cy="772.74" r="1.1" fill="#7eaed6"/>
<line x1="875.7" y1="798.51" x2="880.7" y2="798.51" stroke="#000" stroke-width="2"/>
<text transform="translate(870.6,805.61) scale(1.1200,1)" x="-51.2" y="0" font-size="20.4" fill="#000" stroke="#000" stroke-width="0.5">CD52</text>
<circle cx="907.7" cy="798.51" r="3" fill="#5d8fc6"/>
<circle cx="951.7" cy="798.51" r="10.8" fill="#e3342a"/>
<circle cx="995.6" cy="798.51" r="4" fill="#a7cce4"/>
<circle cx="1039.6" cy="798.51" r="1.7" fill="#5d8fc6"/>
<line x1="875.7" y1="824.28" x2="880.7" y2="824.28" stroke="#000" stroke-width="2"/>
<text transform="translate(870.6,831.38) scale(1.1200,1)" x="-51.31" y="0" font-size="20.4" fill="#000" stroke="#000" stroke-width="0.5">CCL5</text>
<circle cx="907.7" cy="824.28" r="1.6" fill="#5d8fc6"/>
<circle cx="951.7" cy="824.28" r="6" fill="#e3342a"/>
<circle cx="995.6" cy="824.28" r="2.4" fill="#7eaed6"/>
<circle cx="1039.6" cy="824.28" r="1" fill="#5d8fc6"/>
<circle cx="1084.2" cy="824.28" r="1.2" fill="#7eaed6"/>
<line x1="875.7" y1="850.05" x2="880.7" y2="850.05" stroke="#000" stroke-width="2"/>
<text transform="translate(870.6,857.15) scale(1.1200,1)" x="-53.55" y="0" font-size="20.4" fill="#000" stroke="#000" stroke-width="0.5">GNLY</text>
<circle cx="907.7" cy="850.05" r="2" fill="#5d8fc6"/>
<circle cx="951.7" cy="850.05" r="4.5" fill="#e3342a"/>
<circle cx="995.6" cy="850.05" r="2.5" fill="#7eaed6"/>
<circle cx="1039.6" cy="850.05" r="1.2" fill="#5d8fc6"/>
<line x1="875.7" y1="875.82" x2="880.7" y2="875.82" stroke="#000" stroke-width="2"/>
<text transform="translate(870.6,882.92) scale(1.1200,1)" x="-51.2" y="0" font-size="20.4" fill="#000" stroke="#000" stroke-width="0.5">SPP1</text>
<circle cx="907.7" cy="875.82" r="7" fill="#7eaed6"/>
<circle cx="951.7" cy="875.82" r="8.5" fill="#a7cce4"/>
<circle cx="995.6" cy="875.82" r="10.6" fill="#e3342a"/>
<circle cx="1039.6" cy="875.82" r="5.6" fill="#5d8fc6"/>
<circle cx="1084.2" cy="875.82" r="5.3" fill="#5d8fc6"/>
<line x1="875.7" y1="901.59" x2="880.7" y2="901.59" stroke="#000" stroke-width="2"/>
<text transform="translate(870.6,908.69) scale(1.1200,1)" x="-51.31" y="0" font-size="20.4" fill="#000" stroke="#000" stroke-width="0.5">CCL3</text>
<circle cx="907.7" cy="901.59" r="4.6" fill="#7eaed6"/>
<circle cx="951.7" cy="901.59" r="8.2" fill="#c8e0ee"/>
<circle cx="995.6" cy="901.59" r="9.8" fill="#e3342a"/>
<circle cx="1039.6" cy="901.59" r="3" fill="#5d8fc6"/>
<circle cx="1084.2" cy="901.59" r="2" fill="#5d8fc6"/>
<line x1="875.7" y1="927.36" x2="880.7" y2="927.36" stroke="#000" stroke-width="2"/>
<text transform="translate(870.6,934.46) scale(1.1200,1)" x="-55.79" y="0" font-size="20.4" fill="#000" stroke="#000" stroke-width="0.5">APOE</text>
<circle cx="907.7" cy="927.36" r="8.3" fill="#e4f1e6"/>
<circle cx="951.7" cy="927.36" r="7.7" fill="#6c9bd0"/>
<circle cx="995.6" cy="927.36" r="9.8" fill="#e2482e"/>
<circle cx="1039.6" cy="927.36" r="5.5" fill="#3f6db5"/>
<circle cx="1084.2" cy="927.36" r="7" fill="#a4c7e1"/>
<line x1="875.7" y1="953.13" x2="880.7" y2="953.13" stroke="#000" stroke-width="2"/>
<text transform="translate(870.6,960.23) scale(1.1200,1)" x="-39.27" y="0" font-size="20.4" fill="#000" stroke="#000" stroke-width="0.5">CLU</text>
<circle cx="907.7" cy="953.13" r="7.6" fill="#8ab5d9"/>
<circle cx="951.7" cy="953.13" r="8.3" fill="#80acd6"/>
<circle cx="995.6" cy="953.13" r="6.3" fill="#7ea9d3"/>
<circle cx="1039.6" cy="953.13" r="11.8" fill="#e3342a"/>
<circle cx="1084.2" cy="953.13" r="10.8" fill="#b6d4e8"/>
<line x1="875.7" y1="978.9" x2="880.7" y2="978.9" stroke="#000" stroke-width="2"/>
<text transform="translate(870.6,986) scale(1.1200,1)" x="-37.64" y="0" font-size="20.4" fill="#000" stroke="#000" stroke-width="0.5">AK1</text>
<circle cx="907.7" cy="978.9" r="7" fill="#a9cce3"/>
<circle cx="951.7" cy="978.9" r="5.1" fill="#5d8fc6"/>
<circle cx="995.6" cy="978.9" r="5" fill="#7eaed6"/>
<circle cx="1039.6" cy="978.9" r="11.2" fill="#e3342a"/>
<circle cx="1084.2" cy="978.9" r="4.6" fill="#5d8fc6"/>
<line x1="875.7" y1="1004.67" x2="880.7" y2="1004.67" stroke="#000" stroke-width="2"/>
<text transform="translate(870.6,1011.77) scale(1.1200,1)" x="-72.01" y="0" font-size="20.4" fill="#000" stroke="#000" stroke-width="0.5">C9orf24</text>
<circle cx="907.7" cy="1004.67" r="5.3" fill="#a7cce4"/>
<circle cx="951.7" cy="1004.67" r="4" fill="#5d8fc6"/>
<circle cx="995.6" cy="1004.67" r="4.5" fill="#7eaed6"/>
<circle cx="1039.6" cy="1004.67" r="9.8" fill="#e3342a"/>
<circle cx="1084.2" cy="1004.67" r="2.2" fill="#5d8fc6"/>
<line x1="875.7" y1="1030.44" x2="880.7" y2="1030.44" stroke="#000" stroke-width="2"/>
<text transform="translate(870.6,1037.54) scale(1.1200,1)" x="-56.81" y="0" font-size="20.4" fill="#000" stroke="#000" stroke-width="0.5">APOD</text>
<circle cx="907.7" cy="1030.44" r="4.6" fill="#ddeee8"/>
<circle cx="951.7" cy="1030.44" r="1.6" fill="#5d8fc6"/>
<circle cx="995.6" cy="1030.44" r="1.6" fill="#5d8fc6"/>
<circle cx="1039.6" cy="1030.44" r="1.3" fill="#5d8fc6"/>
<circle cx="1084.2" cy="1030.44" r="11.3" fill="#e3442e"/>
<line x1="875.7" y1="1056.21" x2="880.7" y2="1056.21" stroke="#000" stroke-width="2"/>
<text transform="translate(870.6,1063.31) scale(1.1200,1)" x="-77.32" y="0" font-size="20.4" fill="#000" stroke="#000" stroke-width="0.5">PTPRZ1</text>
<circle cx="907.7" cy="1056.21" r="1.6" fill="#5d8fc6"/>
<circle cx="951.7" cy="1056.21" r="1.2" fill="#7eaed6"/>
<circle cx="995.6" cy="1056.21" r="1.6" fill="#7eaed6"/>
<circle cx="1039.6" cy="1056.21" r="4.2" fill="#a7cce4"/>
<circle cx="1084.2" cy="1056.21" r="10.7" fill="#e3342a"/>
<line x1="875.7" y1="1081.98" x2="880.7" y2="1081.98" stroke="#000" stroke-width="2"/>
<text transform="translate(870.6,1089.08) scale(1.1200,1)" x="-54.57" y="0" font-size="20.4" fill="#000" stroke="#000" stroke-width="0.5">PMP2</text>
<circle cx="995.6" cy="1081.98" r="1.5" fill="#7eaed6"/>
<circle cx="1039.6" cy="1081.98" r="1.5" fill="#a7cce4"/>
<circle cx="1084.2" cy="1081.98" r="8.7" fill="#e3342a"/>
<line x1="907.7" y1="1097" x2="907.7" y2="1102" stroke="#000" stroke-width="2"/>
<text transform="translate(915.7,1113) rotate(-45) scale(1.1200,1)" x="-105.37" y="0" font-size="20.4" fill="#000" stroke="#000" stroke-width="0.5">Vasculature</text>
<line x1="951.7" y1="1097" x2="951.7" y2="1102" stroke="#000" stroke-width="2"/>
<text transform="translate(959.7,1113) rotate(-45) scale(1.1200,1)" x="-86.5" y="0" font-size="20.4" fill="#000" stroke="#000" stroke-width="0.5">Lymphoid</text>
<line x1="995.6" y1="1097" x2="995.6" y2="1102" stroke="#000" stroke-width="2"/>
<text transform="translate(1003.6,1113) rotate(-45) scale(1.1200,1)" x="-69.05" y="0" font-size="20.4" fill="#000" stroke="#000" stroke-width="0.5">Myeloid</text>
<line x1="1039.6" y1="1097" x2="1039.6" y2="1102" stroke="#000" stroke-width="2"/>
<text transform="translate(1047.6,1113) rotate(-45) scale(1.1200,1)" x="-57.94" y="0" font-size="20.4" fill="#000" stroke="#000" stroke-width="0.5">Tumor</text>
<line x1="1084.2" y1="1097" x2="1084.2" y2="1102" stroke="#000" stroke-width="2"/>
<text transform="translate(1092.2,1113) rotate(-45) scale(1.1200,1)" x="-43.45" y="0" font-size="20.4" fill="#000" stroke="#000" stroke-width="0.5">OPC</text>
<text transform="translate(1123.8,783.6) scale(1.1200,1)" x="-0" y="0" font-size="20.4" fill="#000" stroke="#000" stroke-width="0.5">Average Expression</text>
<rect x="1123.4" y="796.1" width="24.6" height="120.4" fill="url(#cbarC)"/>
<line x1="1123.6" y1="832.5" x2="1128.4" y2="832.5" stroke="#fff" stroke-width="1.6"/>
<line x1="1143" y1="832.5" x2="1147.7" y2="832.5" stroke="#fff" stroke-width="1.6"/>
<line x1="1123.6" y1="877.8" x2="1128.4" y2="877.8" stroke="#fff" stroke-width="1.6"/>
<line x1="1143" y1="877.8" x2="1147.7" y2="877.8" stroke="#fff" stroke-width="1.6"/>
<text transform="translate(1160.2,839.4) scale(1.1200,1)" x="-1.53" y="0" font-size="20.4" fill="#000" stroke="#000" stroke-width="0.5">1</text>
<text transform="translate(1160.2,885) scale(1.1200,1)" x="-0.71" y="0" font-size="20.4" fill="#000" stroke="#000" stroke-width="0.5">0</text>
<text transform="translate(1123.8,956.8) scale(1.1200,1)" x="-1.63" y="0" font-size="20.4" fill="#000" stroke="#000" stroke-width="0.5">Percent Expressed</text>
<circle cx="1136.3" cy="982" r="3.8" fill="#000"/>
<text transform="translate(1160.2,989.1) scale(1.1200,1)" x="-1.02" y="0" font-size="20.4" fill="#000" stroke="#000" stroke-width="0.5">25</text>
<circle cx="1136.3" cy="1006.5" r="6.9" fill="#000"/>
<text transform="translate(1160.2,1013.6) scale(1.1200,1)" x="-0.82" y="0" font-size="20.4" fill="#000" stroke="#000" stroke-width="0.5">50</text>
<circle cx="1136.3" cy="1031" r="9.3" fill="#000"/>
<text transform="translate(1160.2,1038.1) scale(1.1200,1)" x="-1.02" y="0" font-size="20.4" fill="#000" stroke="#000" stroke-width="0.5">75</text>
<text transform="translate(1396.3,730)" x="-1.3" y="0" font-size="32.5" fill="#000" font-weight="bold" stroke="#000" stroke-width="0.3">d</text>
<text transform="translate(1496.6,726.7) scale(1.0800,1)" x="-48.12" y="0" font-size="19.6" fill="#000" stroke="#000" stroke-width="0.5">EBF2</text>
<circle cx="1531.3" cy="719.8" r="10.5" fill="#f0281e"/>
<circle cx="1583.3" cy="719.8" r="5.9" fill="#1e1ef0"/>
<circle cx="1634.7" cy="719.8" r="6.4" fill="#2d2df0"/>
<circle cx="1686.2" cy="719.8" r="6.4" fill="#3939f0"/>
<circle cx="1738.2" cy="719.8" r="6.3" fill="#2a2af0"/>
<text transform="translate(1496.6,752.17) scale(1.0800,1)" x="-62.23" y="0" font-size="19.6" fill="#000" stroke="#000" stroke-width="0.5">FOXF1</text>
<circle cx="1531.3" cy="745.27" r="10" fill="#f0281e"/>
<circle cx="1583.3" cy="745.27" r="5.6" fill="#2121f0"/>
<circle cx="1634.7" cy="745.27" r="5.4" fill="#1b1bf0"/>
<circle cx="1686.2" cy="745.27" r="6" fill="#3636f0"/>
<circle cx="1738.2" cy="745.27" r="6" fill="#3c3cf0"/>
<text transform="translate(1496.6,777.64) scale(1.0800,1)" x="-62.33" y="0" font-size="19.6" fill="#000" stroke="#000" stroke-width="0.5">SOX17</text>
<circle cx="1531.3" cy="770.74" r="9.8" fill="#f0281e"/>
<circle cx="1583.3" cy="770.74" r="3.4" fill="#1e1ef0"/>
<circle cx="1634.7" cy="770.74" r="3.4" fill="#1212f0"/>
<circle cx="1686.2" cy="770.74" r="3.6" fill="#3f3ff0"/>
<text transform="translate(1496.6,803.11) scale(1.0800,1)" x="-63.5" y="0" font-size="19.6" fill="#000" stroke="#000" stroke-width="0.5">FOXP3</text>
<circle cx="1531.3" cy="796.21" r="6" fill="#2d2df0"/>
<circle cx="1583.3" cy="796.21" r="10.5" fill="#f0281e"/>
<circle cx="1634.7" cy="796.21" r="7" fill="#5252f0"/>
<circle cx="1686.2" cy="796.21" r="5" fill="#2121f0"/>
<circle cx="1738.2" cy="796.21" r="4.8" fill="#1212f0"/>
<text transform="translate(1496.6,828.58) scale(1.0800,1)" x="-59" y="0" font-size="19.6" fill="#000" stroke="#000" stroke-width="0.5">TBX21</text>
<circle cx="1531.3" cy="821.68" r="4" fill="#2a2af0"/>
<circle cx="1583.3" cy="821.68" r="10" fill="#f0281e"/>
<circle cx="1634.7" cy="821.68" r="4" fill="#5a5af0"/>
<circle cx="1686.2" cy="821.68" r="3.4" fill="#0707f0"/>
<text transform="translate(1496.6,854.05) scale(1.0800,1)" x="-69.87" y="0" font-size="19.6" fill="#000" stroke="#000" stroke-width="0.5">ZNF831</text>
<circle cx="1531.3" cy="847.15" r="9" fill="#4848f0"/>
<circle cx="1583.3" cy="847.15" r="11" fill="#f0281e"/>
<circle cx="1634.7" cy="847.15" r="8.3" fill="#3f3ff0"/>
<circle cx="1686.2" cy="847.15" r="6" fill="#0c0cf0"/>
<circle cx="1738.2" cy="847.15" r="6" fill="#1212f0"/>
<text transform="translate(1496.6,879.52) scale(1.0800,1)" x="-64.97" y="0" font-size="19.6" fill="#000" stroke="#000" stroke-width="0.5">CEBPA</text>
<circle cx="1531.3" cy="872.62" r="7.6" fill="#4b4bf0"/>
<circle cx="1583.3" cy="872.62" r="7" fill="#3939f0"/>
<circle cx="1634.7" cy="872.62" r="9.6" fill="#f0281e"/>
<circle cx="1686.2" cy="872.62" r="6" fill="#0a0af0"/>
<circle cx="1738.2" cy="872.62" r="6" fill="#1919f0"/>
<text transform="translate(1496.6,904.99) scale(1.0800,1)" x="-52.53" y="0" font-size="19.6" fill="#000" stroke="#000" stroke-width="0.5">EGR3</text>
<circle cx="1531.3" cy="898.09" r="9" fill="#3c3cf0"/>
<circle cx="1583.3" cy="898.09" r="8.5" fill="#4343f0"/>
<circle cx="1634.7" cy="898.09" r="10.5" fill="#f0281e"/>
<circle cx="1686.2" cy="898.09" r="7" fill="#0404f0"/>
<circle cx="1738.2" cy="898.09" r="8.6" fill="#3f3ff0"/>
<text transform="translate(1496.6,930.46) scale(1.0800,1)" x="-40.67" y="0" font-size="19.6" fill="#000" stroke="#000" stroke-width="0.5">MAF</text>
<circle cx="1531.3" cy="923.56" r="7" fill="#5252f0"/>
<circle cx="1583.3" cy="923.56" r="7" fill="#5757f0"/>
<circle cx="1634.7" cy="923.56" r="10.5" fill="#f0281e"/>
<circle cx="1686.2" cy="923.56" r="4.5" fill="#0909f0"/>
<circle cx="1738.2" cy="923.56" r="4" fill="#0c0cf0"/>
<text transform="translate(1496.6,955.93) scale(1.0800,1)" x="-47.82" y="0" font-size="19.6" fill="#000" stroke="#000" stroke-width="0.5">PAX3</text>
<circle cx="1531.3" cy="949.03" r="4.6" fill="#5454f0"/>
<circle cx="1583.3" cy="949.03" r="3.6" fill="#0f0ff0"/>
<circle cx="1634.7" cy="949.03" r="4" fill="#1515f0"/>
<circle cx="1686.2" cy="949.03" r="7" fill="#ee2a22"/>
<circle cx="1738.2" cy="949.03" r="4" fill="#3030f0"/>
<text transform="translate(1496.6,981.4) scale(1.0800,1)" x="-64.58" y="0" font-size="19.6" fill="#000" stroke="#000" stroke-width="0.5">PRDX5</text>
<circle cx="1531.3" cy="974.5" r="6" fill="#3434f0"/>
<circle cx="1583.3" cy="974.5" r="4" fill="#0606f0"/>
<circle cx="1634.7" cy="974.5" r="5" fill="#3f3ff0"/>
<circle cx="1686.2" cy="974.5" r="9.6" fill="#f0281e"/>
<circle cx="1738.2" cy="974.5" r="4.6" fill="#2d2df0"/>
<text transform="translate(1496.6,1006.87) scale(1.0800,1)" x="-49.2" y="0" font-size="19.6" fill="#000" stroke="#000" stroke-width="0.5">RFX2</text>
<circle cx="1531.3" cy="999.97" r="6" fill="#4848f0"/>
<circle cx="1583.3" cy="999.97" r="4" fill="#1b1bf0"/>
<circle cx="1634.7" cy="999.97" r="5" fill="#3131f0"/>
<circle cx="1686.2" cy="999.97" r="10.5" fill="#f0281e"/>
<circle cx="1738.2" cy="999.97" r="3.6" fill="#0f0ff0"/>
<text transform="translate(1496.6,1032.34) scale(1.0800,1)" x="-39.98" y="0" font-size="19.6" fill="#000" stroke="#000" stroke-width="0.5">ARX</text>
<circle cx="1531.3" cy="1025.44" r="8.2" fill="#3131f0"/>
<circle cx="1583.3" cy="1025.44" r="7.5" fill="#2d2df0"/>
<circle cx="1634.7" cy="1025.44" r="5.6" fill="#1818f0"/>
<circle cx="1686.2" cy="1025.44" r="6.6" fill="#2d2df0"/>
<circle cx="1738.2" cy="1025.44" r="11.5" fill="#f0281e"/>
<text transform="translate(1496.6,1057.81) scale(1.0800,1)" x="-56.84" y="0" font-size="19.6" fill="#000" stroke="#000" stroke-width="0.5">KLF17</text>
<circle cx="1531.3" cy="1050.91" r="9" fill="#2828f0"/>
<circle cx="1583.3" cy="1050.91" r="8.6" fill="#3333f0"/>
<circle cx="1634.7" cy="1050.91" r="7.5" fill="#1919f0"/>
<circle cx="1686.2" cy="1050.91" r="7.6" fill="#2d2df0"/>
<circle cx="1738.2" cy="1050.91" r="11.5" fill="#f0281e"/>
<text transform="translate(1496.6,1083.28) scale(1.0800,1)" x="-56.84" y="0" font-size="19.6" fill="#000" stroke="#000" stroke-width="0.5">OLIG2</text>
<circle cx="1531.3" cy="1076.38" r="9" fill="#3030f0"/>
<circle cx="1583.3" cy="1076.38" r="5.6" fill="#1919f0"/>
<circle cx="1634.7" cy="1076.38" r="7" fill="#2424f0"/>
<circle cx="1686.2" cy="1076.38" r="7" fill="#3333f0"/>
<circle cx="1738.2" cy="1076.38" r="12" fill="#f0281e"/>
<text transform="translate(1540.3,1103) rotate(-45) scale(1.0800,1)" x="-101.23" y="0" font-size="19.6" fill="#000" stroke="#000" stroke-width="0.5">Vasculature</text>
<text transform="translate(1592.3,1103) rotate(-45) scale(1.0800,1)" x="-83.1" y="0" font-size="19.6" fill="#000" stroke="#000" stroke-width="0.5">Lymphoid</text>
<text transform="translate(1643.7,1103) rotate(-45) scale(1.0800,1)" x="-66.35" y="0" font-size="19.6" fill="#000" stroke="#000" stroke-width="0.5">Myeloid</text>
<text transform="translate(1695.2,1103) rotate(-45) scale(1.0800,1)" x="-55.66" y="0" font-size="19.6" fill="#000" stroke="#000" stroke-width="0.5">Tumor</text>
<text transform="translate(1747.2,1103) rotate(-45) scale(1.0800,1)" x="-41.75" y="0" font-size="19.6" fill="#000" stroke="#000" stroke-width="0.5">OPC</text>
<defs><linearGradient id="cbarD" x1="0" y1="0" x2="0" y2="1">
<stop offset="0" stop-color="#ff1a10"/><stop offset="0.2" stop-color="#f84848"/>
<stop offset="0.3" stop-color="#f07878"/><stop offset="0.4" stop-color="#f0b0b0"/>
<stop offset="0.5" stop-color="#fff0f0"/><stop offset="0.53" stop-color="#ffffff"/>
<stop offset="0.6" stop-color="#d8d8f8"/><stop offset="0.7" stop-color="#9a9af0"/>
<stop offset="0.8" stop-color="#6868f4"/><stop offset="0.9" stop-color="#2a10ff"/>
<stop offset="1" stop-color="#1000ff"/></linearGradient></defs>
<text transform="translate(1781.4,778.6) scale(1.0922,1)" x="-0.88" y="0" font-size="19.6" fill="#000" stroke="#000" stroke-width="0.5">Scaled Activity</text>
<rect x="1781.3" y="792.1" width="23.4" height="119.2" fill="url(#cbarD)"/>
<line x1="1781.2" y1="828.3" x2="1786" y2="828.3" stroke="#fff" stroke-width="1.6"/>
<line x1="1800.2" y1="828.3" x2="1805" y2="828.3" stroke="#fff" stroke-width="1.6"/>
<line x1="1781.2" y1="874.3" x2="1786" y2="874.3" stroke="#fff" stroke-width="1.6"/>
<line x1="1800.2" y1="874.3" x2="1805" y2="874.3" stroke="#fff" stroke-width="1.6"/>
<text transform="translate(1817,835.3) scale(1.0800,1)" x="-1.47" y="0" font-size="19.6" fill="#000" stroke="#000" stroke-width="0.5">1</text>
<text transform="translate(1817,880.9) scale(1.0800,1)" x="-0.69" y="0" font-size="19.6" fill="#000" stroke="#000" stroke-width="0.5">0</text>
<text transform="translate(1781.4,950.5) scale(1.0844,1)" x="-0" y="0" font-size="19.6" fill="#000" stroke="#000" stroke-width="0.5">Active fraction</text>
<circle cx="1792.9" cy="976.5" r="7.3" fill="#000"/>
<text transform="translate(1815.7,983.4) scale(1.0800,1)" x="-0.69" y="0" font-size="19.6" fill="#000" stroke="#000" stroke-width="0.5">0.25</text>
<circle cx="1792.9" cy="1000.3" r="9.8" fill="#000"/>
<text transform="translate(1815.7,1007.2) scale(1.0800,1)" x="-0.69" y="0" font-size="19.6" fill="#000" stroke="#000" stroke-width="0.5">0.50</text>
<circle cx="1792.9" cy="1024.4" r="11.4" fill="#000"/>
<text transform="translate(1815.7,1031.3) scale(1.0800,1)" x="-0.69" y="0" font-size="19.6" fill="#000" stroke="#000" stroke-width="0.5">0.75</text>
<text transform="translate(4.7,1235.5)" x="-1.1" y="0" font-size="31.5" fill="#000" font-weight="bold" stroke="#000" stroke-width="0.3">e</text>
<text transform="translate(406.5,1232) scale(1.0829,1)" x="-1.82" y="0" font-size="28" fill="#000" font-weight="bold" stroke="#000" stroke-width="0.3">inferCNV</text>
<defs>
<filter id="streak" filterUnits="userSpaceOnUse" x="50" y="1240" width="840" height="830" color-interpolation-filters="sRGB">
<feTurbulence type="fractalNoise" baseFrequency="0.045 0.55" numOctaves="2" seed="11" result="n"/>
<feColorMatrix in="n" type="matrix" values="0 0 0 0 0  0 0 0 0 0  0 0 0 0 0  3.2 0 0 0 -0.95" result="m"/>
<feComposite in="SourceGraphic" in2="m" operator="in" result="c"/>
<feGaussianBlur in="c" stdDeviation="0.9 0.2"/>
</filter>
<filter id="speckTum" filterUnits="userSpaceOnUse" x="57.9" y="1530.9" width="825.1" height="331.4" color-interpolation-filters="sRGB">
<feTurbulence type="fractalNoise" baseFrequency="0.06 0.7" numOctaves="2" seed="4" result="n"/>
<feColorMatrix in="n" type="matrix" values="0 0 0 0 0.72  0 0 0 0 0.2  0 0 0 0 0.2  1.3 0 0 0 -0.74" result="r"/>
<feColorMatrix in="n" type="matrix" values="0 0 0 0 0.3  0 0 0 0 0.35  0 0 0 0 0.85  0 1.3 0 0 -0.74" result="b"/>
<feColorMatrix in="n" type="matrix" values="0 0 0 0 0.66  0 0 0 0 0.1  0 0 0 0 0.1  0 0 6 0 -4.3" result="r2"/>
<feMerge><feMergeNode in="r"/><feMergeNode in="b"/><feMergeNode in="r2"/></feMerge>
</filter>
<filter id="speckMye" filterUnits="userSpaceOnUse" x="57.9" y="1862.3" width="825.1" height="198.9" color-interpolation-filters="sRGB">
<feTurbulence type="fractalNoise" baseFrequency="0.06 0.7" numOctaves="2" seed="9" result="n"/>
<feColorMatrix in="n" type="matrix" values="0 0 0 0 0.72  0 0 0 0 0.2  0 0 0 0 0.2  1.4 0 0 0 -0.84" result="r"/>
<feColorMatrix in="n" type="matrix" values="0 0 0 0 0.3  0 0 0 0 0.35  0 0 0 0 0.85  0 1.4 0 0 -0.84" result="b"/>
<feMerge><feMergeNode in="r"/><feMergeNode in="b"/></feMerge>
</filter>
<filter id="speckRef" filterUnits="userSpaceOnUse" x="57.9" y="1249.3" width="825.1" height="259.7" color-interpolation-filters="sRGB">
<feTurbulence type="fractalNoise" baseFrequency="0.07 0.8" numOctaves="2" seed="8" result="n"/>
<feColorMatrix in="n" type="matrix" values="0 0 0 0 0.68  0 0 0 0 0.16  0 0 0 0 0.18  4.5 0 0 0 -2.72" result="r"/>
<feColorMatrix in="n" type="matrix" values="0 0 0 0 0.3  0 0 0 0 0.36  0 0 0 0 0.84  0 4.5 0 0 -2.72" result="b"/>
<feMerge><feMergeNode in="r"/><feMergeNode in="b"/></feMerge>
</filter>
</defs>
<rect x="57.9" y="1249.3" width="825.1" height="259.7" fill="#fff" filter="url(#speckRef)"/>
<rect x="57.9" y="1530.9" width="825.1" height="331.4" fill="#fff" filter="url(#speckTum)"/>
<rect x="57.9" y="1862.3" width="825.1" height="198.9" fill="#fff" filter="url(#speckMye)"/>
<g filter="url(#streak)"><rect x="295" y="1531" width="38" height="7.5" fill="#9e0e0e" fill-opacity="0.8"/><rect x="359" y="1531" width="62" height="7.5" fill="#9e0e0e" fill-opacity="0.85"/><rect x="343" y="1531" width="12" height="22" fill="#1010c2" fill-opacity="0.8"/><rect x="800" y="1531" width="32" height="7.5" fill="#1010c2" fill-opacity="0.8"/><rect x="862" y="1531" width="21" height="7.5" fill="#2a32c4" fill-opacity="0.5"/><rect x="66" y="1531" width="6" height="22" fill="#2a32c4" fill-opacity="0.5"/><rect x="98" y="1531" width="10" height="22" fill="#2a32c4" fill-opacity="0.4"/><rect x="140" y="1531" width="10" height="9" fill="#a81616" fill-opacity="0.5"/><rect x="260" y="1531" width="4" height="9" fill="#a81616" fill-opacity="0.6"/><rect x="740" y="1531" width="6" height="22" fill="#2a32c4" fill-opacity="0.4"/><rect x="780" y="1538.5" width="53" height="14.5" fill="#2a32c4" fill-opacity="0.35"/><rect x="186" y="1531" width="10" height="9" fill="#2a32c4" fill-opacity="0.5"/><rect x="410" y="1540" width="10" height="13" fill="#a81616" fill-opacity="0.35"/><rect x="560" y="1531" width="6" height="9" fill="#a81616" fill-opacity="0.5"/><rect x="58" y="1553" width="59" height="309" fill="#a81616" fill-opacity="0.06"/><rect x="67" y="1567" width="8" height="295" fill="#2a32c4" fill-opacity="0.55"/><rect x="117.7" y="1553" width="35.8" height="84" fill="#9e0e0e" fill-opacity="0.88"/><rect x="117.7" y="1637" width="13.6" height="158" fill="#9e0e0e" fill-opacity="0.95"/><rect x="138" y="1637" width="15.5" height="158" fill="#9e0e0e" fill-opacity="0.93"/><rect x="131.3" y="1637" width="6.7" height="158" fill="#a81616" fill-opacity="0.05"/><rect x="117.7" y="1820" width="13.3" height="42" fill="#9e0e0e" fill-opacity="0.65"/><rect x="138" y="1820" width="15.5" height="42" fill="#9e0e0e" fill-opacity="0.7"/><rect x="117.7" y="1795" width="35.8" height="25" fill="#a81616" fill-opacity="0.3"/><rect x="155" y="1553" width="57" height="309" fill="#2a32c4" fill-opacity="0.04"/><rect x="170" y="1553" width="10" height="309" fill="#2a32c4" fill-opacity="0.4"/><rect x="183" y="1553" width="9" height="309" fill="#2a32c4" fill-opacity="0.35"/><rect x="213" y="1553" width="9" height="309" fill="#2a32c4" fill-opacity="0.5"/><rect x="230" y="1553" width="32" height="242" fill="#a81616" fill-opacity="0.24"/><rect x="230" y="1795" width="32" height="67" fill="#a81616" fill-opacity="0.05"/><rect x="262" y="1553" width="33" height="309" fill="#a81616" fill-opacity="0.03"/><rect x="298" y="1553" width="8" height="309" fill="#2a32c4" fill-opacity="0.3"/><rect x="325" y="1553" width="10" height="309" fill="#2a32c4" fill-opacity="0.35"/><rect x="306" y="1553" width="19" height="309" fill="#a81616" fill-opacity="0.04"/><rect x="342.5" y="1553" width="13.5" height="244" fill="#1010c2" fill-opacity="0.96"/><rect x="342.5" y="1797" width="9.5" height="65" fill="#1010c2" fill-opacity="0.55"/><rect x="357" y="1553" width="23" height="244" fill="#a81616" fill-opacity="0.18"/><rect x="365" y="1797" width="14" height="65" fill="#2a32c4" fill-opacity="0.55"/><rect x="380" y="1553" width="41.5" height="309" fill="#a81616" fill-opacity="0.06"/><rect x="380" y="1633" width="41.5" height="2.5" fill="#9e0e0e" fill-opacity="0.8"/><rect x="421.5" y="1553" width="33" height="84" fill="#a81616" fill-opacity="0.5"/><rect x="421.5" y="1637" width="33" height="158" fill="#9e0e0e" fill-opacity="0.88"/><rect x="421.5" y="1795" width="33.5" height="67" fill="#a81616" fill-opacity="0.03"/><rect x="456" y="1553" width="30" height="82" fill="#a81616" fill-opacity="0.3"/><rect x="456" y="1635" width="30" height="227" fill="#a81616" fill-opacity="0.5"/><rect x="462" y="1635" width="8" height="227" fill="#9e0e0e" fill-opacity="0.3"/><rect x="478" y="1635" width="8" height="227" fill="#9e0e0e" fill-opacity="0.3"/><rect x="486.5" y="1553" width="32.5" height="309" fill="#a81616" fill-opacity="0.04"/><rect x="519.5" y="1553" width="4.5" height="309" fill="#2a32c4" fill-opacity="0.38"/><rect x="547" y="1553" width="5" height="309" fill="#2a32c4" fill-opacity="0.35"/><rect x="524" y="1553" width="46" height="309" fill="#a81616" fill-opacity="0.03"/><rect x="572.5" y="1553" width="4.5" height="309" fill="#2a32c4" fill-opacity="0.4"/><rect x="586" y="1589" width="7" height="123" fill="#2a32c4" fill-opacity="0.6"/><rect x="586" y="1712" width="7" height="150" fill="#2a32c4" fill-opacity="0.3"/><rect x="617" y="1553" width="15.6" height="309" fill="#2a32c4" fill-opacity="0.45"/><rect x="637" y="1553" width="5" height="309" fill="#2a32c4" fill-opacity="0.35"/><rect x="646.4" y="1635" width="15.1" height="227" fill="#9e0e0e" fill-opacity="0.82"/><rect x="646.4" y="1590" width="15.1" height="45" fill="#a81616" fill-opacity="0.4"/><rect x="662.3" y="1553" width="24.7" height="309" fill="#2a32c4" fill-opacity="0.03"/><rect x="687" y="1553" width="35" height="309" fill="#2a32c4" fill-opacity="0.06"/><rect x="712" y="1635" width="8" height="145" fill="#9e0e0e" fill-opacity="0.7"/><rect x="737" y="1553" width="9" height="309" fill="#2a32c4" fill-opacity="0.55"/><rect x="722" y="1553" width="50" height="309" fill="#2a32c4" fill-opacity="0.03"/><rect x="783.4" y="1553" width="13.6" height="309" fill="#2a32c4" fill-opacity="0.3"/><rect x="796.7" y="1555" width="34.6" height="45" fill="#2a32c4" fill-opacity="0.5"/><rect x="796.7" y="1600" width="34.6" height="196" fill="#2a32c4" fill-opacity="0.75"/><rect x="796.7" y="1796" width="34.6" height="66" fill="#2a32c4" fill-opacity="0.35"/><rect x="833.3" y="1553" width="21.2" height="309" fill="#a81616" fill-opacity="0.07"/><rect x="855" y="1553" width="8.8" height="309" fill="#9e0e0e" fill-opacity="0.85"/><rect x="863.8" y="1553" width="19.2" height="309" fill="#2a32c4" fill-opacity="0.25"/><rect x="58" y="1891" width="825" height="3.5" fill="#2a32c4" fill-opacity="0.35"/><rect x="289" y="1890.8" width="132" height="3.7" fill="#9e0e0e" fill-opacity="0.9"/><rect x="342" y="1889" width="12" height="6" fill="#1010c2" fill-opacity="0.9"/><rect x="785" y="1890.5" width="47" height="4.5" fill="#1010c2" fill-opacity="0.9"/><rect x="866" y="1890.5" width="16" height="4" fill="#2a32c4" fill-opacity="0.7"/><rect x="66" y="1890" width="7" height="5" fill="#2a32c4" fill-opacity="0.7"/><rect x="108" y="1890" width="8" height="5" fill="#2a32c4" fill-opacity="0.7"/><rect x="90" y="1891" width="8" height="3" fill="#9e0e0e" fill-opacity="0.7"/><rect x="67" y="1862" width="5" height="199" fill="#2a32c4" fill-opacity="0.25"/><rect x="66" y="1934" width="4" height="45" fill="#9e0e0e" fill-opacity="0.6"/><rect x="113" y="1862" width="5" height="29" fill="#2a32c4" fill-opacity="0.6"/><rect x="118" y="1862" width="12" height="38" fill="#a81616" fill-opacity="0.4"/><rect x="110" y="1997" width="7.5" height="31" fill="#9e0e0e" fill-opacity="0.92"/><rect x="110" y="2035" width="7.5" height="26" fill="#9e0e0e" fill-opacity="0.92"/><rect x="110" y="1900" width="7.5" height="90" fill="#a81616" fill-opacity="0.35"/><rect x="121" y="1940" width="12" height="60" fill="#a81616" fill-opacity="0.25"/><rect x="272.4" y="1900" width="10.2" height="83" fill="#a81616" fill-opacity="0.45"/><rect x="272.4" y="1983" width="10.2" height="48" fill="#9e0e0e" fill-opacity="0.8"/><rect x="296" y="1900" width="6" height="161" fill="#2a32c4" fill-opacity="0.28"/><rect x="345.8" y="1863.5" width="10.2" height="26.5" fill="#9e0e0e" fill-opacity="0.95"/><rect x="345.8" y="1947" width="10.2" height="39" fill="#9e0e0e" fill-opacity="0.92"/><rect x="345.8" y="2021" width="10.2" height="13" fill="#9e0e0e" fill-opacity="0.9"/><rect x="345.8" y="2040" width="10.2" height="16" fill="#9e0e0e" fill-opacity="0.65"/><rect x="343" y="1896" width="9" height="49" fill="#2a32c4" fill-opacity="0.35"/><rect x="343" y="1988" width="9" height="32" fill="#2a32c4" fill-opacity="0.3"/><rect x="359" y="1862" width="20" height="28" fill="#a81616" fill-opacity="0.4"/><rect x="371" y="1900" width="9" height="150" fill="#a81616" fill-opacity="0.35"/><rect x="186" y="1900" width="8" height="161" fill="#2a32c4" fill-opacity="0.04"/><rect x="214" y="1862" width="8" height="199" fill="#2a32c4" fill-opacity="0.05"/><rect x="465" y="1985" width="7" height="76" fill="#a81616" fill-opacity="0.35"/><rect x="476" y="1862" width="10" height="18" fill="#2a32c4" fill-opacity="0.3"/><rect x="535.5" y="1950" width="4.5" height="30" fill="#9e0e0e" fill-opacity="0.55"/><rect x="547" y="1980" width="7" height="80" fill="#2a32c4" fill-opacity="0.45"/><rect x="563" y="1870" width="5" height="190" fill="#2a32c4" fill-opacity="0.4"/><rect x="593" y="1985" width="9.5" height="35" fill="#9e0e0e" fill-opacity="0.55"/><rect x="593" y="2020" width="9.5" height="41" fill="#a81616" fill-opacity="0.3"/><rect x="623" y="1863" width="8" height="32" fill="#9e0e0e" fill-opacity="0.7"/><rect x="648.7" y="1862" width="11.6" height="38" fill="#9e0e0e" fill-opacity="0.7"/><rect x="688" y="1862" width="8" height="199" fill="#2a32c4" fill-opacity="0.5"/><rect x="704" y="1925" width="7" height="10" fill="#9e0e0e" fill-opacity="0.9"/><rect x="736.6" y="1900" width="6.9" height="100" fill="#a81616" fill-opacity="0.45"/><rect x="736.6" y="1915" width="6.9" height="20" fill="#9e0e0e" fill-opacity="0.7"/><rect x="736.6" y="2020" width="6.9" height="16" fill="#9e0e0e" fill-opacity="0.9"/><rect x="784" y="1862" width="49" height="28" fill="#2a32c4" fill-opacity="0.35"/><rect x="784" y="1900" width="49" height="161" fill="#2a32c4" fill-opacity="0.04"/><rect x="815" y="1895" width="9" height="85" fill="#9e0e0e" fill-opacity="0.55"/><rect x="834" y="1862" width="20" height="199" fill="#a81616" fill-opacity="0.05"/><rect x="866" y="1862" width="17" height="199" fill="#2a32c4" fill-opacity="0.04"/><rect x="343" y="1250" width="12" height="95" fill="#2a32c4" fill-opacity="0.4"/><rect x="343" y="1345" width="13" height="30" fill="#9e0e0e" fill-opacity="0.85"/><rect x="790" y="1250" width="43" height="8" fill="#2a32c4" fill-opacity="0.4"/><rect x="805" y="1262" width="25" height="13" fill="#2a32c4" fill-opacity="0.25"/><rect x="800" y="1345" width="15" height="17" fill="#9e0e0e" fill-opacity="0.5"/><rect x="775" y="1390" width="15" height="12" fill="#9e0e0e" fill-opacity="0.5"/><rect x="58" y="1250" width="825" height="12" fill="#a81616" fill-opacity="0.04"/></g>
<g><rect x="295" y="1531" width="38" height="7.5" fill="#9e0e0e" fill-opacity="0.36"/><rect x="359" y="1531" width="62" height="7.5" fill="#9e0e0e" fill-opacity="0.38"/><rect x="343" y="1531" width="12" height="22" fill="#1010c2" fill-opacity="0.36"/><rect x="800" y="1531" width="32" height="7.5" fill="#1010c2" fill-opacity="0.36"/><rect x="117.7" y="1553" width="35.8" height="84" fill="#9e0e0e" fill-opacity="0.4"/><rect x="117.7" y="1637" width="13.6" height="158" fill="#9e0e0e" fill-opacity="0.43"/><rect x="138" y="1637" width="15.5" height="158" fill="#9e0e0e" fill-opacity="0.42"/><rect x="138" y="1820" width="15.5" height="42" fill="#9e0e0e" fill-opacity="0.32"/><rect x="342.5" y="1553" width="13.5" height="244" fill="#1010c2" fill-opacity="0.43"/><rect x="380" y="1633" width="41.5" height="2.5" fill="#9e0e0e" fill-opacity="0.36"/><rect x="421.5" y="1637" width="33" height="158" fill="#9e0e0e" fill-opacity="0.4"/><rect x="646.4" y="1635" width="15.1" height="227" fill="#9e0e0e" fill-opacity="0.37"/><rect x="712" y="1635" width="8" height="145" fill="#9e0e0e" fill-opacity="0.32"/><rect x="796.7" y="1600" width="34.6" height="196" fill="#2a32c4" fill-opacity="0.34"/><rect x="855" y="1553" width="8.8" height="309" fill="#9e0e0e" fill-opacity="0.38"/><rect x="289" y="1890.8" width="132" height="3.7" fill="#9e0e0e" fill-opacity="0.41"/><rect x="342" y="1889" width="12" height="6" fill="#1010c2" fill-opacity="0.41"/><rect x="785" y="1890.5" width="47" height="4.5" fill="#1010c2" fill-opacity="0.41"/><rect x="866" y="1890.5" width="16" height="4" fill="#2a32c4" fill-opacity="0.32"/><rect x="66" y="1890" width="7" height="5" fill="#2a32c4" fill-opacity="0.32"/><rect x="108" y="1890" width="8" height="5" fill="#2a32c4" fill-opacity="0.32"/><rect x="90" y="1891" width="8" height="3" fill="#9e0e0e" fill-opacity="0.32"/><rect x="110" y="1997" width="7.5" height="31" fill="#9e0e0e" fill-opacity="0.41"/><rect x="110" y="2035" width="7.5" height="26" fill="#9e0e0e" fill-opacity="0.41"/><rect x="272.4" y="1983" width="10.2" height="48" fill="#9e0e0e" fill-opacity="0.36"/><rect x="345.8" y="1863.5" width="10.2" height="26.5" fill="#9e0e0e" fill-opacity="0.43"/><rect x="345.8" y="1947" width="10.2" height="39" fill="#9e0e0e" fill-opacity="0.41"/><rect x="345.8" y="2021" width="10.2" height="13" fill="#9e0e0e" fill-opacity="0.41"/><rect x="623" y="1863" width="8" height="32" fill="#9e0e0e" fill-opacity="0.32"/><rect x="648.7" y="1862" width="11.6" height="38" fill="#9e0e0e" fill-opacity="0.32"/><rect x="704" y="1925" width="7" height="10" fill="#9e0e0e" fill-opacity="0.41"/><rect x="736.6" y="1915" width="6.9" height="20" fill="#9e0e0e" fill-opacity="0.32"/><rect x="736.6" y="2020" width="6.9" height="16" fill="#9e0e0e" fill-opacity="0.41"/><rect x="343" y="1345" width="13" height="30" fill="#9e0e0e" fill-opacity="0.38"/></g>
<rect x="31.2" y="1248.7" width="19.4" height="260.9" fill="#cc6a50"/>
<rect x="31.2" y="1530.9" width="19.4" height="8" fill="#e2e67c"/>
<rect x="31.2" y="1538.9" width="19.4" height="13.6" fill="#8b7b60"/>
<rect x="31.2" y="1552.5" width="19.4" height="309.8" fill="#86da7e"/>
<rect x="31.2" y="1862.3" width="19.4" height="198.9" fill="#e8a060"/>
<path d="M153.7,1249.3V1509M153.7,1530.9V2061.2M212.6,1249.3V1509M212.6,1530.9V2061.2M262.3,1249.3V1509M262.3,1530.9V2061.2M294.7,1249.3V1509M294.7,1530.9V2061.2M338,1249.3V1509M338,1530.9V2061.2M380.3,1249.3V1509M380.3,1530.9V2061.2M421.6,1249.3V1509M421.6,1530.9V2061.2M455.3,1249.3V1509M455.3,1530.9V2061.2M486.5,1249.3V1509M486.5,1530.9V2061.2M519.2,1249.3V1509M519.2,1530.9V2061.2M570.3,1249.3V1509M570.3,1530.9V2061.2M616.9,1249.3V1509M616.9,1530.9V2061.2M632.6,1249.3V1509M632.6,1530.9V2061.2M662.3,1249.3V1509M662.3,1530.9V2061.2M687.1,1249.3V1509M687.1,1530.9V2061.2M722.2,1249.3V1509M722.2,1530.9V2061.2M771.8,1249.3V1509M771.8,1530.9V2061.2M783.4,1249.3V1509M783.4,1530.9V2061.2M833.3,1249.3V1509M833.3,1530.9V2061.2M854.5,1249.3V1509M854.5,1530.9V2061.2M863.8,1249.3V1509M863.8,1530.9V2061.2" fill="none" stroke="#000" stroke-width="1.9"/>
<path d="M57.9,1538.5H883M57.9,1553H883M57.9,1862.3H883" fill="none" stroke="#000" stroke-width="1.6"/>
<text transform="translate(70.5,2140.9) rotate(-90) scale(1.3450,1)" x="-0.84" y="0" font-size="21" fill="#000" stroke="#000" stroke-width="0.5">chr1</text>
<text transform="translate(162.6,2140.9) rotate(-90) scale(1.3450,1)" x="-0.84" y="0" font-size="21" fill="#000" stroke="#000" stroke-width="0.5">chr2</text>
<text transform="translate(221.2,2140.9) rotate(-90) scale(1.3450,1)" x="-0.84" y="0" font-size="21" fill="#000" stroke="#000" stroke-width="0.5">chr3</text>
<text transform="translate(270.9,2140.9) rotate(-90) scale(1.3450,1)" x="-0.84" y="0" font-size="21" fill="#000" stroke="#000" stroke-width="0.5">chr4</text>
<text transform="translate(303,2140.9) rotate(-90) scale(1.3450,1)" x="-0.84" y="0" font-size="21" fill="#000" stroke="#000" stroke-width="0.5">chr5</text>
<text transform="translate(346.5,2140.9) rotate(-90) scale(1.3450,1)" x="-0.84" y="0" font-size="21" fill="#000" stroke="#000" stroke-width="0.5">chr6</text>
<text transform="translate(388.1,2140.9) rotate(-90) scale(1.3450,1)" x="-0.84" y="0" font-size="21" fill="#000" stroke="#000" stroke-width="0.5">chr7</text>
<text transform="translate(429.7,2140.9) rotate(-90) scale(1.3450,1)" x="-0.84" y="0" font-size="21" fill="#000" stroke="#000" stroke-width="0.5">chr8</text>
<text transform="translate(463.7,2140.9) rotate(-90) scale(1.3450,1)" x="-0.84" y="0" font-size="21" fill="#000" stroke="#000" stroke-width="0.5">chr9</text>
<text transform="translate(494.5,2140.9) rotate(-90) scale(1.3450,1)" x="-0.84" y="0" font-size="21" fill="#000" stroke="#000" stroke-width="0.5">chr10</text>
<text transform="translate(527.5,2140.9) rotate(-90) scale(1.3450,1)" x="-0.84" y="0" font-size="21" fill="#000" stroke="#000" stroke-width="0.5">chr11</text>
<text transform="translate(579.5,2140.9) rotate(-90) scale(1.3450,1)" x="-0.84" y="0" font-size="21" fill="#000" stroke="#000" stroke-width="0.5">chr12</text>
<text transform="translate(625.4,2140.9) rotate(-90) scale(1.3450,1)" x="-0.84" y="0" font-size="21" fill="#000" stroke="#000" stroke-width="0.5">chr13</text>
<text transform="translate(641,2140.9) rotate(-90) scale(1.3450,1)" x="-0.84" y="0" font-size="21" fill="#000" stroke="#000" stroke-width="0.5">chr14</text>
<text transform="translate(671.7,2140.9) rotate(-90) scale(1.3450,1)" x="-0.84" y="0" font-size="21" fill="#000" stroke="#000" stroke-width="0.5">chr15</text>
<text transform="translate(696.8,2140.9) rotate(-90) scale(1.3450,1)" x="-0.84" y="0" font-size="21" fill="#000" stroke="#000" stroke-width="0.5">chr16</text>
<text transform="translate(731.7,2140.9) rotate(-90) scale(1.3450,1)" x="-0.84" y="0" font-size="21" fill="#000" stroke="#000" stroke-width="0.5">chr17</text>
<text transform="translate(777.1,2140.9) rotate(-90) scale(1.3450,1)" x="-0.84" y="0" font-size="21" fill="#000" stroke="#000" stroke-width="0.5">chr18</text>
<text transform="translate(796,2140.9) rotate(-90) scale(1.3450,1)" x="-0.84" y="0" font-size="21" fill="#000" stroke="#000" stroke-width="0.5">chr19</text>
<text transform="translate(840.4,2140.9) rotate(-90) scale(1.3450,1)" x="-0.84" y="0" font-size="21" fill="#000" stroke="#000" stroke-width="0.5">chr20</text>
<text transform="translate(860.8,2140.9) rotate(-90) scale(1.3450,1)" x="-0.84" y="0" font-size="21" fill="#000" stroke="#000" stroke-width="0.5">chr21</text>
<text transform="translate(877.3,2140.9) rotate(-90) scale(1.3450,1)" x="-0.84" y="0" font-size="21" fill="#000" stroke="#000" stroke-width="0.5">chr22</text>
<text transform="translate(367.6,2171.6) scale(1.4153,1)" x="-1.05" y="0" font-size="21" fill="#000" stroke="#000" stroke-width="0.5">Genomic Region</text>
<rect x="115.5" y="2183.3" width="721" height="34.9" fill="none" stroke="#000" stroke-width="1.6"/>
<rect x="122.9" y="2189.2" width="18.2" height="20" fill="#e8a060"/>
<text transform="translate(147.5,2205.5) scale(1.4509,1)" x="-1.68" y="0" font-size="21" fill="#000" stroke="#000" stroke-width="0.5">Myeloid</text>
<rect x="262.3" y="2189.2" width="18.2" height="20" fill="#86da7e"/>
<text transform="translate(286.9,2205.5) scale(1.4201,1)" x="-0.42" y="0" font-size="21" fill="#000" stroke="#000" stroke-width="0.5">Tumor</text>
<rect x="385.2" y="2189.2" width="18.2" height="20" fill="#8b7b60"/>
<text transform="translate(410.3,2205.5) scale(1.4244,1)" x="-0" y="0" font-size="21" fill="#000" stroke="#000" stroke-width="0.5">Vasculature</text>
<rect x="579" y="2189.2" width="18.2" height="20" fill="#e2e67c"/>
<text transform="translate(603.6,2205.5) scale(1.4366,1)" x="-0.94" y="0" font-size="21" fill="#000" stroke="#000" stroke-width="0.5">OPC</text>
<rect x="680.7" y="2189.2" width="18.2" height="20" fill="#cc6a50"/>
<text transform="translate(704.3,2205.5) scale(1.4618,1)" x="-1.68" y="0" font-size="21" fill="#000" stroke="#000" stroke-width="0.5">Lymphoid</text>
<text transform="translate(917,1379.3) rotate(-90) scale(1.0571,1)" x="-77.7" y="0" font-size="20.5" fill="#000" stroke="#000" stroke-width="0.5">Reference (cells)</text>
<text transform="translate(917.3,1796.3) rotate(-90) scale(1.0560,1)" x="-90.46" y="0" font-size="20.5" fill="#000" stroke="#000" stroke-width="0.5">Observations (cells)</text>
<defs><linearGradient id="histG" x1="0" y1="0" x2="1" y2="0">
<stop offset="0" stop-color="#0a0a96"/><stop offset="0.08" stop-color="#1c1ca0"/><stop offset="0.16" stop-color="#3a3aae"/>
<stop offset="0.26" stop-color="#6262be"/><stop offset="0.36" stop-color="#9494d2"/><stop offset="0.44" stop-color="#c8c8e8"/>
<stop offset="0.5" stop-color="#ffffff"/><stop offset="0.56" stop-color="#f0d8d8"/><stop offset="0.64" stop-color="#d8a4a4"/>
<stop offset="0.74" stop-color="#c07070"/><stop offset="0.84" stop-color="#aa4040"/><stop offset="0.93" stop-color="#9a2020"/>
<stop offset="1" stop-color="#940c0c"/></linearGradient></defs>
<rect x="980.4" y="1878.3" width="126.8" height="195.8" fill="url(#histG)"/>
<path d="M980.36,2073.04 L997.35,2073.04 L997.35,2070.55 L1004.94,2070.55 L1004.94,2065.44 L1015.3,2065.44 L1015.3,2058.54 L1022.9,2058.54 L1022.9,2073.31 L1039.06,2073.31 L1039.06,1887.96 L1048.18,1887.96 L1048.18,2073.31 L1064.34,2073.31 L1064.34,2061.3 L1072.62,2061.3 L1072.62,2064.48 L1080.91,2064.48 L1080.91,2068.9 L1089.2,2068.9 L1089.2,2070.55 L1098.18,2070.55 L1098.18,2068.9 L1107.15,2068.9" fill="none" stroke="#2222e6" stroke-width="1.8"/>
<rect x="1039.1" y="1888" width="9.1" height="184.8" fill="#fff"/>
<path d="M1039.1,2072.8V1888H1048.2V2072.8" fill="none" stroke="#2222e6" stroke-width="1.8"/>
<line x1="979.6" y1="1878.3" x2="979.6" y2="2074.6" stroke="#000" stroke-width="1.6"/>
<line x1="979.6" y1="2074.1" x2="1107.2" y2="2074.1" stroke="#000" stroke-width="1.6"/>
<line x1="977.2" y1="2074.1" x2="979.6" y2="2074.1" stroke="#000" stroke-width="1.2"/>
<line x1="977.2" y1="2042.7" x2="979.6" y2="2042.7" stroke="#000" stroke-width="1.2"/>
<line x1="977.2" y1="2011.3" x2="979.6" y2="2011.3" stroke="#000" stroke-width="1.2"/>
<line x1="977.2" y1="1979.9" x2="979.6" y2="1979.9" stroke="#000" stroke-width="1.2"/>
<line x1="977.2" y1="1948.5" x2="979.6" y2="1948.5" stroke="#000" stroke-width="1.2"/>
<line x1="977.2" y1="1917.1" x2="979.6" y2="1917.1" stroke="#000" stroke-width="1.2"/>
<line x1="977.2" y1="1885.7" x2="979.6" y2="1885.7" stroke="#000" stroke-width="1.2"/>
<text transform="translate(980.7,2092.2)" x="-12.6" y="0" font-size="18.2" fill="#000" stroke="#000" stroke-width="0.5">0.8</text>
<text transform="translate(1013.9,2092.2)" x="-12.56" y="0" font-size="18.2" fill="#000" stroke="#000" stroke-width="0.5">0.9</text>
<text transform="translate(1045,2092.2)" x="-5.32" y="0" font-size="18.2" fill="#000" stroke="#000" stroke-width="0.5">1</text>
<text transform="translate(1076.8,2092.2)" x="-12.92" y="0" font-size="18.2" fill="#000" stroke="#000" stroke-width="0.5">1.1</text>
<text transform="translate(1108,2092.2)" x="-12.92" y="0" font-size="18.2" fill="#000" stroke="#000" stroke-width="0.5">1.2</text>
<text transform="translate(973.2,2071) rotate(-90)" x="-5.05" y="0" font-size="18.2" fill="#000" stroke="#000" stroke-width="0.5">0</text>
<text transform="translate(973.2,2037.8) rotate(-90) scale(0.8614,1)" x="-25.57" y="0" font-size="18.2" fill="#000" stroke="#000" stroke-width="0.5">5e+06</text>
<text transform="translate(973.2,1978.7) rotate(-90) scale(0.8523,1)" x="-33.4" y="0" font-size="18.2" fill="#000" stroke="#000" stroke-width="0.5">1.5e+07</text>
<text transform="translate(973.2,1915.6) rotate(-90) scale(0.8556,1)" x="-33.17" y="0" font-size="18.2" fill="#000" stroke="#000" stroke-width="0.5">2.5e+07</text>
<text transform="translate(952.3,1976) rotate(-90) scale(1.2844,1)" x="-30.66" y="0" font-size="21" fill="#000" font-weight="bold" stroke="#000" stroke-width="0.3">Count</text>
<text transform="translate(945.8,1850.4) scale(1.3978,1)" x="-1.24" y="0" font-size="19" fill="#000" font-weight="bold" stroke="#000" stroke-width="0.3">Distribution of</text>
<text transform="translate(963,1871.7) scale(1.4415,1)" x="-1.24" y="0" font-size="19" fill="#000" font-weight="bold" stroke="#000" stroke-width="0.3">Expression</text>
<text transform="translate(987,2112.4) scale(1.3503,1)" x="-1.32" y="0" font-size="20.3" fill="#000" font-weight="bold" stroke="#000" stroke-width="0.3">Modified</text>
<text transform="translate(969.7,2133.1) scale(1.3445,1)" x="-1.32" y="0" font-size="20.3" fill="#000" font-weight="bold" stroke="#000" stroke-width="0.3">Expression</text>
<text transform="translate(1268.9,1235.7)" x="-0.47" y="0" font-size="31.5" fill="#000" font-weight="bold" stroke="#000" stroke-width="0.3">f</text>
<rect x="1345.1" y="1240.7" width="654.9" height="263.8" fill="none" stroke="#c4c4c4" stroke-width="1.3"/>
<path d="M1359.45,1240.7V1504.5M1384.4,1240.7V1504.5M1409.35,1240.7V1504.5M1434.3,1240.7V1504.5M1459.25,1240.7V1504.5M1484.2,1240.7V1504.5M1509.15,1240.7V1504.5M1534.1,1240.7V1504.5M1559.05,1240.7V1504.5M1584,1240.7V1504.5M1608.95,1240.7V1504.5M1633.9,1240.7V1504.5M1658.85,1240.7V1504.5M1683.8,1240.7V1504.5M1708.75,1240.7V1504.5M1733.7,1240.7V1504.5M1758.65,1240.7V1504.5M1783.6,1240.7V1504.5M1808.55,1240.7V1504.5M1833.5,1240.7V1504.5M1858.45,1240.7V1504.5M1883.4,1240.7V1504.5M1908.35,1240.7V1504.5M1933.3,1240.7V1504.5M1958.25,1240.7V1504.5M1983.2,1240.7V1504.5M1345.1,1492.5H2000M1345.1,1432.4H2000M1345.1,1372.3H2000M1345.1,1312.2H2000M1345.1,1252.1H2000" fill="none" stroke="#e4e4e4" stroke-width="1"/>
<path d="M1359.45,1504.5V1508.6M1384.4,1504.5V1508.6M1409.35,1504.5V1508.6M1434.3,1504.5V1508.6M1459.25,1504.5V1508.6M1484.2,1504.5V1508.6M1509.15,1504.5V1508.6M1534.1,1504.5V1508.6M1559.05,1504.5V1508.6M1584,1504.5V1508.6M1608.95,1504.5V1508.6M1633.9,1504.5V1508.6M1658.85,1504.5V1508.6M1683.8,1504.5V1508.6M1708.75,1504.5V1508.6M1733.7,1504.5V1508.6M1758.65,1504.5V1508.6M1783.6,1504.5V1508.6M1808.55,1504.5V1508.6M1833.5,1504.5V1508.6M1858.45,1504.5V1508.6M1883.4,1504.5V1508.6M1908.35,1504.5V1508.6M1933.3,1504.5V1508.6M1958.25,1504.5V1508.6M1983.2,1504.5V1508.6M1341.3,1492.5H1345.1M1341.3,1432.4H1345.1M1341.3,1372.3H1345.1M1341.3,1312.2H1345.1M1341.3,1252.1H1345.1" fill="none" stroke="#a8a8a8" stroke-width="1.4"/>
<rect x="1348.15" y="1488.89" width="22.6" height="3.61" fill="#e2e67c" stroke="#000" stroke-width="2.3"/>
<rect x="1348.15" y="1345.86" width="22.6" height="143.04" fill="#86da7e" stroke="#000" stroke-width="2.3"/>
<rect x="1348.15" y="1270.13" width="22.6" height="75.73" fill="#e8a060" stroke="#000" stroke-width="2.3"/>
<rect x="1348.15" y="1255.71" width="22.6" height="14.42" fill="#cc6a50" stroke="#000" stroke-width="2.3"/>
<rect x="1348.15" y="1252.1" width="22.6" height="3.61" fill="#111" stroke="#000" stroke-width="2.3"/>
<rect x="1373.1" y="1339.85" width="22.6" height="152.65" fill="#86da7e" stroke="#000" stroke-width="2.3"/>
<rect x="1373.1" y="1265.32" width="22.6" height="74.52" fill="#e8a060" stroke="#000" stroke-width="2.3"/>
<rect x="1373.1" y="1254.5" width="22.6" height="10.82" fill="#cc6a50" stroke="#000" stroke-width="2.3"/>
<rect x="1373.1" y="1252.1" width="22.6" height="2.4" fill="#111" stroke="#000" stroke-width="2.3"/>
<rect x="1398.05" y="1271.33" width="22.6" height="221.17" fill="#86da7e" stroke="#000" stroke-width="2.3"/>
<rect x="1398.05" y="1261.72" width="22.6" height="9.62" fill="#e8a060" stroke="#000" stroke-width="2.3"/>
<rect x="1398.05" y="1254.5" width="22.6" height="7.21" fill="#cc6a50" stroke="#000" stroke-width="2.3"/>
<rect x="1398.05" y="1252.1" width="22.6" height="2.4" fill="#111" stroke="#000" stroke-width="2.3"/>
<rect x="1423" y="1479.28" width="22.6" height="13.22" fill="#86da7e" stroke="#000" stroke-width="2.3"/>
<rect x="1423" y="1288.16" width="22.6" height="191.12" fill="#e8a060" stroke="#000" stroke-width="2.3"/>
<rect x="1423" y="1253.3" width="22.6" height="34.86" fill="#cc6a50" stroke="#000" stroke-width="2.3"/>
<rect x="1423" y="1252.1" width="22.6" height="1.2" fill="#111" stroke="#000" stroke-width="2.3"/>
<rect x="1447.95" y="1452.83" width="22.6" height="39.67" fill="#e2e67c" stroke="#000" stroke-width="2.3"/>
<rect x="1447.95" y="1444.42" width="22.6" height="8.41" fill="#86da7e" stroke="#000" stroke-width="2.3"/>
<rect x="1447.95" y="1270.13" width="22.6" height="174.29" fill="#e8a060" stroke="#000" stroke-width="2.3"/>
<rect x="1447.95" y="1254.5" width="22.6" height="15.63" fill="#cc6a50" stroke="#000" stroke-width="2.3"/>
<rect x="1447.95" y="1252.1" width="22.6" height="2.4" fill="#111" stroke="#000" stroke-width="2.3"/>
<rect x="1472.9" y="1342.25" width="22.6" height="150.25" fill="#86da7e" stroke="#000" stroke-width="2.3"/>
<rect x="1472.9" y="1258.11" width="22.6" height="84.14" fill="#e8a060" stroke="#000" stroke-width="2.3"/>
<rect x="1472.9" y="1254.5" width="22.6" height="3.61" fill="#cc6a50" stroke="#000" stroke-width="2.3"/>
<rect x="1472.9" y="1252.1" width="22.6" height="2.4" fill="#111" stroke="#000" stroke-width="2.3"/>
<rect x="1497.85" y="1380.71" width="22.6" height="111.79" fill="#86da7e" stroke="#000" stroke-width="2.3"/>
<rect x="1497.85" y="1312.2" width="22.6" height="68.51" fill="#e8a060" stroke="#000" stroke-width="2.3"/>
<rect x="1497.85" y="1254.5" width="22.6" height="57.7" fill="#cc6a50" stroke="#000" stroke-width="2.3"/>
<rect x="1497.85" y="1252.1" width="22.6" height="2.4" fill="#111" stroke="#000" stroke-width="2.3"/>
<rect x="1522.8" y="1333.84" width="22.6" height="158.66" fill="#86da7e" stroke="#000" stroke-width="2.3"/>
<rect x="1522.8" y="1288.16" width="22.6" height="45.68" fill="#e8a060" stroke="#000" stroke-width="2.3"/>
<rect x="1522.8" y="1254.5" width="22.6" height="33.66" fill="#cc6a50" stroke="#000" stroke-width="2.3"/>
<rect x="1522.8" y="1252.1" width="22.6" height="2.4" fill="#111" stroke="#000" stroke-width="2.3"/>
<rect x="1547.75" y="1383.12" width="22.6" height="109.38" fill="#86da7e" stroke="#000" stroke-width="2.3"/>
<rect x="1547.75" y="1272.53" width="22.6" height="110.58" fill="#e8a060" stroke="#000" stroke-width="2.3"/>
<rect x="1547.75" y="1254.5" width="22.6" height="18.03" fill="#cc6a50" stroke="#000" stroke-width="2.3"/>
<rect x="1547.75" y="1252.1" width="22.6" height="2.4" fill="#111" stroke="#000" stroke-width="2.3"/>
<rect x="1572.7" y="1288.16" width="22.6" height="204.34" fill="#86da7e" stroke="#000" stroke-width="2.3"/>
<rect x="1572.7" y="1262.92" width="22.6" height="25.24" fill="#e8a060" stroke="#000" stroke-width="2.3"/>
<rect x="1572.7" y="1254.5" width="22.6" height="8.41" fill="#cc6a50" stroke="#000" stroke-width="2.3"/>
<rect x="1572.7" y="1252.1" width="22.6" height="2.4" fill="#111" stroke="#000" stroke-width="2.3"/>
<rect x="1597.65" y="1488.89" width="22.6" height="3.61" fill="#e2e67c" stroke="#000" stroke-width="2.3"/>
<rect x="1597.65" y="1319.41" width="22.6" height="169.48" fill="#86da7e" stroke="#000" stroke-width="2.3"/>
<rect x="1597.65" y="1255.71" width="22.6" height="63.71" fill="#e8a060" stroke="#000" stroke-width="2.3"/>
<rect x="1597.65" y="1253.3" width="22.6" height="2.4" fill="#cc6a50" stroke="#000" stroke-width="2.3"/>
<rect x="1597.65" y="1252.1" width="22.6" height="1.2" fill="#8b7b60" stroke="#000" stroke-width="2.3"/>
<rect x="1622.6" y="1490.1" width="22.6" height="2.4" fill="#e2e67c" stroke="#000" stroke-width="2.3"/>
<rect x="1622.6" y="1314.6" width="22.6" height="175.49" fill="#86da7e" stroke="#000" stroke-width="2.3"/>
<rect x="1622.6" y="1271.33" width="22.6" height="43.27" fill="#e8a060" stroke="#000" stroke-width="2.3"/>
<rect x="1622.6" y="1256.91" width="22.6" height="14.42" fill="#cc6a50" stroke="#000" stroke-width="2.3"/>
<rect x="1622.6" y="1252.1" width="22.6" height="4.81" fill="#111" stroke="#000" stroke-width="2.3"/>
<rect x="1647.55" y="1276.14" width="22.6" height="216.36" fill="#86da7e" stroke="#000" stroke-width="2.3"/>
<rect x="1647.55" y="1256.91" width="22.6" height="19.23" fill="#e8a060" stroke="#000" stroke-width="2.3"/>
<rect x="1647.55" y="1254.5" width="22.6" height="2.4" fill="#cc6a50" stroke="#000" stroke-width="2.3"/>
<rect x="1647.55" y="1252.1" width="22.6" height="2.4" fill="#111" stroke="#000" stroke-width="2.3"/>
<rect x="1672.5" y="1445.62" width="22.6" height="46.88" fill="#e2e67c" stroke="#000" stroke-width="2.3"/>
<rect x="1672.5" y="1350.66" width="22.6" height="94.96" fill="#86da7e" stroke="#000" stroke-width="2.3"/>
<rect x="1672.5" y="1278.54" width="22.6" height="72.12" fill="#e8a060" stroke="#000" stroke-width="2.3"/>
<rect x="1672.5" y="1253.3" width="22.6" height="25.24" fill="#cc6a50" stroke="#000" stroke-width="2.3"/>
<rect x="1672.5" y="1252.1" width="22.6" height="1.2" fill="#111" stroke="#000" stroke-width="2.3"/>
<rect x="1697.45" y="1486.49" width="22.6" height="6.01" fill="#e2e67c" stroke="#000" stroke-width="2.3"/>
<rect x="1697.45" y="1417.98" width="22.6" height="68.51" fill="#86da7e" stroke="#000" stroke-width="2.3"/>
<rect x="1697.45" y="1301.38" width="22.6" height="116.59" fill="#e8a060" stroke="#000" stroke-width="2.3"/>
<rect x="1697.45" y="1254.5" width="22.6" height="46.88" fill="#cc6a50" stroke="#000" stroke-width="2.3"/>
<rect x="1697.45" y="1252.1" width="22.6" height="2.4" fill="#111" stroke="#000" stroke-width="2.3"/>
<rect x="1722.4" y="1398.74" width="22.6" height="93.76" fill="#86da7e" stroke="#000" stroke-width="2.3"/>
<rect x="1722.4" y="1361.48" width="22.6" height="37.26" fill="#e8a060" stroke="#000" stroke-width="2.3"/>
<rect x="1722.4" y="1255.71" width="22.6" height="105.78" fill="#cc6a50" stroke="#000" stroke-width="2.3"/>
<rect x="1722.4" y="1252.1" width="22.6" height="3.61" fill="#111" stroke="#000" stroke-width="2.3"/>
<rect x="1747.35" y="1343.45" width="22.6" height="149.05" fill="#86da7e" stroke="#000" stroke-width="2.3"/>
<rect x="1747.35" y="1268.93" width="22.6" height="74.52" fill="#e8a060" stroke="#000" stroke-width="2.3"/>
<rect x="1747.35" y="1254.5" width="22.6" height="14.42" fill="#cc6a50" stroke="#000" stroke-width="2.3"/>
<rect x="1747.35" y="1252.1" width="22.6" height="2.4" fill="#111" stroke="#000" stroke-width="2.3"/>
<rect x="1772.3" y="1490.1" width="22.6" height="2.4" fill="#e2e67c" stroke="#000" stroke-width="2.3"/>
<rect x="1772.3" y="1270.13" width="22.6" height="219.97" fill="#86da7e" stroke="#000" stroke-width="2.3"/>
<rect x="1772.3" y="1262.92" width="22.6" height="7.21" fill="#e8a060" stroke="#000" stroke-width="2.3"/>
<rect x="1772.3" y="1255.71" width="22.6" height="7.21" fill="#cc6a50" stroke="#000" stroke-width="2.3"/>
<rect x="1772.3" y="1252.1" width="22.6" height="3.61" fill="#111" stroke="#000" stroke-width="2.3"/>
<rect x="1797.25" y="1381.92" width="22.6" height="110.58" fill="#86da7e" stroke="#000" stroke-width="2.3"/>
<rect x="1797.25" y="1294.17" width="22.6" height="87.75" fill="#e8a060" stroke="#000" stroke-width="2.3"/>
<rect x="1797.25" y="1260.51" width="22.6" height="33.66" fill="#cc6a50" stroke="#000" stroke-width="2.3"/>
<rect x="1797.25" y="1252.1" width="22.6" height="8.41" fill="#8b7b60" stroke="#000" stroke-width="2.3"/>
<rect x="1822.2" y="1274.94" width="22.6" height="217.56" fill="#86da7e" stroke="#000" stroke-width="2.3"/>
<rect x="1822.2" y="1255.71" width="22.6" height="19.23" fill="#e8a060" stroke="#000" stroke-width="2.3"/>
<rect x="1822.2" y="1254.5" width="22.6" height="1.2" fill="#cc6a50" stroke="#000" stroke-width="2.3"/>
<rect x="1822.2" y="1252.1" width="22.6" height="2.4" fill="#111" stroke="#000" stroke-width="2.3"/>
<rect x="1847.15" y="1462.45" width="22.6" height="30.05" fill="#86da7e" stroke="#000" stroke-width="2.3"/>
<rect x="1847.15" y="1313.4" width="22.6" height="149.05" fill="#e8a060" stroke="#000" stroke-width="2.3"/>
<rect x="1847.15" y="1259.31" width="22.6" height="54.09" fill="#cc6a50" stroke="#000" stroke-width="2.3"/>
<rect x="1847.15" y="1252.1" width="22.6" height="7.21" fill="#8b7b60" stroke="#000" stroke-width="2.3"/>
<rect x="1872.1" y="1337.44" width="22.6" height="155.06" fill="#86da7e" stroke="#000" stroke-width="2.3"/>
<rect x="1872.1" y="1265.32" width="22.6" height="72.12" fill="#e8a060" stroke="#000" stroke-width="2.3"/>
<rect x="1872.1" y="1259.31" width="22.6" height="6.01" fill="#cc6a50" stroke="#000" stroke-width="2.3"/>
<rect x="1872.1" y="1252.1" width="22.6" height="7.21" fill="#8b7b60" stroke="#000" stroke-width="2.3"/>
<rect x="1897.05" y="1360.28" width="22.6" height="132.22" fill="#86da7e" stroke="#000" stroke-width="2.3"/>
<rect x="1897.05" y="1266.52" width="22.6" height="93.76" fill="#e8a060" stroke="#000" stroke-width="2.3"/>
<rect x="1897.05" y="1255.71" width="22.6" height="10.82" fill="#cc6a50" stroke="#000" stroke-width="2.3"/>
<rect x="1897.05" y="1252.1" width="22.6" height="3.61" fill="#111" stroke="#000" stroke-width="2.3"/>
<rect x="1922" y="1333.84" width="22.6" height="158.66" fill="#86da7e" stroke="#000" stroke-width="2.3"/>
<rect x="1922" y="1268.93" width="22.6" height="64.91" fill="#e8a060" stroke="#000" stroke-width="2.3"/>
<rect x="1922" y="1258.11" width="22.6" height="10.82" fill="#cc6a50" stroke="#000" stroke-width="2.3"/>
<rect x="1922" y="1252.1" width="22.6" height="6.01" fill="#8b7b60" stroke="#000" stroke-width="2.3"/>
<rect x="1946.95" y="1380.71" width="22.6" height="111.79" fill="#86da7e" stroke="#000" stroke-width="2.3"/>
<rect x="1946.95" y="1296.57" width="22.6" height="84.14" fill="#e8a060" stroke="#000" stroke-width="2.3"/>
<rect x="1946.95" y="1280.95" width="22.6" height="15.63" fill="#cc6a50" stroke="#000" stroke-width="2.3"/>
<rect x="1946.95" y="1252.1" width="22.6" height="28.85" fill="#8b7b60" stroke="#000" stroke-width="2.3"/>
<rect x="1971.9" y="1365.09" width="22.6" height="127.41" fill="#86da7e" stroke="#000" stroke-width="2.3"/>
<rect x="1971.9" y="1256.91" width="22.6" height="108.18" fill="#e8a060" stroke="#000" stroke-width="2.3"/>
<rect x="1971.9" y="1255.71" width="22.6" height="1.2" fill="#cc6a50" stroke="#000" stroke-width="2.3"/>
<rect x="1971.9" y="1252.1" width="22.6" height="3.61" fill="#111" stroke="#000" stroke-width="2.3"/>
<text transform="translate(1338.5,1499.4) scale(1.0500,1)" x="-37.63" y="0" font-size="19.7" fill="#000" stroke="#000" stroke-width="0.5">0.00</text>
<text transform="translate(1338.5,1439.3) scale(1.0500,1)" x="-37.53" y="0" font-size="19.7" fill="#000" stroke="#000" stroke-width="0.5">0.25</text>
<text transform="translate(1338.5,1379.2) scale(1.0500,1)" x="-37.63" y="0" font-size="19.7" fill="#000" stroke="#000" stroke-width="0.5">0.50</text>
<text transform="translate(1338.5,1319.1) scale(1.0500,1)" x="-37.53" y="0" font-size="19.7" fill="#000" stroke="#000" stroke-width="0.5">0.75</text>
<text transform="translate(1338.5,1259) scale(1.0500,1)" x="-37.63" y="0" font-size="19.7" fill="#000" stroke="#000" stroke-width="0.5">1.00</text>
<text transform="translate(1290.5,1368) rotate(-90) scale(0.9914,1)" x="-45.38" y="0" font-size="25" fill="#000" stroke="#000" stroke-width="0.5">Fraction</text>
<text transform="translate(1350.55,1522.5) rotate(45)" x="-1.68" y="0" font-size="21" fill="#000" stroke="#000" stroke-width="0.5">PFA1</text>
<text transform="translate(1375.5,1522.5) rotate(45)" x="-1.68" y="0" font-size="21" fill="#000" stroke="#000" stroke-width="0.5">PFA2</text>
<text transform="translate(1400.45,1522.5) rotate(45)" x="-1.68" y="0" font-size="21" fill="#000" stroke="#000" stroke-width="0.5">PFA3</text>
<text transform="translate(1425.4,1522.5) rotate(45)" x="-1.68" y="0" font-size="21" fill="#000" stroke="#000" stroke-width="0.5">PFA4</text>
<text transform="translate(1450.35,1522.5) rotate(45)" x="-1.68" y="0" font-size="21" fill="#000" stroke="#000" stroke-width="0.5">PFA5</text>
<text transform="translate(1475.3,1522.5) rotate(45)" x="-1.68" y="0" font-size="21" fill="#000" stroke="#000" stroke-width="0.5">PFA6</text>
<text transform="translate(1500.25,1522.5) rotate(45)" x="-1.68" y="0" font-size="21" fill="#000" stroke="#000" stroke-width="0.5">PFA7</text>
<text transform="translate(1525.2,1522.5) rotate(45)" x="-1.68" y="0" font-size="21" fill="#000" stroke="#000" stroke-width="0.5">PFA8</text>
<text transform="translate(1550.15,1522.5) rotate(45)" x="-1.68" y="0" font-size="21" fill="#000" stroke="#000" stroke-width="0.5">PFA9</text>
<text transform="translate(1575.1,1522.5) rotate(45)" x="-1.68" y="0" font-size="21" fill="#000" stroke="#000" stroke-width="0.5">PFA10</text>
<text transform="translate(1600.05,1522.5) rotate(45)" x="-1.68" y="0" font-size="21" fill="#000" stroke="#000" stroke-width="0.5">PFA11</text>
<text transform="translate(1625,1522.5) rotate(45)" x="-1.68" y="0" font-size="21" fill="#000" stroke="#000" stroke-width="0.5">PFA12</text>
<text transform="translate(1649.95,1522.5) rotate(45)" x="-1.68" y="0" font-size="21" fill="#000" stroke="#000" stroke-width="0.5">PFA13</text>
<text transform="translate(1674.9,1522.5) rotate(45)" x="-1.68" y="0" font-size="21" fill="#000" stroke="#000" stroke-width="0.5">PFA14</text>
<text transform="translate(1699.85,1522.5) rotate(45)" x="-1.68" y="0" font-size="21" fill="#000" stroke="#000" stroke-width="0.5">PFA15</text>
<text transform="translate(1724.8,1522.5) rotate(45)" x="-1.68" y="0" font-size="21" fill="#000" stroke="#000" stroke-width="0.5">PFA16</text>
<text transform="translate(1749.75,1522.5) rotate(45)" x="-1.68" y="0" font-size="21" fill="#000" stroke="#000" stroke-width="0.5">PFA17</text>
<text transform="translate(1774.7,1522.5) rotate(45)" x="-1.68" y="0" font-size="21" fill="#000" stroke="#000" stroke-width="0.5">PFA18</text>
<text transform="translate(1799.65,1522.5) rotate(45)" x="-1.68" y="0" font-size="21" fill="#000" stroke="#000" stroke-width="0.5">PFA19</text>
<text transform="translate(1824.6,1522.5) rotate(45)" x="-1.68" y="0" font-size="21" fill="#000" stroke="#000" stroke-width="0.5">PFA20</text>
<text transform="translate(1849.55,1522.5) rotate(45)" x="-1.68" y="0" font-size="21" fill="#000" stroke="#000" stroke-width="0.5">PFA21</text>
<text transform="translate(1874.5,1522.5) rotate(45)" x="-1.68" y="0" font-size="21" fill="#000" stroke="#000" stroke-width="0.5">PFA22</text>
<text transform="translate(1899.45,1522.5) rotate(45)" x="-1.68" y="0" font-size="21" fill="#000" stroke="#000" stroke-width="0.5">PFA23</text>
<text transform="translate(1924.4,1522.5) rotate(45)" x="-1.68" y="0" font-size="21" fill="#000" stroke="#000" stroke-width="0.5">PFA24</text>
<text transform="translate(1949.35,1522.5) rotate(45)" x="-1.68" y="0" font-size="21" fill="#000" stroke="#000" stroke-width="0.5">PFA25</text>
<text transform="translate(1974.3,1522.5) rotate(45)" x="-1.68" y="0" font-size="21" fill="#000" stroke="#000" stroke-width="0.5">PFA26</text>
<text transform="translate(1400.9,1605) scale(1.2087,1)" x="-0.99" y="0" font-size="19.9" fill="#000" stroke="#000" stroke-width="0.5">Cell type</text>
<rect x="1507.9" y="1590.5" width="19.5" height="17.2" fill="#8b7b60"/>
<rect x="1507.9" y="1611.9" width="19.5" height="16.7" fill="#cc6a50"/>
<rect x="1682" y="1590.5" width="19.3" height="17.2" fill="#e8a060"/>
<rect x="1682" y="1611.9" width="19.3" height="16.7" fill="#86da7e"/>
<rect x="1812.7" y="1590.5" width="19.3" height="17.2" fill="#e2e67c"/>
<text transform="translate(1542.9,1605) scale(1.2064,1)" x="-0" y="0" font-size="19.9" fill="#000" stroke="#000" stroke-width="0.5">Vasculature</text>
<text transform="translate(1542.9,1626.4) scale(1.2100,1)" x="-1.59" y="0" font-size="19.9" fill="#000" stroke="#000" stroke-width="0.5">Lymphoid</text>
<text transform="translate(1717,1605) scale(1.2164,1)" x="-1.59" y="0" font-size="19.9" fill="#000" stroke="#000" stroke-width="0.5">Myeloid</text>
<text transform="translate(1719.7,1626.4) scale(1.2100,1)" x="-0.4" y="0" font-size="19.9" fill="#000" stroke="#000" stroke-width="0.5">Tumor</text>
<text transform="translate(1846.9,1605) scale(1.2171,1)" x="-0.9" y="0" font-size="19.9" fill="#000" stroke="#000" stroke-width="0.5">OPC</text>
<text transform="translate(1269.5,1747.3)" x="-1.28" y="0" font-size="32" fill="#000" font-weight="bold" stroke="#000" stroke-width="0.3">g</text>
<text transform="translate(1352.4,1784) scale(1.0661,1)" x="-2.32" y="0" font-size="29" fill="#000" stroke="#000" stroke-width="0.5">Female</text>
<text transform="translate(1666.4,1784) scale(1.0707,1)" x="-2.32" y="0" font-size="29" fill="#000" stroke="#000" stroke-width="0.5">Male</text>
<path d="M1394,1893.8L1455.55,1956.13A87.6,87.6 0 1 1 1394,1806.2Z" fill="#86da7e" stroke="#000" stroke-width="2" stroke-linejoin="round"/>
<path d="M1394,1893.8L1457.86,1953.77A87.6,87.6 0 0 1 1455.55,1956.13Z" fill="#e2e67c" stroke="#000" stroke-width="2" stroke-linejoin="round"/>
<path d="M1394,1893.8L1462.88,1947.92A87.6,87.6 0 0 1 1457.86,1953.77Z" fill="#8b7b60" stroke="#000" stroke-width="2" stroke-linejoin="round"/>
<path d="M1394,1893.8L1480.69,1906.42A87.6,87.6 0 0 1 1462.88,1947.92Z" fill="#cc6a50" stroke="#000" stroke-width="2" stroke-linejoin="round"/>
<path d="M1394,1893.8L1394,1806.2A87.6,87.6 0 0 1 1480.69,1906.42Z" fill="#e8a060" stroke="#000" stroke-width="2" stroke-linejoin="round"/>
<circle cx="1394" cy="1893.8" r="87.6" fill="none" stroke="#000" stroke-width="2.2"/>
<path d="M1678.3,1893.8L1723.16,1968.58A87.2,87.2 0 1 1 1678.3,1806.6Z" fill="#86da7e" stroke="#000" stroke-width="2" stroke-linejoin="round"/>
<path d="M1678.3,1893.8L1725.49,1967.13A87.2,87.2 0 0 1 1723.16,1968.58Z" fill="#e2e67c" stroke="#000" stroke-width="2" stroke-linejoin="round"/>
<path d="M1678.3,1893.8L1734.3,1960.64A87.2,87.2 0 0 1 1725.49,1967.13Z" fill="#8b7b60" stroke="#000" stroke-width="2" stroke-linejoin="round"/>
<path d="M1678.3,1893.8L1752.22,1940.06A87.2,87.2 0 0 1 1734.3,1960.64Z" fill="#cc6a50" stroke="#000" stroke-width="2" stroke-linejoin="round"/>
<path d="M1678.3,1893.8L1678.3,1806.6A87.2,87.2 0 0 1 1752.22,1940.06Z" fill="#e8a060" stroke="#000" stroke-width="2" stroke-linejoin="round"/>
<circle cx="1678.3" cy="1893.8" r="87.2" fill="none" stroke="#000" stroke-width="2.2"/>
<text transform="translate(1461.3,1824.2) scale(1.0605,1)" x="-1.02" y="0" font-size="20.3" fill="#dd9a5c" stroke="#dd9a5c" stroke-width="0.5">27.3%</text>
<text transform="translate(1487.4,1920) scale(1.0567,1)" x="-0.81" y="0" font-size="20.3" fill="#c2644c" stroke="#c2644c" stroke-width="0.5">8.3%</text>
<text transform="translate(1470.8,1955.9) scale(1.0760,1)" x="-1.52" y="0" font-size="20.3" fill="#7a6b55" stroke="#7a6b55" stroke-width="0.5">1.4%</text>
<text transform="translate(1449.5,1986.7) scale(1.0565,1)" x="-0.71" y="0" font-size="20.3" fill="#d8da62" stroke="#d8da62" stroke-width="0.5">0.6%</text>
<text transform="translate(1268.5,1964) scale(1.0784,1)" x="-1.02" y="0" font-size="20.3" fill="#7ccf74" stroke="#7ccf74" stroke-width="0.5">62.4%</text>
<text transform="translate(1762.1,1852.6) scale(1.0547,1)" x="-0.71" y="0" font-size="20.3" fill="#dd9a5c" stroke="#dd9a5c" stroke-width="0.5">33.9%</text>
<text transform="translate(1755,1955.4) scale(1.0751,1)" x="-0.81" y="0" font-size="20.3" fill="#c2644c" stroke="#c2644c" stroke-width="0.5">5%</text>
<text transform="translate(1748,1982.9) scale(1.0613,1)" x="-1.02" y="0" font-size="20.3" fill="#7a6b55" stroke="#7a6b55" stroke-width="0.5">2%</text>
<text transform="translate(1693.4,2000.4) scale(1.0565,1)" x="-0.71" y="0" font-size="20.3" fill="#d8da62" stroke="#d8da62" stroke-width="0.5">0.5%</text>
<text transform="translate(1573.6,1982) scale(1.0655,1)" x="-0.81" y="0" font-size="20.3" fill="#7ccf74" stroke="#7ccf74" stroke-width="0.5">58.6%</text>
<text transform="translate(1859.4,1829.9) scale(1.1124,1)" x="-1.1" y="0" font-size="22" fill="#000" stroke="#000" stroke-width="0.5">Cell type</text>
<rect x="1861.6" y="1845.5" width="19" height="16.6" fill="#8b7b60"/>
<text transform="translate(1895.9,1861.4) scale(1.1000,1)" x="-0" y="0" font-size="22" fill="#000" stroke="#000" stroke-width="0.5">Vasculature</text>
<rect x="1861.6" y="1866.8" width="19" height="16.6" fill="#cc6a50"/>
<text transform="translate(1895.9,1882.7) scale(1.1000,1)" x="-1.76" y="0" font-size="22" fill="#000" stroke="#000" stroke-width="0.5">Lymphoid</text>
<rect x="1861.6" y="1888.1" width="19" height="16.6" fill="#e8a060"/>
<text transform="translate(1895.9,1904) scale(1.1000,1)" x="-1.76" y="0" font-size="22" fill="#000" stroke="#000" stroke-width="0.5">Myeloid</text>
<rect x="1861.6" y="1909.4" width="19" height="16.6" fill="#86da7e"/>
<text transform="translate(1895.9,1925.3) scale(1.1000,1)" x="-0.44" y="0" font-size="22" fill="#000" stroke="#000" stroke-width="0.5">Tumor</text>
<rect x="1861.6" y="1930.7" width="19" height="16.6" fill="#e2e67c"/>
<text transform="translate(1895.9,1946.6) scale(1.1000,1)" x="-0.99" y="0" font-size="22" fill="#000" stroke="#000" stroke-width="0.5">OPC</text>
</svg>
</body></html>
